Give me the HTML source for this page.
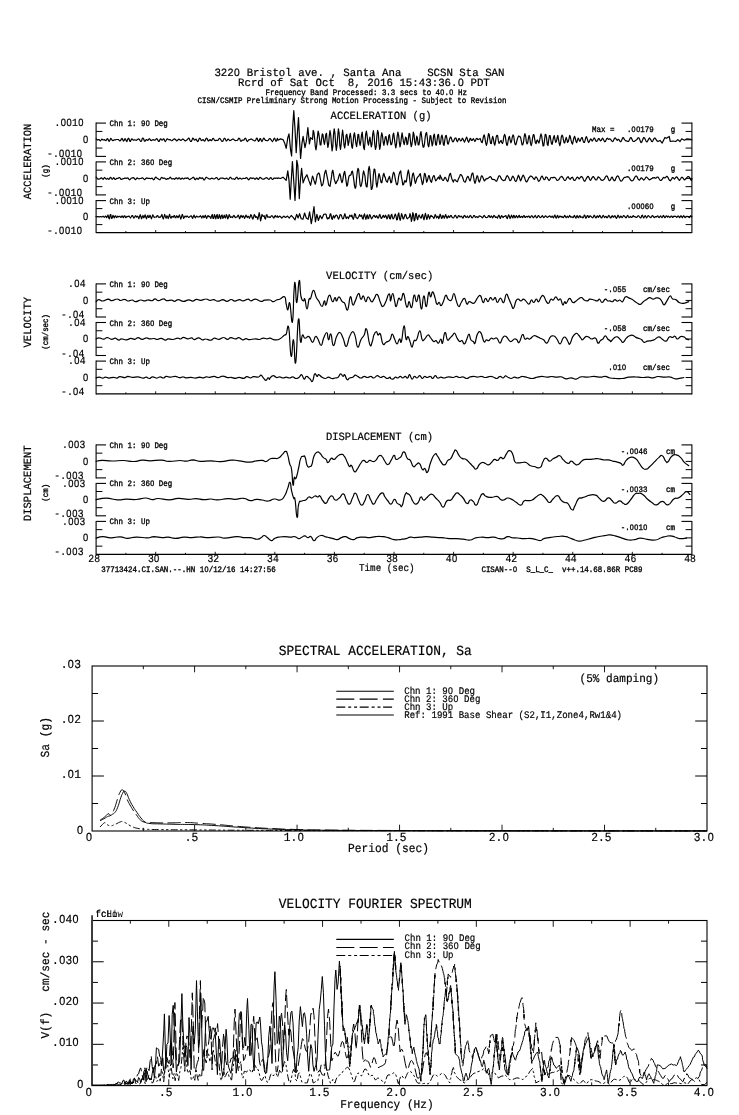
<!DOCTYPE html>
<html lang="en"><head><meta charset="utf-8"><title>Strong Motion Record - SCSN Sta SAN</title>
<style>
html,body{margin:0;padding:0;background:#fff;}
body{width:739px;height:1115px;overflow:hidden;}
svg{display:block;filter:grayscale(1);}
text{font-family:"Liberation Mono",monospace;fill:#000;text-rendering:geometricPrecision;white-space:pre;}
.z{font-family:"Liberation Sans",sans-serif;}
.s{stroke:#000;stroke-width:0.35px;}
.n{stroke:#000;stroke-width:0.2px;}
</style></head><body>
<svg width="739" height="1115" viewBox="0 0 739 1115">
<rect width="739" height="1115" fill="#fff"/>
<g stroke="#000" fill="none" stroke-linecap="butt">
<line x1="96.10" y1="122.60" x2="96.10" y2="156.90" stroke-width="1.1" />
<line x1="96.10" y1="123.10" x2="106.00" y2="123.10" stroke-width="1.1" />
<line x1="96.10" y1="131.43" x2="102.40" y2="131.43" stroke-width="1.0" />
<line x1="96.10" y1="148.07" x2="102.40" y2="148.07" stroke-width="1.0" />
<line x1="691.90" y1="122.60" x2="691.90" y2="156.90" stroke-width="1.1" />
<line x1="681.50" y1="123.10" x2="691.90" y2="123.10" stroke-width="1.1" />
<line x1="685.60" y1="131.43" x2="691.90" y2="131.43" stroke-width="1.0" />
<line x1="685.60" y1="139.75" x2="691.90" y2="139.75" stroke-width="1.0" />
<line x1="685.60" y1="148.07" x2="691.90" y2="148.07" stroke-width="1.0" />
<line x1="96.10" y1="156.40" x2="106.00" y2="156.40" stroke-width="1.1" />
<line x1="681.50" y1="156.40" x2="691.90" y2="156.40" stroke-width="1.1" />
<line x1="96.10" y1="161.40" x2="96.10" y2="195.40" stroke-width="1.1" />
<line x1="96.10" y1="161.90" x2="106.00" y2="161.90" stroke-width="1.1" />
<line x1="96.10" y1="170.15" x2="102.40" y2="170.15" stroke-width="1.0" />
<line x1="96.10" y1="186.65" x2="102.40" y2="186.65" stroke-width="1.0" />
<line x1="691.90" y1="161.40" x2="691.90" y2="195.40" stroke-width="1.1" />
<line x1="681.50" y1="161.90" x2="691.90" y2="161.90" stroke-width="1.1" />
<line x1="685.60" y1="170.15" x2="691.90" y2="170.15" stroke-width="1.0" />
<line x1="685.60" y1="178.40" x2="691.90" y2="178.40" stroke-width="1.0" />
<line x1="685.60" y1="186.65" x2="691.90" y2="186.65" stroke-width="1.0" />
<line x1="96.10" y1="194.90" x2="106.00" y2="194.90" stroke-width="1.1" />
<line x1="681.50" y1="194.90" x2="691.90" y2="194.90" stroke-width="1.1" />
<line x1="96.10" y1="200.10" x2="96.10" y2="233.10" stroke-width="1.1" />
<line x1="96.10" y1="200.60" x2="106.00" y2="200.60" stroke-width="1.1" />
<line x1="96.10" y1="208.60" x2="102.40" y2="208.60" stroke-width="1.0" />
<line x1="96.10" y1="224.60" x2="102.40" y2="224.60" stroke-width="1.0" />
<line x1="691.90" y1="200.10" x2="691.90" y2="233.10" stroke-width="1.1" />
<line x1="681.50" y1="200.60" x2="691.90" y2="200.60" stroke-width="1.1" />
<line x1="685.60" y1="208.60" x2="691.90" y2="208.60" stroke-width="1.0" />
<line x1="685.60" y1="216.60" x2="691.90" y2="216.60" stroke-width="1.0" />
<line x1="685.60" y1="224.60" x2="691.90" y2="224.60" stroke-width="1.0" />
<line x1="96.10" y1="232.60" x2="691.90" y2="232.60" stroke-width="1.1" />
<line x1="125.89" y1="231.00" x2="125.89" y2="232.60" stroke-width="0.9" />
<line x1="155.68" y1="230.00" x2="155.68" y2="232.60" stroke-width="0.9" />
<line x1="185.47" y1="231.00" x2="185.47" y2="232.60" stroke-width="0.9" />
<line x1="215.26" y1="230.00" x2="215.26" y2="232.60" stroke-width="0.9" />
<line x1="245.05" y1="231.00" x2="245.05" y2="232.60" stroke-width="0.9" />
<line x1="274.84" y1="230.00" x2="274.84" y2="232.60" stroke-width="0.9" />
<line x1="304.63" y1="231.00" x2="304.63" y2="232.60" stroke-width="0.9" />
<line x1="334.42" y1="230.00" x2="334.42" y2="232.60" stroke-width="0.9" />
<line x1="364.21" y1="231.00" x2="364.21" y2="232.60" stroke-width="0.9" />
<line x1="394.00" y1="230.00" x2="394.00" y2="232.60" stroke-width="0.9" />
<line x1="423.79" y1="231.00" x2="423.79" y2="232.60" stroke-width="0.9" />
<line x1="453.58" y1="230.00" x2="453.58" y2="232.60" stroke-width="0.9" />
<line x1="483.37" y1="231.00" x2="483.37" y2="232.60" stroke-width="0.9" />
<line x1="513.16" y1="230.00" x2="513.16" y2="232.60" stroke-width="0.9" />
<line x1="542.95" y1="231.00" x2="542.95" y2="232.60" stroke-width="0.9" />
<line x1="572.74" y1="230.00" x2="572.74" y2="232.60" stroke-width="0.9" />
<line x1="602.53" y1="231.00" x2="602.53" y2="232.60" stroke-width="0.9" />
<line x1="632.32" y1="230.00" x2="632.32" y2="232.60" stroke-width="0.9" />
<line x1="662.11" y1="231.00" x2="662.11" y2="232.60" stroke-width="0.9" />
<line x1="96.10" y1="283.40" x2="96.10" y2="317.50" stroke-width="1.1" />
<line x1="96.10" y1="283.90" x2="106.00" y2="283.90" stroke-width="1.1" />
<line x1="96.10" y1="292.17" x2="102.40" y2="292.17" stroke-width="1.0" />
<line x1="96.10" y1="308.73" x2="102.40" y2="308.73" stroke-width="1.0" />
<line x1="691.90" y1="283.40" x2="691.90" y2="317.50" stroke-width="1.1" />
<line x1="681.50" y1="283.90" x2="691.90" y2="283.90" stroke-width="1.1" />
<line x1="685.60" y1="292.17" x2="691.90" y2="292.17" stroke-width="1.0" />
<line x1="685.60" y1="300.45" x2="691.90" y2="300.45" stroke-width="1.0" />
<line x1="685.60" y1="308.73" x2="691.90" y2="308.73" stroke-width="1.0" />
<line x1="96.10" y1="317.00" x2="106.00" y2="317.00" stroke-width="1.1" />
<line x1="681.50" y1="317.00" x2="691.90" y2="317.00" stroke-width="1.1" />
<line x1="96.10" y1="322.00" x2="96.10" y2="356.00" stroke-width="1.1" />
<line x1="96.10" y1="322.50" x2="106.00" y2="322.50" stroke-width="1.1" />
<line x1="96.10" y1="330.75" x2="102.40" y2="330.75" stroke-width="1.0" />
<line x1="96.10" y1="347.25" x2="102.40" y2="347.25" stroke-width="1.0" />
<line x1="691.90" y1="322.00" x2="691.90" y2="356.00" stroke-width="1.1" />
<line x1="681.50" y1="322.50" x2="691.90" y2="322.50" stroke-width="1.1" />
<line x1="685.60" y1="330.75" x2="691.90" y2="330.75" stroke-width="1.0" />
<line x1="685.60" y1="339.00" x2="691.90" y2="339.00" stroke-width="1.0" />
<line x1="685.60" y1="347.25" x2="691.90" y2="347.25" stroke-width="1.0" />
<line x1="96.10" y1="355.50" x2="106.00" y2="355.50" stroke-width="1.1" />
<line x1="681.50" y1="355.50" x2="691.90" y2="355.50" stroke-width="1.1" />
<line x1="96.10" y1="360.60" x2="96.10" y2="394.40" stroke-width="1.1" />
<line x1="96.10" y1="361.10" x2="106.00" y2="361.10" stroke-width="1.1" />
<line x1="96.10" y1="369.30" x2="102.40" y2="369.30" stroke-width="1.0" />
<line x1="96.10" y1="385.70" x2="102.40" y2="385.70" stroke-width="1.0" />
<line x1="691.90" y1="360.60" x2="691.90" y2="394.40" stroke-width="1.1" />
<line x1="681.50" y1="361.10" x2="691.90" y2="361.10" stroke-width="1.1" />
<line x1="685.60" y1="369.30" x2="691.90" y2="369.30" stroke-width="1.0" />
<line x1="685.60" y1="377.50" x2="691.90" y2="377.50" stroke-width="1.0" />
<line x1="685.60" y1="385.70" x2="691.90" y2="385.70" stroke-width="1.0" />
<line x1="96.10" y1="393.90" x2="691.90" y2="393.90" stroke-width="1.1" />
<line x1="125.89" y1="392.30" x2="125.89" y2="393.90" stroke-width="0.9" />
<line x1="155.68" y1="391.30" x2="155.68" y2="393.90" stroke-width="0.9" />
<line x1="185.47" y1="392.30" x2="185.47" y2="393.90" stroke-width="0.9" />
<line x1="215.26" y1="391.30" x2="215.26" y2="393.90" stroke-width="0.9" />
<line x1="245.05" y1="392.30" x2="245.05" y2="393.90" stroke-width="0.9" />
<line x1="274.84" y1="391.30" x2="274.84" y2="393.90" stroke-width="0.9" />
<line x1="304.63" y1="392.30" x2="304.63" y2="393.90" stroke-width="0.9" />
<line x1="334.42" y1="391.30" x2="334.42" y2="393.90" stroke-width="0.9" />
<line x1="364.21" y1="392.30" x2="364.21" y2="393.90" stroke-width="0.9" />
<line x1="394.00" y1="391.30" x2="394.00" y2="393.90" stroke-width="0.9" />
<line x1="423.79" y1="392.30" x2="423.79" y2="393.90" stroke-width="0.9" />
<line x1="453.58" y1="391.30" x2="453.58" y2="393.90" stroke-width="0.9" />
<line x1="483.37" y1="392.30" x2="483.37" y2="393.90" stroke-width="0.9" />
<line x1="513.16" y1="391.30" x2="513.16" y2="393.90" stroke-width="0.9" />
<line x1="542.95" y1="392.30" x2="542.95" y2="393.90" stroke-width="0.9" />
<line x1="572.74" y1="391.30" x2="572.74" y2="393.90" stroke-width="0.9" />
<line x1="602.53" y1="392.30" x2="602.53" y2="393.90" stroke-width="0.9" />
<line x1="632.32" y1="391.30" x2="632.32" y2="393.90" stroke-width="0.9" />
<line x1="662.11" y1="392.30" x2="662.11" y2="393.90" stroke-width="0.9" />
<line x1="96.10" y1="444.40" x2="96.10" y2="478.40" stroke-width="1.1" />
<line x1="96.10" y1="444.90" x2="106.00" y2="444.90" stroke-width="1.1" />
<line x1="96.10" y1="453.15" x2="102.40" y2="453.15" stroke-width="1.0" />
<line x1="96.10" y1="469.65" x2="102.40" y2="469.65" stroke-width="1.0" />
<line x1="691.90" y1="444.40" x2="691.90" y2="478.40" stroke-width="1.1" />
<line x1="681.50" y1="444.90" x2="691.90" y2="444.90" stroke-width="1.1" />
<line x1="685.60" y1="453.15" x2="691.90" y2="453.15" stroke-width="1.0" />
<line x1="685.60" y1="461.40" x2="691.90" y2="461.40" stroke-width="1.0" />
<line x1="685.60" y1="469.65" x2="691.90" y2="469.65" stroke-width="1.0" />
<line x1="96.10" y1="477.90" x2="106.00" y2="477.90" stroke-width="1.1" />
<line x1="681.50" y1="477.90" x2="691.90" y2="477.90" stroke-width="1.1" />
<line x1="96.10" y1="482.90" x2="96.10" y2="516.30" stroke-width="1.1" />
<line x1="96.10" y1="483.40" x2="106.00" y2="483.40" stroke-width="1.1" />
<line x1="96.10" y1="491.50" x2="102.40" y2="491.50" stroke-width="1.0" />
<line x1="96.10" y1="507.70" x2="102.40" y2="507.70" stroke-width="1.0" />
<line x1="691.90" y1="482.90" x2="691.90" y2="516.30" stroke-width="1.1" />
<line x1="681.50" y1="483.40" x2="691.90" y2="483.40" stroke-width="1.1" />
<line x1="685.60" y1="491.50" x2="691.90" y2="491.50" stroke-width="1.0" />
<line x1="685.60" y1="499.60" x2="691.90" y2="499.60" stroke-width="1.0" />
<line x1="685.60" y1="507.70" x2="691.90" y2="507.70" stroke-width="1.0" />
<line x1="96.10" y1="515.80" x2="106.00" y2="515.80" stroke-width="1.1" />
<line x1="681.50" y1="515.80" x2="691.90" y2="515.80" stroke-width="1.1" />
<line x1="96.10" y1="520.90" x2="96.10" y2="554.90" stroke-width="1.1" />
<line x1="96.10" y1="521.40" x2="106.00" y2="521.40" stroke-width="1.1" />
<line x1="96.10" y1="529.65" x2="102.40" y2="529.65" stroke-width="1.0" />
<line x1="96.10" y1="546.15" x2="102.40" y2="546.15" stroke-width="1.0" />
<line x1="691.90" y1="520.90" x2="691.90" y2="554.90" stroke-width="1.1" />
<line x1="681.50" y1="521.40" x2="691.90" y2="521.40" stroke-width="1.1" />
<line x1="685.60" y1="529.65" x2="691.90" y2="529.65" stroke-width="1.0" />
<line x1="685.60" y1="537.90" x2="691.90" y2="537.90" stroke-width="1.0" />
<line x1="685.60" y1="546.15" x2="691.90" y2="546.15" stroke-width="1.0" />
<line x1="96.10" y1="554.40" x2="691.90" y2="554.40" stroke-width="1.1" />
<line x1="125.89" y1="552.80" x2="125.89" y2="554.40" stroke-width="0.9" />
<line x1="155.68" y1="551.80" x2="155.68" y2="554.40" stroke-width="0.9" />
<line x1="185.47" y1="552.80" x2="185.47" y2="554.40" stroke-width="0.9" />
<line x1="215.26" y1="551.80" x2="215.26" y2="554.40" stroke-width="0.9" />
<line x1="245.05" y1="552.80" x2="245.05" y2="554.40" stroke-width="0.9" />
<line x1="274.84" y1="551.80" x2="274.84" y2="554.40" stroke-width="0.9" />
<line x1="304.63" y1="552.80" x2="304.63" y2="554.40" stroke-width="0.9" />
<line x1="334.42" y1="551.80" x2="334.42" y2="554.40" stroke-width="0.9" />
<line x1="364.21" y1="552.80" x2="364.21" y2="554.40" stroke-width="0.9" />
<line x1="394.00" y1="551.80" x2="394.00" y2="554.40" stroke-width="0.9" />
<line x1="423.79" y1="552.80" x2="423.79" y2="554.40" stroke-width="0.9" />
<line x1="453.58" y1="551.80" x2="453.58" y2="554.40" stroke-width="0.9" />
<line x1="483.37" y1="552.80" x2="483.37" y2="554.40" stroke-width="0.9" />
<line x1="513.16" y1="551.80" x2="513.16" y2="554.40" stroke-width="0.9" />
<line x1="542.95" y1="552.80" x2="542.95" y2="554.40" stroke-width="0.9" />
<line x1="572.74" y1="551.80" x2="572.74" y2="554.40" stroke-width="0.9" />
<line x1="602.53" y1="552.80" x2="602.53" y2="554.40" stroke-width="0.9" />
<line x1="632.32" y1="551.80" x2="632.32" y2="554.40" stroke-width="0.9" />
<line x1="662.11" y1="552.80" x2="662.11" y2="554.40" stroke-width="0.9" />
</g>
<g stroke="#000" fill="none">
<rect x="92.10" y="666.00" width="614.90" height="165.00" stroke-width="1.1"/>
<line x1="143.34" y1="666.00" x2="143.34" y2="669.20" stroke-width="0.9" />
<line x1="143.34" y1="827.80" x2="143.34" y2="831.00" stroke-width="0.9" />
<line x1="194.58" y1="666.00" x2="194.58" y2="672.30" stroke-width="0.9" />
<line x1="194.58" y1="824.70" x2="194.58" y2="831.00" stroke-width="0.9" />
<line x1="245.82" y1="666.00" x2="245.82" y2="669.20" stroke-width="0.9" />
<line x1="245.82" y1="827.80" x2="245.82" y2="831.00" stroke-width="0.9" />
<line x1="297.07" y1="666.00" x2="297.07" y2="672.30" stroke-width="0.9" />
<line x1="297.07" y1="824.70" x2="297.07" y2="831.00" stroke-width="0.9" />
<line x1="348.31" y1="666.00" x2="348.31" y2="669.20" stroke-width="0.9" />
<line x1="348.31" y1="827.80" x2="348.31" y2="831.00" stroke-width="0.9" />
<line x1="399.55" y1="666.00" x2="399.55" y2="672.30" stroke-width="0.9" />
<line x1="399.55" y1="824.70" x2="399.55" y2="831.00" stroke-width="0.9" />
<line x1="450.79" y1="666.00" x2="450.79" y2="669.20" stroke-width="0.9" />
<line x1="450.79" y1="827.80" x2="450.79" y2="831.00" stroke-width="0.9" />
<line x1="502.03" y1="666.00" x2="502.03" y2="672.30" stroke-width="0.9" />
<line x1="502.03" y1="824.70" x2="502.03" y2="831.00" stroke-width="0.9" />
<line x1="553.27" y1="666.00" x2="553.27" y2="669.20" stroke-width="0.9" />
<line x1="553.27" y1="827.80" x2="553.27" y2="831.00" stroke-width="0.9" />
<line x1="604.52" y1="666.00" x2="604.52" y2="672.30" stroke-width="0.9" />
<line x1="604.52" y1="824.70" x2="604.52" y2="831.00" stroke-width="0.9" />
<line x1="655.76" y1="666.00" x2="655.76" y2="669.20" stroke-width="0.9" />
<line x1="655.76" y1="827.80" x2="655.76" y2="831.00" stroke-width="0.9" />
<line x1="92.10" y1="693.50" x2="98.10" y2="693.50" stroke-width="1.0" />
<line x1="701.00" y1="693.50" x2="707.00" y2="693.50" stroke-width="1.0" />
<line x1="92.10" y1="721.00" x2="103.90" y2="721.00" stroke-width="1.0" />
<line x1="695.20" y1="721.00" x2="707.00" y2="721.00" stroke-width="1.0" />
<line x1="92.10" y1="748.50" x2="98.10" y2="748.50" stroke-width="1.0" />
<line x1="701.00" y1="748.50" x2="707.00" y2="748.50" stroke-width="1.0" />
<line x1="92.10" y1="776.00" x2="103.90" y2="776.00" stroke-width="1.0" />
<line x1="695.20" y1="776.00" x2="707.00" y2="776.00" stroke-width="1.0" />
<line x1="92.10" y1="803.50" x2="98.10" y2="803.50" stroke-width="1.0" />
<line x1="701.00" y1="803.50" x2="707.00" y2="803.50" stroke-width="1.0" />
</g>
<g stroke="#000" fill="none">
<rect x="91.90" y="920.50" width="615.10" height="165.10" stroke-width="1.1"/>
<line x1="130.34" y1="920.50" x2="130.34" y2="923.70" stroke-width="0.9" />
<line x1="130.34" y1="1082.40" x2="130.34" y2="1085.60" stroke-width="0.9" />
<line x1="168.79" y1="920.50" x2="168.79" y2="926.80" stroke-width="0.9" />
<line x1="168.79" y1="1079.30" x2="168.79" y2="1085.60" stroke-width="0.9" />
<line x1="207.23" y1="920.50" x2="207.23" y2="923.70" stroke-width="0.9" />
<line x1="207.23" y1="1082.40" x2="207.23" y2="1085.60" stroke-width="0.9" />
<line x1="245.68" y1="920.50" x2="245.68" y2="926.80" stroke-width="0.9" />
<line x1="245.68" y1="1079.30" x2="245.68" y2="1085.60" stroke-width="0.9" />
<line x1="284.12" y1="920.50" x2="284.12" y2="923.70" stroke-width="0.9" />
<line x1="284.12" y1="1082.40" x2="284.12" y2="1085.60" stroke-width="0.9" />
<line x1="322.56" y1="920.50" x2="322.56" y2="926.80" stroke-width="0.9" />
<line x1="322.56" y1="1079.30" x2="322.56" y2="1085.60" stroke-width="0.9" />
<line x1="361.01" y1="920.50" x2="361.01" y2="923.70" stroke-width="0.9" />
<line x1="361.01" y1="1082.40" x2="361.01" y2="1085.60" stroke-width="0.9" />
<line x1="399.45" y1="920.50" x2="399.45" y2="926.80" stroke-width="0.9" />
<line x1="399.45" y1="1079.30" x2="399.45" y2="1085.60" stroke-width="0.9" />
<line x1="437.89" y1="920.50" x2="437.89" y2="923.70" stroke-width="0.9" />
<line x1="437.89" y1="1082.40" x2="437.89" y2="1085.60" stroke-width="0.9" />
<line x1="476.34" y1="920.50" x2="476.34" y2="926.80" stroke-width="0.9" />
<line x1="476.34" y1="1079.30" x2="476.34" y2="1085.60" stroke-width="0.9" />
<line x1="514.78" y1="920.50" x2="514.78" y2="923.70" stroke-width="0.9" />
<line x1="514.78" y1="1082.40" x2="514.78" y2="1085.60" stroke-width="0.9" />
<line x1="553.23" y1="920.50" x2="553.23" y2="926.80" stroke-width="0.9" />
<line x1="553.23" y1="1079.30" x2="553.23" y2="1085.60" stroke-width="0.9" />
<line x1="591.67" y1="920.50" x2="591.67" y2="923.70" stroke-width="0.9" />
<line x1="591.67" y1="1082.40" x2="591.67" y2="1085.60" stroke-width="0.9" />
<line x1="630.11" y1="920.50" x2="630.11" y2="926.80" stroke-width="0.9" />
<line x1="630.11" y1="1079.30" x2="630.11" y2="1085.60" stroke-width="0.9" />
<line x1="668.56" y1="920.50" x2="668.56" y2="923.70" stroke-width="0.9" />
<line x1="668.56" y1="1082.40" x2="668.56" y2="1085.60" stroke-width="0.9" />
<line x1="91.90" y1="941.14" x2="97.90" y2="941.14" stroke-width="1.0" />
<line x1="701.00" y1="941.14" x2="707.00" y2="941.14" stroke-width="1.0" />
<line x1="91.90" y1="961.77" x2="103.70" y2="961.77" stroke-width="1.0" />
<line x1="695.20" y1="961.77" x2="707.00" y2="961.77" stroke-width="1.0" />
<line x1="91.90" y1="982.41" x2="97.90" y2="982.41" stroke-width="1.0" />
<line x1="701.00" y1="982.41" x2="707.00" y2="982.41" stroke-width="1.0" />
<line x1="91.90" y1="1003.05" x2="103.70" y2="1003.05" stroke-width="1.0" />
<line x1="695.20" y1="1003.05" x2="707.00" y2="1003.05" stroke-width="1.0" />
<line x1="91.90" y1="1023.69" x2="97.90" y2="1023.69" stroke-width="1.0" />
<line x1="701.00" y1="1023.69" x2="707.00" y2="1023.69" stroke-width="1.0" />
<line x1="91.90" y1="1044.32" x2="103.70" y2="1044.32" stroke-width="1.0" />
<line x1="695.20" y1="1044.32" x2="707.00" y2="1044.32" stroke-width="1.0" />
<line x1="91.90" y1="1064.96" x2="97.90" y2="1064.96" stroke-width="1.0" />
<line x1="701.00" y1="1064.96" x2="707.00" y2="1064.96" stroke-width="1.0" />
</g>
<line x1="92.10" y1="915.20" x2="92.10" y2="1085.60" stroke="#3a3a3a" stroke-width="1.8"/>
<g stroke="#000" fill="none" stroke-linejoin="round" stroke-linecap="round">
<path d="M96.1 138.8 L96.8 139.4 L97.5 140.1 L98.2 139.7 L98.9 139.5 L99.6 140.2 L100.3 140.8 L101.0 140.1 L101.7 139.2 L102.4 139.4 L103.1 139.9 L103.8 139.8 L104.5 139.7 L105.2 140.3 L105.9 140.7 L106.6 139.7 L107.3 138.6 L108.0 139.2 L108.7 141.0 L109.4 141.3 L110.1 139.7 L110.8 138.4 L111.5 138.9 L112.2 140.3 L112.9 140.7 L113.6 140.2 L114.3 139.9 L115.0 139.9 L115.7 139.8 L116.4 139.5 L117.1 139.5 L117.8 139.5 L118.5 139.6 L119.2 140.3 L119.9 141.0 L120.6 140.6 L121.3 139.0 L122.0 138.3 L122.7 139.6 L123.4 141.1 L124.1 140.5 L124.8 138.8 L125.5 138.9 L126.2 140.9 L126.9 141.5 L127.6 139.6 L128.3 138.2 L129.0 138.8 L129.7 141.0 L130.4 141.4 L131.1 139.8 L131.8 138.8 L132.5 139.3 L133.2 140.1 L133.9 140.1 L134.6 139.8 L135.3 140.0 L136.0 140.3 L136.7 140.1 L137.4 139.6 L138.1 139.1 L138.8 138.9 L139.5 139.4 L140.2 140.9 L140.9 141.5 L141.6 140.9 L142.3 138.4 L143.0 138.2 L143.7 139.0 L144.4 141.1 L145.1 141.2 L145.8 140.0 L146.5 139.5 L147.2 140.2 L147.9 140.3 L148.6 139.4 L149.3 138.7 L150.0 139.3 L150.7 140.4 L151.4 140.6 L152.1 140.0 L152.8 139.7 L153.5 139.8 L154.2 140.2 L154.9 140.2 L155.6 139.7 L156.3 138.9 L157.0 138.7 L157.7 139.8 L158.4 141.3 L159.1 141.4 L159.8 139.9 L160.5 138.8 L161.2 139.3 L161.9 140.2 L162.6 139.8 L163.3 138.8 L164.0 139.1 L164.7 140.8 L165.4 141.5 L166.1 140.5 L166.8 139.0 L167.5 138.8 L168.2 139.5 L168.9 139.8 L169.6 139.6 L170.3 139.7 L171.0 140.4 L171.7 140.8 L172.4 140.5 L173.1 139.7 L173.8 139.1 L174.5 138.9 L175.2 139.2 L175.9 140.0 L176.6 140.8 L177.3 140.7 L178.0 139.8 L178.7 139.2 L179.4 139.4 L180.1 140.1 L180.8 140.5 L181.5 140.0 L182.2 139.3 L182.9 138.9 L183.6 139.4 L184.3 140.2 L185.0 140.8 L185.7 140.8 L186.4 140.3 L187.1 139.7 L187.8 139.0 L188.5 138.2 L189.2 138.4 L189.9 140.2 L190.6 141.5 L191.3 141.5 L192.0 140.0 L192.7 138.2 L193.4 138.4 L194.1 139.8 L194.8 140.2 L195.5 139.3 L196.2 139.2 L196.9 140.7 L197.6 141.5 L198.3 141.0 L199.0 138.9 L199.7 138.2 L200.4 138.8 L201.1 140.3 L201.8 140.6 L202.5 139.9 L203.2 139.7 L203.9 140.5 L204.6 141.2 L205.3 140.3 L206.0 138.6 L206.7 138.2 L207.4 139.2 L208.1 140.8 L208.8 140.9 L209.5 139.9 L210.2 139.7 L210.9 140.5 L211.6 140.7 L212.3 139.4 L213.0 138.3 L213.7 138.7 L214.4 140.1 L215.1 140.7 L215.8 140.4 L216.5 140.3 L217.2 140.5 L217.9 140.4 L218.6 139.3 L219.3 138.4 L220.0 138.5 L220.7 139.5 L221.4 140.8 L222.1 141.5 L222.8 141.2 L223.5 139.8 L224.2 138.3 L224.9 138.3 L225.6 139.8 L226.3 141.0 L227.0 140.5 L227.7 139.4 L228.4 139.1 L229.1 139.9 L229.8 140.6 L230.5 140.5 L231.2 140.0 L231.9 139.5 L232.6 139.1 L233.3 139.0 L234.0 139.6 L234.7 140.3 L235.4 140.6 L236.1 140.5 L236.8 140.5 L237.5 140.2 L238.2 139.2 L238.9 138.2 L239.6 138.6 L240.3 140.3 L241.0 141.3 L241.7 140.8 L242.4 140.0 L243.1 140.1 L243.8 140.2 L244.5 139.1 L245.2 138.2 L245.9 138.6 L246.6 140.6 L247.3 141.5 L248.0 140.9 L248.7 139.8 L249.4 139.6 L250.1 139.5 L250.8 139.1 L251.5 139.0 L252.2 139.5 L252.9 140.1 L253.6 140.5 L254.3 140.8 L255.0 140.9 L255.7 140.0 L256.4 138.4 L257.1 138.2 L257.8 139.9 L258.5 141.5 L259.2 140.7 L259.9 138.7 L260.6 138.7 L261.3 140.7 L262.0 141.5 L262.7 140.3 L263.4 138.4 L264.1 138.2 L264.8 139.5 L265.5 140.3 L266.2 140.5 L266.9 140.6 L267.6 140.7 L268.3 140.2 L269.0 139.1 L269.7 138.5 L270.4 138.8 L271.1 139.8 L271.8 140.9 L272.5 141.5 L273.2 140.5 L273.9 138.8 L274.6 138.2 L275.3 139.8 L276.0 141.3 L276.7 140.3 L277.4 138.4 L278.0 140.2 L280.5 138.9 L283.0 139.6 L284.5 142.7 L286.2 148.3 L287.8 137.7 L289.0 133.9 L290.6 150.2 L291.6 155.9 L292.8 125.1 L293.8 110.7 L295.0 128.9 L296.2 152.7 L297.5 131.4 L298.5 117.6 L299.6 141.4 L300.6 158.4 L301.9 143.9 L303.1 136.4 L305.0 147.7 L306.3 141.4 L307.9 127.6 L309.4 143.9 L310.6 137.7 L312.5 139.3 L313.2 130.4 L313.9 132.2 L314.6 138.2 L315.3 146.5 L316.0 149.8 L316.7 145.0 L317.4 137.3 L318.1 131.0 L318.8 133.6 L319.5 138.8 L320.2 144.9 L320.9 145.0 L321.6 138.8 L322.3 133.9 L323.0 134.6 L323.7 141.0 L324.4 144.5 L325.1 140.1 L325.8 134.4 L326.5 133.3 L327.2 142.2 L327.9 147.3 L328.6 143.7 L329.3 135.6 L330.0 130.6 L330.7 134.8 L331.4 143.8 L332.1 151.0 L332.8 146.4 L333.5 134.6 L334.2 128.9 L334.9 132.8 L335.6 143.6 L336.3 150.3 L337.0 145.5 L337.7 136.4 L338.4 128.9 L339.1 132.8 L339.8 145.1 L340.5 149.4 L341.2 144.0 L341.9 135.8 L342.6 130.2 L343.3 135.8 L344.0 144.9 L344.7 148.0 L345.4 143.2 L346.1 135.4 L346.8 134.2 L347.5 139.2 L348.2 145.4 L348.9 142.1 L349.6 136.3 L350.3 133.4 L351.0 138.2 L351.7 146.3 L352.4 148.3 L353.1 142.5 L353.8 135.0 L354.5 132.8 L355.2 137.6 L355.9 143.7 L356.6 146.6 L357.3 141.4 L358.0 134.3 L358.7 134.6 L359.4 141.9 L360.1 145.3 L360.8 141.7 L361.5 135.1 L362.2 132.1 L362.9 139.1 L363.6 147.3 L364.3 149.6 L365.0 142.7 L365.7 134.1 L366.4 131.2 L367.1 135.7 L367.8 142.6 L368.5 145.2 L369.2 140.4 L369.9 137.2 L370.6 142.2 L371.3 146.9 L372.0 144.0 L372.7 134.3 L373.4 130.6 L374.1 135.4 L374.8 145.0 L375.5 149.4 L376.2 146.5 L376.9 135.5 L377.6 130.4 L378.3 132.6 L379.0 143.5 L379.7 149.3 L380.4 145.7 L381.1 136.8 L381.8 132.8 L382.5 135.8 L383.2 142.2 L383.9 145.4 L384.6 141.4 L385.3 137.0 L386.0 136.5 L386.7 140.5 L387.4 144.9 L388.1 141.6 L388.8 135.7 L389.5 134.7 L390.2 140.3 L390.9 144.7 L391.6 144.7 L392.3 141.4 L393.0 134.7 L393.7 133.1 L394.4 138.6 L395.1 144.1 L395.8 147.9 L396.5 144.2 L397.2 136.0 L397.9 132.2 L398.6 135.1 L399.3 141.9 L400.0 146.9 L400.7 143.6 L401.4 137.3 L402.1 132.8 L402.8 137.3 L403.5 142.1 L404.2 144.7 L404.9 141.1 L405.6 137.1 L406.3 138.1 L407.0 144.6 L407.7 143.9 L408.4 138.4 L409.1 133.4 L409.8 133.9 L410.5 141.8 L411.2 146.7 L411.9 144.5 L412.6 139.0 L413.3 132.1 L414.0 134.5 L414.7 141.6 L415.4 145.2 L416.1 141.2 L416.8 136.1 L417.5 138.3 L418.2 144.9 L418.9 144.8 L419.6 141.1 L420.3 133.7 L421.0 131.6 L421.7 137.0 L422.4 142.9 L423.1 147.1 L423.8 147.2 L424.5 143.8 L425.2 137.2 L425.9 133.4 L426.6 132.5 L427.3 137.5 L428.0 145.0 L428.7 146.8 L429.4 142.5 L430.1 135.7 L430.8 135.9 L431.5 141.2 L432.2 145.9 L432.9 143.3 L433.6 135.9 L434.3 134.0 L435.0 138.9 L435.7 145.0 L436.4 145.2 L437.1 140.1 L437.8 134.9 L438.5 134.4 L439.2 140.5 L439.9 144.4 L440.6 142.7 L441.3 136.8 L442.0 135.1 L442.7 138.3 L443.4 144.7 L444.1 145.4 L444.8 140.1 L445.5 136.0 L446.2 135.4 L446.9 138.3 L447.6 143.8 L448.3 144.1 L449.0 141.5 L449.7 138.7 L450.4 137.1 L451.1 137.4 L451.8 139.8 L452.5 141.6 L453.2 141.8 L453.9 140.6 L454.6 138.8 L455.3 138.0 L456.0 138.0 L456.7 140.7 L457.4 141.7 L458.1 140.2 L458.8 138.6 L459.5 138.6 L460.2 140.4 L460.9 140.9 L461.6 140.2 L462.3 138.2 L463.0 138.9 L463.7 140.4 L464.4 142.1 L465.1 140.8 L465.8 138.9 L466.5 137.1 L467.2 138.3 L467.9 141.0 L468.6 142.3 L469.3 140.8 L470.0 138.5 L470.7 138.4 L471.4 140.5 L472.1 140.5 L472.8 139.2 L473.5 138.7 L474.2 140.2 L474.9 141.5 L475.6 140.4 L476.3 138.5 L477.0 138.3 L477.7 139.4 L478.0 139.6 L478.7 139.3 L479.4 139.0 L480.1 138.5 L480.8 140.4 L481.5 142.2 L482.2 142.6 L482.9 139.4 L483.6 135.9 L484.3 134.9 L485.0 138.7 L485.7 142.9 L486.4 145.4 L487.1 142.8 L487.8 137.9 L488.5 133.7 L489.2 134.4 L489.9 139.5 L490.6 143.5 L491.3 143.7 L492.0 139.1 L492.7 136.4 L493.4 138.6 L494.1 143.3 L494.8 145.2 L495.5 141.8 L496.2 137.0 L496.9 135.3 L497.6 135.5 L498.3 140.4 L499.0 143.4 L499.7 142.4 L500.4 141.2 L501.1 140.5 L501.8 142.6 L502.5 143.5 L503.2 141.2 L503.9 136.2 L504.6 134.4 L505.3 136.1 L506.0 141.2 L506.7 145.1 L507.4 145.2 L508.1 141.0 L508.8 137.3 L509.5 136.5 L510.2 140.3 L510.9 142.9 L511.6 141.1 L512.3 137.0 L513.0 134.9 L513.7 136.0 L514.4 141.1 L515.1 144.3 L515.8 144.8 L516.5 142.5 L517.2 139.5 L517.9 137.4 L518.6 136.0 L519.3 136.6 L520.0 136.4 L520.7 137.8 L521.4 141.4 L522.1 145.0 L522.8 144.7 L523.5 142.2 L524.2 136.5 L524.9 133.7 L525.6 135.8 L526.3 141.4 L527.0 144.0 L527.7 143.0 L528.4 138.3 L529.1 135.3 L529.8 138.0 L530.5 143.2 L531.2 145.7 L531.9 143.2 L532.6 137.8 L533.3 134.6 L534.0 134.9 L534.7 139.1 L535.4 142.8 L536.1 143.5 L536.8 140.4 L537.5 140.0 L538.2 142.0 L538.9 143.0 L539.6 140.5 L540.3 136.4 L541.0 133.9 L541.7 136.2 L542.4 141.4 L543.1 145.9 L543.8 145.6 L544.5 140.3 L545.2 134.3 L545.9 134.5 L546.6 138.0 L547.3 144.6 L548.0 145.5 L548.7 140.0 L549.4 135.6 L550.1 135.5 L550.8 140.0 L551.5 143.9 L552.2 144.3 L552.9 140.4 L553.6 137.2 L554.3 135.6 L555.0 139.6 L555.7 142.4 L556.4 141.5 L557.1 137.8 L557.8 135.4 L558.5 139.4 L559.2 143.5 L559.9 145.7 L560.6 142.5 L561.3 137.0 L562.0 135.1 L562.7 136.1 L563.4 139.8 L564.1 142.9 L564.8 142.9 L565.5 139.6 L566.2 137.4 L566.9 139.7 L567.6 142.5 L568.3 141.5 L569.0 138.8 L569.7 135.3 L570.4 137.0 L571.1 140.6 L571.8 143.0 L572.5 144.1 L573.2 141.0 L573.9 137.8 L574.6 136.3 L575.3 138.5 L576.0 141.4 L576.7 142.6 L577.4 140.3 L578.1 138.1 L578.8 139.0 L579.5 141.1 L580.2 141.1 L580.9 139.1 L581.6 137.7 L582.3 137.6 L583.0 140.6 L583.7 142.4 L584.4 142.5 L585.1 140.4 L585.8 137.4 L586.5 136.7 L587.2 138.6 L587.9 141.1 L588.6 142.5 L589.3 141.7 L590.0 140.0 L590.7 138.9 L591.4 139.5 L592.1 141.1 L592.8 140.1 L593.5 139.0 L594.2 137.9 L594.9 138.8 L595.6 140.4 L596.3 141.5 L597.0 141.2 L597.7 140.3 L598.4 138.5 L599.1 138.6 L599.8 139.8 L600.5 140.8 L601.2 140.4 L601.9 139.1 L602.6 138.1 L603.3 139.2 L604.0 140.6 L604.7 141.8 L605.4 141.4 L606.1 139.9 L606.8 138.5 L607.5 138.2 L608.2 139.2 L608.9 139.4 L609.6 138.8 L610.3 139.1 L611.0 139.9 L611.7 140.9 L612.4 141.6 L613.1 141.2 L613.8 139.7 L614.5 138.4 L615.2 137.8 L615.9 138.7 L616.6 139.8 L617.3 140.3 L618.0 139.3 L618.7 139.4 L619.4 140.3 L620.1 141.5 L620.8 141.8 L621.5 140.6 L622.2 138.9 L622.9 137.5 L623.6 137.8 L624.3 139.4 L625.0 140.1 L625.7 140.9 L626.4 140.9 L627.1 141.2 L627.8 141.3 L628.5 141.3 L629.2 140.3 L629.9 138.8 L630.6 137.6 L631.3 137.9 L632.0 139.2 L632.7 140.9 L633.4 141.5 L634.1 141.4 L634.8 141.1 L635.5 140.6 L636.2 140.0 L636.9 139.6 L637.6 138.3 L638.3 137.7 L639.0 138.1 L639.7 139.4 L640.4 141.4 L641.1 142.6 L641.8 142.0 L642.5 140.3 L643.2 138.3 L643.9 137.4 L644.6 137.9 L645.3 139.6 L646.0 141.1 L646.7 141.9 L647.4 141.6 L648.1 140.1 L648.8 138.9 L649.5 137.9 L650.2 138.9 L650.9 139.8 L651.6 141.4 L652.3 141.6 L653.0 140.6 L653.7 139.1 L654.4 138.1 L655.1 138.2 L655.8 139.1 L656.5 140.1 L657.2 141.1 L657.9 141.6 L660.0 140.4 L662.2 143.1 L664.9 137.5 L666.5 138.3 L669.2 136.4 L670.3 141.5 L673.0 141.0 L675.7 141.5 L677.9 139.6 L680.0 141.5 L681.7 138.8 L684.4 140.2 L687.0 138.8 L690.9 139.4 L691.9 139.8" stroke-width="1.2" />
<path d="M96.1 177.2 L96.8 177.9 L97.5 178.9 L98.2 179.2 L98.9 179.1 L99.6 179.0 L100.3 178.6 L101.0 177.8 L101.7 177.8 L102.4 178.8 L103.1 179.3 L103.8 178.4 L104.5 177.5 L105.2 178.0 L105.9 179.0 L106.6 179.1 L107.3 178.4 L108.0 178.6 L108.7 179.3 L109.4 179.0 L110.1 177.6 L110.8 177.3 L111.5 178.5 L112.2 179.4 L112.9 178.6 L113.6 177.7 L114.3 178.3 L115.0 179.4 L115.7 179.4 L116.4 178.6 L117.1 178.3 L117.8 178.4 L118.5 178.0 L119.2 177.5 L119.9 177.8 L120.6 178.9 L121.3 179.4 L122.0 179.2 L122.7 178.8 L123.4 178.6 L124.1 178.4 L124.8 178.1 L125.5 178.1 L126.2 178.4 L126.9 178.2 L127.6 177.9 L128.3 178.3 L129.0 179.4 L129.7 179.8 L130.4 179.1 L131.1 178.3 L131.8 178.0 L132.5 177.8 L133.2 177.6 L133.9 177.9 L134.6 178.9 L135.3 179.7 L136.0 179.2 L136.7 178.2 L137.4 177.9 L138.1 178.4 L138.8 178.8 L139.5 178.7 L140.2 178.5 L140.9 178.4 L141.6 178.2 L142.3 177.8 L143.0 178.1 L143.7 178.9 L144.4 179.6 L145.1 179.3 L145.8 178.4 L146.5 177.9 L147.2 178.1 L147.9 178.4 L148.6 178.4 L149.3 178.3 L150.0 178.5 L150.7 178.6 L151.4 178.3 L152.1 178.2 L152.8 178.9 L153.5 179.8 L154.2 179.5 L154.9 178.1 L155.6 177.2 L156.3 177.3 L157.0 178.2 L157.7 178.6 L158.4 178.9 L159.1 179.5 L159.8 179.8 L160.5 179.1 L161.2 177.7 L161.9 177.4 L162.6 178.1 L163.3 178.5 L164.0 178.1 L164.7 178.1 L165.4 178.8 L166.1 179.4 L166.8 179.1 L167.5 178.6 L168.2 178.8 L168.9 178.6 L169.6 177.8 L170.3 177.2 L171.0 178.0 L171.7 179.0 L172.4 179.0 L173.1 178.5 L173.8 178.8 L174.5 179.3 L175.2 178.8 L175.9 177.8 L176.6 177.8 L177.3 178.8 L178.0 178.9 L178.7 177.9 L179.4 177.8 L180.1 178.8 L180.8 179.4 L181.5 178.7 L182.2 178.0 L182.9 178.5 L183.6 179.1 L184.3 178.7 L185.0 178.0 L185.7 178.1 L186.4 178.4 L187.1 178.1 L187.8 177.8 L188.5 178.5 L189.2 179.5 L189.9 179.6 L190.6 178.9 L191.3 178.5 L192.0 178.2 L192.7 177.5 L193.4 177.2 L194.1 178.0 L194.8 179.4 L195.5 179.6 L196.2 178.6 L196.9 178.2 L197.6 179.0 L198.3 179.3 L199.0 178.3 L199.7 177.5 L200.4 178.0 L201.1 178.6 L201.8 178.1 L202.5 177.8 L203.2 178.8 L203.9 179.8 L204.6 179.8 L205.3 178.5 L206.0 177.3 L206.7 177.4 L207.4 178.0 L208.1 178.3 L208.8 178.7 L209.5 179.1 L210.2 179.1 L210.9 178.6 L211.6 178.2 L212.3 178.3 L213.0 178.6 L213.7 178.8 L214.4 178.8 L215.1 178.5 L215.8 177.8 L216.5 177.5 L217.2 178.0 L217.9 179.1 L218.6 179.7 L219.3 179.3 L220.0 178.5 L220.7 178.1 L221.4 178.1 L222.1 178.2 L222.8 178.1 L223.5 178.3 L224.2 178.7 L224.9 178.9 L225.6 178.6 L226.3 178.2 L227.0 178.4 L227.7 179.1 L228.4 179.5 L229.1 178.8 L229.8 177.5 L230.5 177.2 L231.2 178.0 L231.9 178.9 L232.6 179.0 L233.3 178.7 L234.0 179.0 L234.7 179.4 L235.4 178.8 L236.1 177.5 L236.8 177.2 L237.5 178.2 L238.2 179.2 L238.9 178.9 L239.6 178.2 L240.3 178.2 L241.0 178.8 L241.7 179.1 L242.4 178.7 L243.1 178.4 L243.8 178.4 L244.5 178.5 L245.2 178.4 L245.9 177.9 L246.6 177.7 L247.3 178.2 L248.0 179.2 L248.7 179.8 L249.4 179.2 L250.1 178.1 L250.8 177.7 L251.5 178.3 L252.2 178.6 L252.9 178.1 L253.6 178.0 L254.3 178.7 L255.0 179.4 L255.7 178.8 L256.4 177.9 L257.1 178.1 L257.8 179.2 L258.5 179.4 L259.2 178.4 L259.9 177.4 L260.6 177.5 L261.3 178.2 L262.0 178.8 L262.7 179.1 L263.4 179.2 L264.1 179.1 L264.8 178.6 L265.5 178.0 L266.2 177.7 L266.9 177.8 L267.6 178.4 L268.3 179.2 L269.0 179.4 L269.7 178.6 L270.4 177.6 L271.1 177.7 L271.8 178.8 L272.5 179.5 L273.2 179.0 L273.9 178.2 L274.6 178.1 L275.3 178.3 L276.0 178.2 L276.7 178.1 L277.4 178.5 L278.0 177.9 L280.5 178.5 L283.0 177.2 L284.9 179.1 L286.2 180.4 L287.8 170.9 L289.0 180.4 L290.2 199.2 L291.2 181.6 L292.4 161.5 L293.7 180.4 L295.0 200.5 L296.0 181.6 L296.8 160.3 L297.8 165.3 L299.3 198.6 L300.4 180.4 L301.6 168.4 L303.1 182.9 L305.0 177.9 L306.9 174.7 L308.8 180.4 L310.6 185.4 L312.5 176.0 L313.2 177.7 L313.9 180.2 L314.6 182.3 L315.3 184.2 L316.0 181.5 L316.7 177.3 L317.4 174.2 L318.1 173.8 L318.8 173.0 L319.5 174.1 L320.2 178.3 L320.9 181.8 L321.6 185.9 L322.3 185.3 L323.0 184.0 L323.7 179.8 L324.4 174.6 L325.1 171.7 L325.8 170.2 L326.5 173.7 L327.2 177.1 L327.9 180.5 L328.6 184.9 L329.3 185.8 L330.0 186.3 L330.7 181.8 L331.4 177.7 L332.1 172.0 L332.8 170.2 L333.5 173.9 L334.2 179.1 L334.9 181.2 L335.6 183.7 L336.3 183.0 L337.0 180.9 L337.7 180.4 L338.4 178.1 L339.1 175.5 L339.8 173.7 L340.5 175.9 L341.2 180.4 L341.9 182.7 L342.6 181.0 L343.3 176.7 L344.0 172.9 L344.7 171.3 L345.4 175.7 L346.1 181.2 L346.8 186.1 L347.5 185.1 L348.2 180.4 L348.9 176.6 L349.6 175.3 L350.3 175.3 L351.0 174.8 L351.7 171.7 L352.4 171.1 L353.1 174.8 L353.8 179.8 L354.5 185.6 L355.2 188.3 L355.9 187.0 L356.6 178.5 L357.3 171.6 L358.0 168.3 L358.7 170.0 L359.4 177.6 L360.1 184.8 L360.8 186.6 L361.5 184.7 L362.2 181.2 L362.9 174.7 L363.6 170.9 L364.3 173.6 L365.0 176.2 L365.7 183.7 L366.4 186.8 L367.1 186.8 L367.8 178.6 L368.5 169.4 L369.2 166.4 L369.9 170.7 L370.6 180.5 L371.3 189.4 L372.0 189.0 L372.7 185.5 L373.4 174.7 L374.1 169.0 L374.8 169.3 L375.5 174.7 L376.2 183.2 L376.9 187.1 L377.6 183.1 L378.3 177.4 L379.0 173.7 L379.7 175.6 L380.4 179.4 L381.1 182.5 L381.8 182.8 L382.5 179.0 L383.2 174.9 L383.9 173.3 L384.6 176.4 L385.3 177.6 L386.0 180.7 L386.7 181.6 L387.4 182.2 L388.1 179.4 L388.8 178.1 L389.5 176.3 L390.2 179.6 L390.9 182.8 L391.6 182.3 L392.3 177.8 L393.0 173.8 L393.7 172.2 L394.4 173.9 L395.1 177.8 L395.8 181.7 L396.5 184.3 L397.2 184.8 L397.9 182.3 L398.6 176.6 L399.3 173.7 L400.0 171.8 L400.7 170.8 L401.4 176.8 L402.1 180.2 L402.8 184.9 L403.5 184.5 L404.2 182.3 L404.9 180.4 L405.6 181.9 L406.3 181.8 L407.0 177.4 L407.7 172.6 L408.4 170.0 L409.1 173.9 L409.8 179.9 L410.5 186.1 L411.2 184.8 L411.9 178.7 L412.6 174.3 L413.3 173.0 L414.0 175.9 L414.7 180.3 L415.4 183.3 L416.1 181.4 L416.8 178.6 L417.5 177.4 L418.2 176.5 L418.9 176.0 L419.6 174.5 L420.3 173.7 L421.0 177.6 L421.7 181.0 L422.4 184.6 L423.1 183.1 L423.8 178.1 L424.5 173.4 L425.2 174.0 L425.9 177.6 L426.6 182.2 L427.3 181.0 L428.0 178.2 L428.7 175.6 L429.4 176.1 L430.1 179.6 L430.8 181.5 L431.5 182.4 L432.2 179.5 L432.9 177.1 L433.6 175.7 L434.3 175.9 L435.0 178.9 L435.7 180.9 L436.4 180.2 L437.1 179.0 L437.8 177.9 L438.5 177.0 L439.2 178.8 L439.9 179.1 L440.0 175.0 L440.7 176.5 L441.4 177.7 L442.1 179.5 L442.8 180.4 L443.5 180.3 L444.2 178.8 L444.9 177.3 L445.6 177.7 L446.3 179.3 L447.0 180.6 L447.7 181.5 L448.4 179.6 L449.1 176.2 L449.8 174.0 L450.5 173.4 L451.2 176.3 L451.9 178.9 L452.6 180.5 L453.3 182.1 L454.0 180.1 L454.7 179.8 L455.4 179.8 L456.1 180.9 L456.8 181.4 L457.5 181.8 L458.2 179.4 L458.9 177.9 L459.6 176.5 L460.3 174.7 L461.0 174.5 L461.7 175.4 L462.4 176.7 L463.1 178.8 L463.8 181.1 L464.5 182.0 L465.2 182.2 L465.9 180.8 L466.6 178.3 L467.3 176.9 L468.0 176.3 L468.7 177.9 L469.4 179.9 L470.1 180.9 L470.8 178.9 L471.5 175.2 L472.2 173.1 L472.9 173.2 L473.6 177.0 L474.3 181.3 L475.0 183.4 L475.7 181.4 L476.4 177.9 L477.1 175.7 L477.8 176.6 L478.5 180.1 L479.2 182.1 L479.9 180.9 L480.6 178.7 L481.3 176.1 L482.0 175.9 L482.7 177.0 L483.4 178.8 L484.1 180.6 L484.8 180.8 L485.5 179.2 L486.2 179.1 L486.9 178.4 L487.6 178.7 L488.3 178.1 L489.0 177.5 L489.7 176.8 L490.4 176.6 L491.1 177.2 L491.8 179.0 L492.5 179.4 L493.2 179.4 L493.9 179.6 L494.6 179.5 L495.3 180.4 L496.0 181.1 L496.7 181.2 L497.4 179.4 L498.1 177.8 L498.8 176.1 L499.5 175.8 L500.2 176.2 L500.9 177.9 L501.6 179.2 L502.3 179.9 L503.0 180.2 L503.7 180.7 L504.4 180.1 L505.1 180.2 L505.8 178.2 L506.5 176.5 L507.2 175.5 L507.9 176.4 L508.6 177.4 L509.3 179.3 L510.0 180.6 L510.7 180.4 L511.4 179.3 L512.1 177.2 L512.8 176.2 L513.5 176.9 L514.2 178.3 L514.9 180.6 L515.6 181.3 L516.3 181.1 L517.0 179.3 L517.7 177.2 L518.4 175.2 L519.1 176.5 L519.8 178.7 L520.5 180.9 L521.2 179.8 L521.9 177.8 L522.6 175.8 L523.3 175.1 L524.0 176.5 L524.7 178.1 L525.4 180.0 L526.1 181.7 L526.8 181.9 L527.5 180.9 L528.2 179.3 L528.9 177.8 L529.6 177.2 L530.3 176.1 L531.0 176.1 L531.7 176.5 L532.4 176.9 L533.1 178.1 L533.8 178.9 L534.5 179.4 L535.2 177.7 L535.9 176.8 L536.6 177.5 L537.3 178.4 L538.0 180.3 L538.7 181.3 L539.4 180.8 L540.1 179.7 L540.8 177.8 L541.5 176.5 L542.2 176.1 L542.9 177.5 L543.6 179.1 L544.3 179.7 L545.0 179.2 L545.7 177.1 L546.4 177.0 L547.1 177.4 L547.8 178.7 L548.5 179.9 L549.2 180.4 L549.9 179.7 L550.6 177.9 L551.3 177.5 L552.0 177.5 L552.7 177.9 L553.4 177.4 L554.1 177.4 L554.8 177.3 L555.5 178.2 L556.2 178.9 L556.9 180.3 L557.6 180.3 L558.3 179.9 L559.0 179.4 L559.7 178.2 L560.4 177.0 L561.1 176.8 L561.8 176.3 L562.5 177.2 L563.2 178.2 L563.9 179.6 L564.6 180.5 L565.3 180.4 L566.0 179.5 L566.7 178.1 L567.4 177.2 L568.1 176.6 L568.8 178.0 L569.5 178.7 L570.2 179.3 L570.9 178.3 L571.6 177.5 L572.3 177.2 L573.0 178.2 L573.7 180.0 L574.4 180.4 L575.1 180.3 L575.8 179.2 L576.5 178.0 L577.2 177.2 L577.9 177.4 L578.6 178.4 L579.3 178.9 L580.0 177.8 L580.7 177.0 L581.4 176.4 L582.1 176.9 L582.8 177.9 L583.5 179.7 L584.2 181.1 L584.9 181.2 L585.6 180.0 L586.3 178.6 L587.0 177.4 L587.7 176.3 L588.4 176.6 L589.1 177.9 L589.8 179.6 L590.5 180.4 L591.2 179.5 L591.9 178.1 L592.6 176.9 L593.3 176.5 L594.0 177.3 L594.7 178.4 L595.4 179.7 L596.1 180.0 L596.8 179.7 L597.5 178.1 L598.2 176.8 L598.9 177.4 L599.6 177.7 L600.3 178.8 L601.0 179.9 L601.7 180.2 L602.4 180.3 L603.1 180.1 L603.8 179.6 L604.5 178.9 L605.2 177.3 L605.9 176.2 L606.6 175.9 L607.3 176.3 L608.0 177.9 L608.7 179.8 L609.4 180.7 L610.1 180.3 L610.8 179.1 L611.5 177.5 L612.2 177.1 L612.9 178.6 L613.6 179.9 L614.3 180.8 L615.0 180.4 L615.7 178.7 L616.4 177.2 L617.1 176.2 L617.8 175.9 L618.5 176.4 L619.2 178.2 L619.9 179.8 L620.6 180.9 L621.3 181.1 L622.0 180.7 L622.7 179.6 L623.4 178.5 L624.1 177.6 L624.8 177.3 L625.5 177.5 L626.2 177.0 L626.9 176.8 L627.6 176.7 L628.3 176.8 L629.0 177.5 L629.7 178.5 L630.4 179.7 L631.1 180.6 L631.8 181.0 L632.5 180.7 L633.2 180.2 L633.9 179.2 L634.6 177.5 L635.3 176.6 L636.0 176.1 L636.7 176.2 L637.4 177.4 L638.1 179.1 L638.8 179.7 L639.5 180.2 L640.2 179.1 L640.9 178.1 L641.6 177.8 L642.3 178.5 L643.0 179.4 L643.7 180.1 L644.4 179.6 L645.1 178.5 L645.8 177.3 L646.5 177.0 L647.2 177.6 L647.9 178.4 L648.6 179.2 L649.3 179.9 L650.0 179.4 L650.7 179.3 L651.4 178.7 L652.1 178.5 L652.8 177.6 L653.5 177.8 L654.2 177.6 L654.9 177.8 L655.6 178.3 L656.3 177.9 L657.0 177.1 L657.7 177.0 L658.4 177.5 L659.1 178.7 L659.8 179.8 L660.5 180.5 L661.2 180.3 L661.9 179.7 L662.6 178.6 L663.3 177.6 L664.0 177.4 L664.7 178.0 L665.4 177.7 L666.1 176.9 L666.8 176.3 L667.5 176.8 L668.2 177.9 L668.9 179.4 L669.6 180.5 L670.3 180.8 L671.0 179.8 L671.7 178.9 L672.4 177.6 L673.1 177.6 L673.8 178.4 L674.5 179.0 L675.2 178.2 L675.9 177.2 L676.6 176.9 L677.3 177.2 L678.0 178.7 L678.7 179.6 L679.4 180.3 L680.1 179.5 L680.8 178.5 L681.5 177.4 L682.2 177.3 L682.9 177.9 L683.6 178.8 L684.3 179.9 L685.0 179.6 L685.7 179.0 L686.4 178.2 L687.1 177.4 L687.8 176.7 L688.5 176.6 L689.2 177.1 L689.9 178.0 L690.6 179.6 L691.3 180.5 L691.9 178.5" stroke-width="1.2" />
<path d="M96.1 216.4 L96.8 216.9 L97.5 216.7 L98.2 216.6 L98.9 216.8 L99.6 216.9 L100.3 216.6 L101.0 216.5 L101.7 217.0 L102.4 216.7 L103.1 216.2 L103.8 216.9 L104.5 217.3 L105.2 216.2 L105.9 216.4 L106.6 217.7 L107.3 216.3 L108.0 215.0 L108.7 217.9 L109.4 218.8 L110.1 215.1 L110.8 214.6 L111.5 218.3 L112.2 218.2 L112.9 215.3 L113.6 216.4 L114.3 217.9 L115.0 216.0 L115.7 215.8 L116.4 217.6 L117.1 217.2 L117.8 216.2 L118.5 216.8 L119.2 216.6 L119.9 216.2 L120.6 217.3 L121.3 217.1 L122.0 215.8 L122.7 216.9 L123.4 217.6 L124.1 215.9 L124.8 215.8 L125.5 217.6 L126.2 217.4 L126.9 216.3 L127.6 216.6 L128.3 216.5 L129.0 216.0 L129.7 217.0 L130.4 218.0 L131.1 217.0 L131.8 215.7 L132.5 215.6 L133.2 216.9 L133.9 218.1 L134.6 217.3 L135.3 215.7 L136.0 216.2 L136.7 217.0 L137.4 216.1 L138.1 216.9 L138.8 218.7 L139.5 216.6 L140.2 214.6 L140.9 216.7 L141.6 218.8 L142.3 216.5 L143.0 215.5 L143.7 217.8 L144.4 216.9 L145.1 214.8 L145.8 217.0 L146.5 218.8 L147.2 216.3 L147.9 215.3 L148.6 217.5 L149.3 217.2 L150.0 215.2 L150.7 216.7 L151.4 218.8 L152.1 216.9 L152.8 214.8 L153.5 216.2 L154.2 217.5 L154.9 217.0 L155.6 217.0 L156.3 217.2 L157.0 215.8 L157.7 215.6 L158.4 217.1 L159.1 217.6 L159.8 217.1 L160.5 217.2 L161.2 215.9 L161.9 214.5 L162.6 217.2 L163.3 219.0 L164.0 216.7 L164.7 214.4 L165.4 216.7 L166.1 218.3 L166.8 215.8 L167.5 216.4 L168.2 218.7 L168.9 216.4 L169.6 214.3 L170.3 217.0 L171.0 218.3 L171.7 216.4 L172.4 216.5 L173.1 217.3 L173.8 215.9 L174.5 215.6 L175.2 217.7 L175.9 217.7 L176.6 215.8 L177.3 216.4 L178.0 217.7 L178.7 216.4 L179.4 215.0 L180.1 216.9 L180.8 219.1 L181.5 217.1 L182.2 214.3 L182.9 215.7 L183.6 218.4 L184.3 217.5 L185.0 216.0 L185.7 216.7 L186.4 216.9 L187.1 215.9 L187.8 216.5 L188.5 217.5 L189.2 217.2 L189.9 216.6 L190.6 216.0 L191.3 215.8 L192.0 217.3 L192.7 218.3 L193.4 216.3 L194.1 215.1 L194.8 217.0 L195.5 217.8 L196.2 216.4 L196.9 216.2 L197.6 216.9 L198.3 216.9 L199.0 217.0 L199.7 216.6 L200.4 215.7 L201.1 216.8 L201.8 218.0 L202.5 216.3 L203.2 215.8 L203.9 217.7 L204.6 217.0 L205.3 215.2 L206.0 217.0 L206.7 218.4 L207.4 216.3 L208.1 215.7 L208.8 216.7 L209.5 216.3 L210.2 217.2 L210.9 218.4 L211.6 215.7 L212.3 214.5 L213.0 218.3 L213.7 218.4 L214.4 214.5 L215.1 216.3 L215.8 218.9 L216.5 215.8 L217.2 214.5 L217.9 218.5 L218.6 218.2 L219.3 214.6 L220.0 216.7 L220.7 218.8 L221.4 215.4 L222.1 215.0 L222.8 218.5 L223.5 217.5 L224.2 215.1 L224.9 217.4 L225.6 217.9 L226.3 214.6 L227.0 215.7 L227.7 218.9 L228.4 217.8 L229.1 214.5 L229.8 215.8 L230.5 217.5 L231.2 216.9 L231.9 217.1 L232.6 217.6 L233.3 216.0 L234.0 215.3 L234.7 216.9 L235.4 217.6 L236.1 217.0 L236.8 217.1 L237.5 216.4 L238.2 215.1 L238.9 216.5 L239.6 218.7 L240.3 217.2 L241.0 215.3 L241.7 216.7 L242.4 217.4 L243.1 215.7 L243.8 216.4 L244.5 218.4 L245.2 217.0 L245.9 215.1 L246.6 216.4 L247.3 217.5 L248.0 216.2 L248.7 216.6 L249.4 218.3 L250.1 217.0 L250.8 214.6 L251.5 215.3 L252.2 218.0 L252.9 219.1 L253.6 217.0 L254.3 214.5 L255.0 215.5 L255.7 217.5 L256.4 216.7 L257.1 217.2 L257.8 219.4 L258.5 216.2 L259.2 212.6 L259.9 216.1 L260.6 220.8 L261.3 218.1 L262.0 214.4 L262.7 216.0 L263.4 216.3 L264.1 215.7 L264.8 218.4 L265.5 219.0 L266.2 215.3 L266.9 214.7 L267.6 217.1 L268.3 217.2 L269.0 216.6 L269.7 217.4 L270.4 217.3 L271.1 216.2 L271.8 215.7 L272.5 216.0 L273.2 217.5 L273.9 218.1 L274.6 216.4 L275.3 215.5 L276.0 217.0 L276.7 217.0 L277.4 215.8 L278.0 217.4 L279.9 216.1 L281.8 218.0 L283.7 216.1 L285.5 217.4 L287.4 216.1 L289.3 218.0 L291.2 215.5 L293.1 217.4 L295.0 219.9 L296.6 214.3 L298.1 218.0 L299.6 213.6 L301.2 218.7 L302.9 219.3 L304.6 213.0 L306.3 218.0 L308.1 219.3 L309.6 211.8 L311.3 223.7 L312.5 216.8 L314.0 206.7 L315.4 221.8 L316.9 214.3 L318.4 220.5 L320.1 215.5 L321.9 218.7 L323.8 214.3 L326.0 214.0 L326.7 217.3 L327.4 219.0 L328.1 217.8 L328.8 218.7 L329.5 217.0 L330.2 213.9 L330.9 214.1 L331.6 218.3 L332.3 219.4 L333.0 216.7 L333.7 215.7 L334.4 218.0 L335.1 216.8 L335.8 215.3 L336.5 215.0 L337.2 215.9 L337.9 217.9 L338.6 219.1 L339.3 217.5 L340.0 214.9 L340.7 214.6 L341.4 215.4 L342.1 217.7 L342.8 218.9 L343.5 218.5 L344.2 215.7 L344.9 213.7 L345.6 216.5 L346.3 218.5 L347.0 217.0 L347.7 217.0 L348.4 218.6 L349.1 217.1 L349.8 215.1 L350.5 215.8 L351.2 216.6 L351.9 215.1 L352.6 217.8 L353.3 219.3 L354.0 216.8 L354.7 213.6 L355.4 214.4 L356.1 217.7 L356.8 217.9 L357.5 218.6 L358.2 217.6 L358.9 216.2 L359.6 214.6 L360.3 216.2 L361.0 216.2 L361.7 215.2 L362.4 218.4 L363.1 219.1 L363.8 215.6 L364.5 213.9 L365.2 216.9 L365.9 219.4 L366.6 216.3 L367.3 214.8 L368.0 218.7 L368.7 218.5 L369.4 214.9 L370.1 214.8 L370.8 217.1 L371.5 218.9 L372.2 217.9 L372.9 216.7 L373.6 215.5 L374.3 215.4 L375.0 217.0 L375.7 217.4 L376.4 215.7 L377.1 216.5 L377.8 218.1 L378.5 218.0 L379.2 215.3 L379.9 214.5 L380.6 216.8 L381.3 218.5 L382.0 217.8 L382.7 216.2 L383.4 215.3 L384.1 217.4 L384.8 216.9 L385.5 215.2 L386.2 216.3 L386.9 218.8 L387.6 217.9 L388.3 214.8 L389.0 215.1 L389.7 218.6 L390.4 218.8 L391.1 215.2 L391.8 214.3 L392.5 217.7 L393.2 218.9 L393.9 218.2 L394.6 215.7 L395.3 214.1 L396.0 216.0 L396.7 219.9 L397.4 219.5 L398.1 214.4 L398.8 213.0 L399.5 218.0 L400.2 220.3 L400.9 217.2 L401.6 213.6 L402.3 215.6 L403.0 218.9 L403.7 218.9 L404.4 216.5 L405.1 214.4 L405.8 214.7 L406.5 217.4 L407.2 218.8 L407.9 218.1 L408.6 217.7 L409.3 217.1 L410.0 213.7 L410.7 216.0 L411.4 221.3 L412.1 218.6 L412.8 212.6 L413.5 214.5 L414.2 220.8 L414.9 219.9 L415.6 213.8 L416.3 213.5 L417.0 218.3 L417.7 219.6 L418.4 216.2 L419.1 215.0 L419.8 216.4 L420.5 217.8 L421.2 218.1 L421.9 215.4 L422.6 214.4 L423.3 217.8 L424.0 219.8 L424.7 216.4 L425.4 213.3 L426.1 216.2 L426.8 219.5 L427.5 217.6 L428.2 214.5 L428.9 216.4 L429.6 218.8 L430.3 216.7 L431.0 215.4 L431.7 216.4 L432.4 216.3 L433.1 217.2 L433.8 218.4 L434.5 216.9 L435.2 214.5 L435.9 215.8 L436.6 217.9 L437.3 216.9 L438.0 216.2 L438.7 218.6 L439.4 217.3 L440.1 214.2 L440.8 215.5 L441.5 218.4 L442.2 217.9 L442.9 215.3 L443.6 216.6 L444.3 218.2 L445.0 216.3 L445.7 214.5 L446.4 216.8 L447.1 218.3 L447.8 216.7 L448.5 215.8 L449.2 217.5 L449.9 217.1 L450.6 215.5 L451.3 215.6 L452.0 217.3 L452.7 217.9 L453.4 218.0 L454.1 217.1 L454.8 215.6 L455.5 215.4 L456.2 216.7 L456.9 218.1 L457.6 217.5 L458.3 215.8 L459.0 215.5 L459.7 216.7 L460.4 217.0 L461.1 216.0 L461.8 216.4 L462.5 218.0 L463.2 218.0 L463.9 216.0 L464.6 215.3 L465.3 216.4 L466.0 217.5 L466.7 217.1 L467.4 216.0 L468.1 217.3 L468.8 217.7 L469.5 216.5 L470.2 215.4 L470.9 216.0 L471.6 217.6 L472.3 218.0 L473.0 217.0 L473.7 215.6 L474.4 215.6 L475.1 217.0 L475.8 217.5 L476.5 216.5 L477.2 216.8 L477.9 217.6 L478.6 216.9 L479.3 215.8 L480.0 216.2 L480.7 216.3 L481.4 216.7 L482.1 217.8 L482.8 217.6 L483.5 216.2 L484.2 215.4 L484.9 216.3 L485.6 217.4 L486.3 217.5 L487.0 217.6 L487.7 217.2 L488.4 215.7 L489.1 215.6 L489.8 217.1 L490.5 217.3 L491.2 215.9 L491.9 216.7 L492.6 217.9 L493.3 216.6 L494.0 215.4 L494.7 215.9 L495.4 217.4 L496.1 216.9 L496.8 217.3 L497.5 218.1 L498.2 216.0 L498.9 215.1 L499.6 216.8 L500.3 218.5 L501.0 216.8 L501.7 215.6 L502.4 216.7 L503.1 217.6 L503.8 216.5 L504.5 216.4 L505.2 216.0 L505.9 215.6 L506.6 217.7 L507.3 218.6 L508.0 216.3 L508.7 214.8 L509.4 216.4 L510.1 218.6 L510.8 217.1 L511.5 215.1 L512.2 217.0 L512.9 218.0 L513.6 215.4 L514.3 215.7 L515.0 217.8 L515.7 217.3 L516.4 215.6 L517.1 216.7 L517.8 217.8 L518.5 216.2 L519.2 215.3 L519.9 217.3 L520.6 217.5 L521.3 216.4 L522.0 216.6 L522.7 217.6 L523.4 216.1 L524.1 215.6 L524.8 217.2 L525.5 217.5 L526.2 216.4 L526.9 216.6 L527.6 217.1 L528.3 216.1 L529.0 216.1 L529.7 217.6 L530.4 217.6 L531.1 216.2 L531.8 215.7 L532.5 216.4 L533.2 217.8 L533.9 217.2 L534.6 216.3 L535.3 215.4 L536.0 216.8 L536.7 217.8 L537.4 217.2 L538.1 215.7 L538.8 215.7 L539.5 216.8 L540.2 217.6 L540.9 217.3 L541.6 216.3 L542.3 215.6 L543.0 216.6 L543.7 217.6 L544.4 217.2 L545.1 216.1 L545.8 215.9 L546.5 216.7 L547.2 217.3 L547.9 217.1 L548.6 216.6 L549.3 215.9 L550.0 216.2 L550.7 217.2 L551.4 217.1 L552.1 216.0 L552.8 217.1 L553.5 217.9 L554.2 216.0 L554.9 215.0 L555.6 217.3 L556.3 218.1 L557.0 216.2 L557.7 215.5 L558.4 217.8 L559.1 217.3 L559.8 216.0 L560.5 216.3 L561.2 217.2 L561.9 216.3 L562.6 217.2 L563.3 217.7 L564.0 216.7 L564.7 215.4 L565.4 216.4 L566.1 217.8 L566.8 216.7 L567.5 216.2 L568.2 217.5 L568.9 216.9 L569.6 215.5 L570.3 216.3 L571.0 217.3 L571.7 216.8 L572.4 217.1 L573.1 217.7 L573.8 216.2 L574.5 215.4 L575.2 217.1 L575.9 218.2 L576.6 216.1 L577.3 215.7 L578.0 217.5 L578.7 217.7 L579.4 215.8 L580.1 215.8 L580.8 217.4 L581.5 217.0 L582.2 216.8 L582.9 217.9 L583.6 217.1 L584.3 215.0 L585.0 215.7 L585.7 218.1 L586.4 217.9 L587.1 215.8 L587.8 215.5 L588.5 217.3 L589.2 217.3 L589.9 215.8 L590.6 216.0 L591.3 216.8 L592.0 217.4 L592.7 217.8 L593.4 216.9 L594.1 215.2 L594.8 215.9 L595.5 217.7 L596.2 217.8 L596.9 216.2 L597.6 215.8 L598.3 217.4 L599.0 216.7 L599.7 215.4 L600.4 216.2 L601.1 217.7 L601.8 217.9 L602.5 216.4 L603.2 215.3 L603.9 216.5 L604.6 217.6 L605.3 216.5 L606.0 216.3 L606.7 217.6 L607.4 217.7 L608.1 216.4 L608.8 215.4 L609.5 216.1 L610.2 217.7 L610.9 218.0 L611.6 216.5 L612.3 215.7 L613.0 216.9 L613.7 217.3 L614.4 215.8 L615.1 215.8 L615.8 217.5 L616.5 218.3 L617.2 216.9 L617.9 215.2 L618.6 215.9 L619.3 217.8 L620.0 217.5 L620.7 216.0 L621.4 216.7 L622.1 217.7 L622.8 216.8 L623.5 215.6 L624.2 215.9 L624.9 216.7 L625.6 217.7 L626.3 217.7 L627.0 216.2 L627.7 215.3 L628.4 216.5 L629.1 217.6 L629.8 217.1 L630.5 216.3 L631.2 217.4 L631.9 217.5 L632.6 216.3 L633.3 215.7 L634.0 216.7 L634.7 216.7 L635.4 216.9 L636.1 217.5 L636.8 217.3 L637.5 216.4 L638.2 215.7 L638.9 216.0 L639.6 217.0 L640.3 217.9 L641.0 217.7 L641.7 215.8 L642.4 215.2 L643.1 217.0 L643.8 218.0 L644.5 216.6 L645.2 215.6 L645.9 216.8 L646.6 217.9 L647.3 216.8 L648.0 215.7 L648.7 215.9 L649.4 216.6 L650.1 217.3 L650.8 217.6 L651.5 216.8 L652.2 215.6 L652.9 215.8 L653.6 217.1 L654.3 217.6 L655.0 216.8 L655.7 216.6 L656.4 217.0 L657.1 216.2 L657.8 215.9 L658.5 217.2 L659.2 217.6 L659.9 216.5 L660.6 215.8 L661.3 216.9 L662.0 217.7 L662.7 216.6 L663.4 215.4 L664.1 216.4 L664.8 217.7 L665.5 217.3 L666.2 215.8 L666.9 216.2 L667.6 217.2 L668.3 216.1 L669.0 216.5 L669.7 217.5 L670.4 217.0 L671.1 216.0 L671.8 216.1 L672.5 217.4 L673.2 217.1 L673.9 216.2 L674.6 216.4 L675.3 216.4 L676.0 216.6 L676.7 217.4 L677.4 216.8 L678.1 215.9 L678.8 216.3 L679.5 217.6 L680.2 217.0 L680.9 215.7 L681.6 216.6 L682.3 217.8 L683.0 216.6 L683.7 215.7 L684.4 216.7 L685.1 217.7 L685.8 217.0 L686.5 216.3 L687.2 216.5 L687.9 216.3 L688.6 217.0 L689.3 217.6 L690.0 216.6 L690.7 215.6 L691.4 216.9 L691.9 216.7" stroke-width="1.2" />
<path d="M96.1 301.7 C96.8 301.2 97.0 299.9 98.7 299.7 C100.4 299.5 100.6 301.2 103.0 301.0 C105.3 300.9 106.0 299.3 108.2 299.2 C110.5 299.2 109.8 300.8 112.0 300.7 C114.2 300.7 114.9 299.0 117.1 299.0 C119.2 298.9 118.8 300.5 120.7 300.5 C122.6 300.6 122.8 299.1 124.6 299.3 C126.4 299.4 126.1 300.8 128.0 301.0 C129.9 301.2 130.3 299.9 132.2 300.0 C134.1 300.2 133.6 301.7 135.7 301.7 C137.8 301.7 138.5 300.2 140.7 300.0 C142.9 299.8 142.7 301.0 144.5 300.9 C146.3 300.9 146.0 299.9 148.0 299.9 C149.9 299.8 150.4 301.0 152.2 300.7 C153.9 300.5 153.4 298.8 155.0 298.8 C156.6 298.8 156.4 300.7 158.5 300.7 C160.6 300.7 161.4 298.8 163.5 298.8 C165.5 298.7 164.6 300.3 166.6 300.6 C168.7 301.0 169.8 299.9 171.8 300.1 C173.8 300.2 172.8 301.4 174.5 301.3 C176.2 301.2 176.3 299.6 178.5 299.7 C180.7 299.7 180.7 301.4 183.3 301.4 C185.8 301.5 186.3 299.9 188.7 299.8 C191.0 299.7 190.8 301.2 192.7 301.1 C194.7 301.0 194.4 299.6 196.4 299.4 C198.4 299.2 198.3 300.5 200.7 300.3 C203.1 300.2 203.6 299.0 205.9 299.0 C208.3 298.9 208.1 300.2 210.0 300.3 C211.9 300.5 211.7 299.4 213.7 299.6 C215.6 299.8 215.5 301.2 217.8 301.2 C220.1 301.3 220.6 299.6 222.9 299.6 C225.1 299.7 224.8 301.4 226.9 301.4 C228.9 301.3 229.2 299.6 231.2 299.5 C233.2 299.4 232.7 301.0 234.8 301.1 C236.9 301.1 237.6 299.6 239.6 299.6 C241.7 299.6 241.0 301.1 243.1 300.9 C245.2 300.8 246.1 299.1 248.0 299.1 C250.0 299.0 249.1 300.8 251.0 300.8 C252.8 300.8 253.0 299.0 255.5 299.1 C258.0 299.3 258.6 301.2 260.9 301.4 C263.2 301.7 262.4 300.6 264.6 300.2 C266.9 299.9 267.8 299.7 270.0 300.0 C272.2 300.4 271.6 301.7 273.2 301.7 C274.9 301.7 274.9 300.7 276.5 300.0 C278.1 299.4 277.7 300.0 279.7 299.2 C281.8 298.4 283.0 295.6 284.6 296.8 C286.2 298.0 285.4 300.9 286.2 304.1 C287.1 307.3 287.0 310.0 287.9 309.8 C288.8 309.6 288.7 300.2 289.8 303.3 C290.9 306.3 291.4 325.0 292.4 322.0 C293.5 318.9 293.3 300.7 294.0 291.1 C294.7 281.6 294.5 281.0 295.2 283.8 C295.9 286.6 295.8 303.3 296.8 302.5 C297.8 301.7 298.2 282.2 299.2 280.6 C300.2 278.9 299.8 290.9 300.9 296.0 C301.9 301.1 302.3 300.0 303.3 300.9 C304.3 301.7 304.0 297.2 304.9 299.2 C305.8 301.3 306.0 309.0 307.0 309.0 C308.0 309.0 308.1 301.9 309.0 299.2 C309.9 296.6 309.5 300.7 310.6 298.4 C311.7 296.2 312.1 290.5 313.5 290.3 C314.9 290.1 315.0 295.0 316.3 297.6 C317.6 300.2 317.3 298.6 318.7 300.9 C320.1 303.1 320.5 306.5 322.0 306.5 C323.4 306.5 323.4 301.3 324.4 300.9 C325.4 300.4 324.8 306.3 326.0 304.9 C327.2 303.5 327.6 296.0 329.3 295.2 C330.9 294.4 331.1 301.1 332.5 301.7 C333.9 302.3 333.9 297.8 335.0 297.6 C336.0 297.4 335.6 301.1 336.6 300.9 C337.6 300.7 337.6 296.6 339.0 296.8 C340.4 297.0 340.8 300.0 342.3 301.7 C343.7 303.3 343.4 301.3 344.7 303.3 C346.0 305.3 346.2 311.4 347.6 309.8 C349.0 308.2 349.1 298.0 350.4 296.8 C351.7 295.6 351.6 303.9 352.8 304.9 C354.0 305.9 353.8 303.7 355.3 300.9 C356.7 298.0 357.1 294.0 358.5 293.5 C359.9 293.1 359.7 298.6 360.9 299.2 C362.2 299.8 362.2 295.4 363.4 296.0 C364.6 296.6 364.6 301.5 365.8 301.7 C367.0 301.9 366.8 296.8 368.2 296.8 C369.7 296.8 370.1 301.1 371.5 301.7 C372.9 302.3 372.5 301.1 373.9 299.2 C375.4 297.4 375.6 293.5 377.2 294.4 C378.8 295.2 379.0 299.4 380.4 302.5 C381.8 305.5 381.4 306.9 382.9 306.5 C384.3 306.1 384.7 303.9 386.1 300.9 C387.5 297.8 387.6 295.6 388.5 294.4 C389.5 293.1 389.5 294.4 390.0 296.0 C390.5 297.6 389.9 301.5 390.6 300.9 C391.2 300.2 391.7 293.5 392.7 293.5 C393.7 293.5 393.7 297.6 394.6 300.9 C395.5 304.1 395.2 307.1 396.2 306.5 C397.3 305.9 397.5 300.0 398.7 298.4 C399.9 296.8 399.9 301.3 401.1 300.0 C402.3 298.8 402.3 292.3 403.5 293.5 C404.8 294.8 405.0 301.7 406.0 304.9 C407.0 308.2 406.8 307.3 407.6 306.5 C408.4 305.7 408.2 301.5 409.2 301.7 C410.2 301.9 410.4 309.0 411.7 307.3 C412.9 305.7 412.9 296.6 414.1 295.2 C415.3 293.7 415.3 301.7 416.5 301.7 C417.8 301.7 417.8 293.3 419.0 295.2 C420.2 297.0 420.2 308.8 421.4 309.0 C422.6 309.2 422.6 296.6 423.8 296.0 C425.1 295.4 425.1 307.3 426.3 306.5 C427.5 305.7 427.6 295.2 428.7 292.7 C429.8 290.3 429.7 297.0 430.7 296.8 C431.7 296.6 431.6 291.5 432.8 291.9 C433.9 292.3 434.2 295.4 435.2 298.4 C436.2 301.5 435.8 303.1 436.8 304.1 C437.9 305.1 438.3 302.1 439.3 302.5 C440.3 302.9 439.9 305.9 440.9 305.7 C441.9 305.5 442.1 304.3 443.3 301.7 C444.6 299.0 444.6 295.8 445.8 295.2 C447.0 294.6 446.8 298.0 448.2 299.2 C449.6 300.4 450.0 301.5 451.5 300.0 C452.9 298.6 452.7 293.3 453.9 293.5 C455.1 293.7 455.1 297.6 456.3 300.9 C457.5 304.1 457.5 306.1 458.8 306.5 C460.0 306.9 459.8 304.5 461.2 302.5 C462.6 300.4 463.0 298.0 464.4 298.4 C465.9 298.8 465.7 303.3 466.9 304.1 C468.1 304.9 467.7 301.9 469.3 301.7 C470.9 301.5 471.8 303.5 473.4 303.3 C475.0 303.1 474.6 302.5 475.8 300.9 C477.0 299.2 477.0 298.0 478.2 296.8 C479.5 295.6 479.5 294.6 480.7 296.0 C481.9 297.4 481.9 301.9 483.1 302.5 C484.3 303.1 484.3 298.6 485.6 298.4 C486.8 298.2 486.8 301.9 488.0 301.7 C489.2 301.5 489.2 298.0 490.4 297.6 C491.6 297.2 491.6 300.0 492.9 300.0 C494.1 300.0 494.2 297.0 495.3 297.6 C496.4 298.2 496.1 302.3 497.2 302.5 C498.4 302.7 499.0 299.2 500.0 298.4 C501.0 297.6 500.4 298.2 501.4 299.2 C502.3 300.2 502.6 303.7 503.8 302.5 C505.0 301.3 505.0 295.4 506.2 294.4 C507.5 293.3 507.5 296.0 508.7 298.4 C509.9 300.9 509.9 301.7 511.1 304.1 C512.3 306.5 512.3 309.0 513.5 308.2 C514.8 307.3 514.8 303.1 516.0 300.9 C517.2 298.6 517.2 299.2 518.4 299.2 C519.6 299.2 519.6 300.9 520.9 300.9 C522.1 300.9 522.1 299.2 523.3 299.2 C524.5 299.2 524.3 299.6 525.7 300.9 C527.1 302.1 527.6 304.3 529.0 304.1 C530.4 303.9 530.2 300.4 531.4 300.0 C532.6 299.6 532.6 302.7 533.8 302.5 C535.1 302.3 535.1 299.4 536.3 299.2 C537.5 299.0 537.5 302.3 538.7 301.7 C539.9 301.1 539.9 298.2 541.2 296.8 C542.4 295.4 542.4 295.0 543.6 296.0 C544.8 297.0 544.8 299.0 546.0 300.9 C547.2 302.7 547.2 303.7 548.5 303.3 C549.7 302.9 549.7 300.0 550.9 299.2 C552.1 298.4 552.1 300.7 553.3 300.0 C554.6 299.4 554.6 296.8 555.8 296.8 C557.0 296.8 557.0 299.4 558.2 300.0 C559.4 300.7 559.5 298.0 560.6 299.2 C561.8 300.4 561.7 304.3 562.8 304.9 C563.8 305.5 563.8 302.1 564.7 301.7 C565.6 301.3 565.1 304.1 566.3 303.3 C567.5 302.5 567.9 298.6 569.6 298.4 C571.2 298.2 571.2 301.9 572.8 302.5 C574.4 303.1 574.4 301.9 576.1 300.9 C577.7 299.8 577.9 299.2 579.3 298.4 C580.7 297.6 580.5 297.2 581.8 297.6 C583.0 298.0 582.8 299.2 584.2 300.0 C585.6 300.9 586.0 301.1 587.4 300.9 C588.9 300.7 588.2 299.4 589.9 299.2 C591.5 299.0 592.1 299.6 593.9 300.0 C595.8 300.4 595.8 301.1 597.2 300.9 C598.6 300.7 598.4 298.8 599.6 299.2 C600.8 299.6 600.6 302.5 602.0 302.5 C603.5 302.5 603.9 299.6 605.3 299.2 C606.7 298.8 606.6 300.4 607.7 300.9 C608.9 301.3 608.8 300.7 610.0 300.9 C611.2 301.1 611.3 302.0 612.5 301.7 C613.7 301.3 613.7 299.7 614.9 299.6 C616.1 299.4 616.1 301.1 617.3 301.2 C618.6 301.3 618.5 299.9 619.8 300.0 C621.1 300.2 621.1 302.5 622.5 301.7 C624.0 300.9 623.9 297.7 625.5 296.8 C627.0 295.9 627.1 297.3 628.7 297.9 C630.3 298.5 630.3 298.3 632.0 299.2 C633.6 300.2 633.8 300.7 635.2 301.7 C636.6 302.7 636.3 302.6 637.6 303.3 C638.9 304.0 639.0 304.8 640.4 304.4 C641.8 304.0 641.8 302.9 643.3 301.7 C644.9 300.4 645.0 300.6 646.6 299.6 C648.2 298.5 648.2 297.7 649.8 297.6 C651.5 297.5 651.5 299.1 653.1 299.2 C654.7 299.3 654.7 298.1 656.3 297.9 C657.9 297.7 658.2 297.5 659.6 298.4 C661.0 299.4 660.9 300.0 662.0 301.7 C663.1 303.3 662.9 305.1 664.1 304.9 C665.3 304.7 665.4 303.1 666.9 300.9 C668.4 298.6 668.7 296.5 670.1 296.0 C671.5 295.5 671.1 298.0 672.6 298.9 C674.0 299.8 674.2 298.7 675.8 299.6 C677.4 300.4 677.4 301.5 679.1 302.5 C680.7 303.4 680.7 303.2 682.3 303.3 C683.9 303.4 683.9 303.2 685.6 302.8 C687.2 302.4 688.0 302.0 688.8 301.7" stroke-width="1.2" />
<path d="M96.1 339.0 C96.9 338.7 97.4 337.8 99.2 337.9 C101.1 337.9 101.6 339.3 103.6 339.2 C105.6 339.1 105.2 337.5 107.2 337.5 C109.2 337.6 109.5 339.1 111.6 339.3 C113.6 339.4 113.5 338.0 115.3 338.2 C117.1 338.5 117.3 340.0 118.8 340.1 C120.3 340.3 119.5 338.8 121.4 338.8 C123.3 338.7 124.0 340.0 126.3 339.9 C128.7 339.8 128.7 338.6 130.8 338.4 C132.9 338.3 133.0 339.5 134.8 339.3 C136.6 339.1 136.3 337.6 138.2 337.6 C140.0 337.6 140.2 339.4 142.2 339.4 C144.3 339.4 144.7 337.9 146.4 337.8 C148.2 337.6 147.5 338.8 149.4 338.9 C151.3 339.1 152.2 338.4 154.1 338.5 C156.0 338.6 155.3 339.5 157.0 339.5 C158.7 339.4 159.0 338.1 161.1 338.3 C163.2 338.5 163.6 340.1 165.4 340.2 C167.1 340.4 166.3 339.1 168.1 338.9 C170.0 338.8 170.6 339.7 172.9 339.5 C175.2 339.3 175.6 338.2 177.5 338.1 C179.4 337.9 179.1 339.2 180.6 339.0 C182.1 338.8 181.7 337.3 183.5 337.3 C185.2 337.3 185.7 338.7 187.7 338.9 C189.7 339.0 189.9 337.7 191.6 337.8 C193.2 338.0 192.6 339.6 194.3 339.6 C196.1 339.6 196.5 337.7 198.5 337.8 C200.6 337.9 200.6 339.6 202.4 339.9 C204.2 340.2 203.5 338.9 205.7 339.0 C207.8 339.0 208.7 340.5 210.9 340.2 C213.0 340.0 212.3 338.3 214.4 338.1 C216.4 337.9 216.9 339.5 219.2 339.3 C221.5 339.2 221.5 337.4 223.5 337.5 C225.6 337.5 225.7 339.3 227.5 339.4 C229.3 339.5 228.8 337.8 230.8 337.7 C232.8 337.6 233.4 338.9 235.4 338.9 C237.4 338.9 237.0 337.4 238.9 337.6 C240.7 337.9 241.0 339.6 242.8 339.8 C244.6 340.1 244.4 338.7 246.1 338.7 C247.8 338.7 247.5 339.7 249.7 339.7 C251.9 339.7 252.7 338.8 255.0 338.8 C257.4 338.7 257.1 339.6 259.2 339.5 C261.3 339.3 261.3 338.4 263.3 338.2 C265.3 338.1 265.4 338.9 267.0 338.9 C268.7 338.9 268.0 338.0 270.0 338.2 C272.0 338.4 272.4 339.6 274.9 339.8 C277.3 340.0 277.3 340.2 279.7 339.0 C282.2 337.8 283.0 336.2 284.6 335.0 C286.2 333.7 285.2 336.0 286.2 334.1 C287.3 332.3 287.5 322.2 288.7 327.6 C289.9 333.1 289.9 353.0 291.1 356.1 C292.3 359.1 292.4 338.2 293.5 339.8 C294.7 341.5 294.4 367.6 295.7 362.6 C296.9 357.5 297.2 324.8 298.4 319.5 C299.6 314.3 299.5 337.6 300.5 341.5 C301.5 345.3 301.4 335.8 302.5 335.0 C303.6 334.1 303.3 337.8 304.9 338.2 C306.5 338.6 307.1 335.6 309.0 336.6 C310.9 337.6 310.9 342.3 312.5 342.3 C314.2 342.3 314.1 337.4 315.5 336.6 C316.8 335.8 316.5 336.8 317.9 339.0 C319.3 341.2 319.7 345.7 321.2 345.5 C322.6 345.3 322.2 341.5 323.6 338.2 C325.0 335.0 325.6 332.1 326.8 332.5 C328.1 332.9 327.4 339.4 328.5 339.8 C329.5 340.2 329.7 332.7 330.9 334.1 C332.1 335.6 331.9 344.9 333.3 345.5 C334.8 346.1 335.0 339.8 336.6 336.6 C338.2 333.3 338.2 332.1 339.8 332.5 C341.5 332.9 341.5 334.8 343.1 338.2 C344.7 341.7 344.7 346.7 346.3 346.3 C347.9 345.9 347.9 340.2 349.6 336.6 C351.2 332.9 351.4 331.7 352.8 331.7 C354.2 331.7 354.0 332.7 355.3 336.6 C356.5 340.4 356.3 346.3 357.7 347.1 C359.1 347.9 359.3 342.9 360.9 339.8 C362.6 336.8 362.8 337.6 364.2 335.0 C365.6 332.3 365.2 326.8 366.6 329.3 C368.0 331.7 368.4 341.7 369.9 344.7 C371.3 347.7 371.3 343.9 372.3 341.5 C373.3 339.0 372.9 337.4 373.9 335.0 C374.9 332.5 375.4 331.7 376.4 331.7 C377.4 331.7 377.0 334.3 378.0 335.0 C379.0 335.6 379.2 331.9 380.4 334.1 C381.6 336.4 381.4 341.9 382.9 343.9 C384.3 345.9 384.3 343.3 386.1 342.3 C387.9 341.2 388.5 341.9 390.0 339.8 C391.5 337.8 391.0 334.3 392.2 334.1 C393.3 333.9 393.4 336.6 394.6 339.0 C395.8 341.5 395.8 343.9 397.1 343.9 C398.3 343.9 398.4 339.6 399.5 339.0 C400.6 338.4 400.3 344.7 401.4 341.5 C402.6 338.2 402.9 326.6 404.0 326.0 C405.2 325.4 405.0 336.4 406.0 339.0 C407.0 341.7 406.9 336.0 407.9 336.6 C408.9 337.2 409.0 338.8 410.0 341.5 C411.1 344.1 411.0 347.3 412.0 347.1 C413.0 346.9 413.0 342.5 414.1 340.6 C415.2 338.8 415.1 342.3 416.5 339.8 C418.0 337.4 418.4 330.9 419.8 330.9 C421.2 330.9 421.0 337.8 422.2 339.8 C423.4 341.9 423.2 340.2 424.7 339.0 C426.1 337.8 426.5 335.4 427.9 335.0 C429.3 334.6 428.9 335.8 430.3 337.4 C431.8 339.0 432.2 340.6 433.6 341.5 C435.0 342.3 434.8 340.2 436.0 340.6 C437.2 341.0 437.2 343.5 438.5 343.1 C439.7 342.7 439.9 339.0 440.9 339.0 C441.9 339.0 441.5 344.7 442.5 343.1 C443.5 341.5 443.7 333.3 445.0 332.5 C446.2 331.7 446.2 338.4 447.4 339.8 C448.6 341.2 448.6 339.2 449.8 338.2 C451.0 337.2 451.0 337.0 452.3 335.8 C453.5 334.6 453.5 332.7 454.7 333.3 C455.9 333.9 455.9 336.2 457.1 338.2 C458.4 340.2 458.4 340.8 459.6 341.5 C460.8 342.1 460.8 340.0 462.0 340.6 C463.2 341.2 463.2 344.3 464.4 343.9 C465.7 343.5 465.7 341.5 466.9 339.0 C468.0 336.6 468.0 333.9 469.0 334.1 C470.0 334.3 469.8 338.0 470.9 339.8 C472.0 341.7 472.4 340.6 473.4 341.5 C474.4 342.3 474.0 344.9 475.0 343.1 C476.0 341.2 476.0 336.8 477.4 334.1 C478.9 331.5 479.1 330.7 480.7 332.5 C482.3 334.3 482.5 339.6 483.9 341.5 C485.4 343.3 485.1 340.0 486.4 339.8 C487.6 339.6 487.6 341.0 488.8 340.6 C490.0 340.2 490.0 338.6 491.2 338.2 C492.5 337.8 492.3 339.0 493.7 339.0 C495.1 339.0 495.3 337.2 496.9 338.2 C498.5 339.2 498.5 343.3 500.0 343.1 C501.5 342.9 501.4 339.0 503.0 337.4 C504.5 335.8 504.4 335.6 506.2 336.6 C508.1 337.6 508.3 340.8 510.3 341.5 C512.3 342.1 512.7 339.4 514.4 339.0 C516.0 338.6 515.6 339.0 516.8 339.8 C518.0 340.6 517.8 343.6 519.2 342.3 C520.7 341.0 521.1 335.4 522.5 334.6 C523.9 333.8 523.7 338.1 524.9 339.0 C526.1 339.9 526.1 338.2 527.3 338.2 C528.6 338.2 528.2 339.6 529.8 339.0 C531.4 338.4 532.0 336.4 533.8 335.8 C535.7 335.2 535.5 336.0 537.1 336.6 C538.7 337.2 538.7 337.4 540.3 338.2 C542.0 339.0 542.0 338.6 543.6 339.8 C545.2 341.0 545.2 343.7 546.8 343.1 C548.5 342.5 548.7 339.2 550.1 337.4 C551.5 335.6 551.3 336.0 552.5 335.8 C553.7 335.6 553.7 335.6 555.0 336.6 C556.2 337.6 556.1 338.0 557.4 339.8 C558.7 341.7 558.7 344.3 560.2 343.9 C561.6 343.5 561.7 339.8 563.1 338.2 C564.4 336.6 564.3 336.6 565.5 337.4 C566.7 338.2 566.9 339.8 567.9 341.5 C569.0 343.1 568.7 345.1 569.9 343.9 C571.1 342.7 571.3 339.2 572.8 336.6 C574.4 333.9 574.6 333.7 576.1 333.3 C577.5 332.9 577.3 333.7 578.5 335.0 C579.7 336.2 579.9 337.0 580.9 338.2 C582.0 339.4 581.3 340.2 582.6 339.8 C583.8 339.4 584.2 337.2 585.8 336.6 C587.4 336.0 587.6 336.8 589.1 337.4 C590.5 338.0 589.9 338.8 591.5 339.0 C593.1 339.2 593.9 337.2 595.6 338.2 C597.2 339.2 596.8 342.5 598.0 343.1 C599.2 343.7 599.2 341.7 600.4 340.6 C601.6 339.6 601.6 340.2 602.9 339.0 C604.1 337.8 604.1 335.8 605.3 335.8 C606.5 335.8 606.6 337.8 607.7 339.0 C608.9 340.2 609.2 340.0 610.0 340.6 C610.8 341.2 609.8 342.1 610.9 341.5 C611.9 340.8 612.5 339.0 614.1 337.9 C615.7 336.7 615.7 336.4 617.3 336.9 C619.0 337.4 619.2 338.5 620.6 339.8 C622.0 341.2 621.6 342.7 623.0 342.3 C624.5 341.9 624.7 339.8 626.3 338.2 C627.9 336.6 627.9 336.5 629.5 335.8 C631.2 335.0 631.2 334.9 632.8 335.3 C634.4 335.7 634.4 336.6 636.0 337.4 C637.6 338.2 637.9 337.9 639.3 338.5 C640.7 339.1 640.5 338.9 641.7 339.8 C642.9 340.8 642.7 341.9 644.1 342.3 C645.6 342.6 645.6 341.5 647.4 341.1 C649.2 340.7 649.6 341.0 651.5 340.6 C653.3 340.2 652.9 340.4 654.7 339.5 C656.5 338.6 656.9 337.0 658.8 336.9 C660.6 336.8 660.2 338.0 662.0 339.0 C663.8 340.1 664.2 341.7 666.1 341.1 C667.9 340.6 667.7 337.8 669.3 336.9 C670.9 336.0 671.1 337.6 672.6 337.4 C674.0 337.2 673.8 335.8 675.0 336.3 C676.2 336.7 676.0 338.9 677.4 339.0 C678.9 339.1 679.1 337.1 680.7 336.6 C682.3 336.1 682.5 336.3 683.9 336.9 C685.4 337.5 685.1 338.3 686.4 339.0 C687.6 339.7 688.2 339.6 688.8 339.8" stroke-width="1.2" />
<path d="M96.1 377.8 C96.9 377.6 97.7 377.1 99.4 377.2 C101.1 377.3 101.3 378.1 102.8 378.1 C104.3 378.1 103.9 377.1 105.5 377.1 C107.0 377.1 107.0 378.1 109.0 378.1 C111.1 378.1 111.6 377.3 113.6 377.3 C115.6 377.3 115.4 378.3 117.0 378.1 C118.5 378.0 117.9 376.7 119.9 376.6 C121.9 376.5 122.9 377.7 124.9 377.6 C126.9 377.6 126.0 376.4 127.9 376.3 C129.8 376.3 130.1 377.2 132.5 377.4 C135.0 377.5 135.2 376.6 137.8 376.8 C140.5 377.0 141.0 378.0 143.1 378.1 C145.2 378.2 144.8 377.1 146.3 377.2 C147.9 377.3 147.7 378.6 149.3 378.5 C150.9 378.4 150.7 377.0 152.6 376.9 C154.5 376.8 155.0 378.1 156.9 378.1 C158.7 378.0 158.5 376.8 160.1 376.8 C161.8 376.7 161.8 378.1 163.3 378.0 C164.9 377.9 164.5 376.6 166.3 376.4 C168.1 376.2 168.2 377.2 170.4 377.2 C172.6 377.2 172.9 376.2 175.2 376.3 C177.5 376.4 177.6 377.5 179.6 377.6 C181.6 377.7 181.5 376.7 183.1 376.8 C184.7 376.8 184.0 377.7 185.9 377.8 C187.9 377.9 188.5 377.2 190.9 377.3 C193.3 377.4 193.2 378.1 195.4 378.1 C197.5 378.1 197.5 377.3 199.5 377.2 C201.6 377.2 201.8 378.0 203.5 377.9 C205.2 377.8 204.8 376.9 206.3 376.8 C207.8 376.7 207.6 377.4 209.6 377.3 C211.5 377.2 212.1 376.3 214.2 376.4 C216.2 376.5 215.8 377.7 217.9 377.6 C220.0 377.6 220.2 376.2 222.7 376.2 C225.1 376.1 225.6 377.3 227.7 377.6 C229.8 377.9 229.1 377.1 231.0 377.3 C233.0 377.5 233.5 378.4 235.5 378.4 C237.6 378.4 237.1 377.3 239.1 377.3 C241.1 377.3 241.6 378.5 243.6 378.4 C245.5 378.2 245.1 376.8 246.9 376.7 C248.6 376.6 248.8 377.9 250.5 377.9 C252.1 377.9 251.6 376.9 253.6 376.7 C255.6 376.5 256.6 377.4 258.5 377.0 C260.4 376.6 259.8 374.8 261.0 375.1 C262.2 375.4 262.2 376.8 263.5 378.1 C264.8 379.4 264.9 380.4 266.0 380.3 C267.1 380.2 267.1 378.1 268.0 377.8 C268.9 377.6 269.0 379.3 269.5 379.3 C270.0 379.3 269.1 378.9 270.0 378.0 C270.9 377.1 271.6 375.7 273.2 375.6 C274.9 375.4 274.9 377.2 276.5 377.5 C278.1 377.8 278.1 376.7 279.7 376.9 C281.4 377.0 281.4 377.9 283.0 378.0 C284.6 378.1 284.6 377.2 286.2 377.2 C287.9 377.2 287.9 378.1 289.5 378.0 C291.1 377.9 291.1 376.7 292.7 376.9 C294.4 377.0 294.4 378.4 296.0 378.5 C297.6 378.6 297.8 378.1 299.2 377.2 C300.7 376.2 300.4 374.3 301.7 374.7 C302.9 375.2 302.9 378.7 304.1 379.1 C305.3 379.5 305.1 376.4 306.5 376.4 C308.0 376.3 308.3 377.6 309.8 378.8 C311.3 380.0 311.3 382.5 312.5 381.2 C313.8 380.0 313.5 375.1 314.7 373.9 C315.8 372.7 316.1 376.2 317.1 376.4 C318.1 376.6 317.5 374.5 318.7 374.7 C319.9 374.9 320.3 376.2 322.0 377.2 C323.6 378.1 323.6 378.5 325.2 378.5 C326.8 378.5 326.8 377.2 328.5 377.2 C330.1 377.2 330.1 378.3 331.7 378.5 C333.3 378.7 333.3 378.3 335.0 378.0 C336.6 377.7 336.8 378.2 338.2 377.2 C339.6 376.2 339.4 374.1 340.6 373.9 C341.9 373.7 342.1 376.2 343.1 376.4 C344.1 376.6 343.7 373.9 344.7 374.7 C345.7 375.6 345.9 378.8 347.1 379.6 C348.4 380.4 348.2 378.6 349.6 378.0 C351.0 377.4 351.4 377.9 352.8 377.2 C354.2 376.5 354.0 375.4 355.3 375.2 C356.5 375.0 356.3 375.7 357.7 376.4 C359.1 377.1 359.3 378.0 360.9 378.0 C362.6 378.0 362.6 376.5 364.2 376.4 C365.8 376.2 365.8 377.5 367.4 377.5 C369.1 377.5 369.1 376.2 370.7 376.4 C372.3 376.5 372.3 378.2 373.9 378.0 C375.6 377.8 375.6 375.7 377.2 375.6 C378.8 375.4 378.8 377.3 380.4 377.5 C382.0 377.7 382.0 376.1 383.7 376.4 C385.3 376.6 385.3 378.3 386.9 378.5 C388.5 378.7 389.1 377.2 390.0 377.2 C390.9 377.2 389.8 378.0 390.6 378.5 C391.3 379.0 391.8 379.5 393.0 379.1 C394.2 378.8 394.2 377.5 395.4 377.2 C396.6 376.9 396.6 378.2 397.9 378.0 C399.1 377.8 399.1 376.4 400.3 376.4 C401.5 376.4 401.5 378.0 402.7 378.0 C404.0 378.0 404.0 376.4 405.2 376.4 C406.4 376.4 406.5 378.4 407.6 378.0 C408.7 377.6 408.5 374.5 409.6 374.7 C410.7 375.0 410.8 378.7 412.0 379.1 C413.2 379.5 413.2 376.6 414.4 376.4 C415.7 376.1 415.7 378.2 417.0 378.0 C418.4 377.8 418.5 375.4 419.8 375.6 C421.1 375.7 421.0 378.3 422.2 378.5 C423.4 378.7 423.4 376.6 424.7 376.4 C425.9 376.1 425.7 377.5 427.1 377.5 C428.5 377.5 428.9 376.1 430.3 376.4 C431.8 376.6 431.6 378.7 432.8 378.5 C434.0 378.3 434.0 375.7 435.2 375.6 C436.4 375.4 436.2 377.6 437.6 378.0 C439.1 378.4 439.3 377.2 440.9 377.2 C442.5 377.2 442.3 378.1 444.1 378.0 C446.0 377.9 446.0 377.0 448.2 376.9 C450.4 376.7 451.0 377.6 453.1 377.5 C455.1 377.4 454.7 376.4 456.3 376.4 C457.9 376.4 457.9 377.4 459.6 377.5 C461.2 377.6 461.0 376.6 462.8 376.9 C464.6 377.1 465.1 378.5 466.9 378.5 C468.7 378.5 468.3 377.4 470.1 376.9 C472.0 376.3 472.4 376.3 474.2 376.4 C476.0 376.4 475.6 377.2 477.4 377.2 C479.3 377.2 479.5 376.3 481.5 376.4 C483.5 376.4 483.3 377.5 485.6 377.5 C487.8 377.5 488.4 376.4 490.4 376.4 C492.5 376.3 492.0 376.6 493.7 377.2 C495.3 377.7 495.3 378.7 496.9 378.5 C498.5 378.3 498.5 376.5 500.0 376.4 C501.5 376.2 501.6 378.1 503.0 378.0 C504.3 377.9 504.2 376.1 505.4 375.9 C506.6 375.7 506.4 376.5 507.9 377.2 C509.3 377.8 509.5 378.5 511.1 378.5 C512.7 378.5 512.7 377.3 514.4 377.2 C516.0 377.1 516.2 378.0 517.6 378.0 C519.0 378.0 518.8 377.6 520.0 377.2 C521.3 376.8 520.7 376.3 522.5 376.4 C524.3 376.4 524.9 377.0 527.3 377.5 C529.8 378.0 529.8 378.6 532.2 378.5 C534.7 378.4 534.7 377.7 537.1 377.2 C539.5 376.6 539.5 376.4 542.0 376.4 C544.4 376.4 544.4 377.1 546.8 377.2 C549.3 377.2 549.3 376.5 551.7 376.5 C554.1 376.5 554.1 377.1 556.6 377.2 C559.0 377.3 559.0 376.4 561.5 376.9 C563.9 377.3 563.9 378.6 566.3 378.8 C568.8 379.0 568.8 377.7 571.2 377.8 C573.6 377.9 573.6 379.4 576.1 379.1 C578.5 378.9 578.1 377.3 580.9 376.9 C583.8 376.4 584.2 377.3 587.4 377.2 C590.7 377.1 590.7 376.4 593.9 376.4 C597.2 376.4 597.6 377.2 600.4 377.2 C603.3 377.2 602.9 376.2 605.3 376.4 C607.7 376.6 607.4 377.5 610.0 378.0 C612.6 378.5 612.7 378.4 615.7 378.5 C618.8 378.6 619.0 378.8 622.2 378.5 C625.5 378.2 625.5 377.6 628.7 377.2 C632.0 376.8 632.0 376.8 635.2 376.9 C638.5 376.9 638.5 377.4 641.7 377.5 C645.0 377.6 645.4 377.1 648.2 377.2 C651.0 377.3 650.6 378.0 653.1 377.8 C655.5 377.7 655.1 376.7 657.9 376.5 C660.8 376.4 661.6 377.1 664.4 377.2 C667.3 377.3 666.9 376.5 669.3 376.9 C671.8 377.2 672.2 378.0 674.2 378.5 C676.2 379.0 675.0 379.0 677.4 378.8 C679.9 378.6 682.3 377.8 683.9 377.5" stroke-width="1.2" />
<path d="M96.1 461.4 C97.9 461.0 97.4 460.4 102.2 460.3 C107.0 460.2 105.8 460.9 112.1 461.0 C118.4 461.0 116.8 460.4 123.2 460.5 C129.7 460.7 127.9 461.6 133.6 461.5 C139.3 461.4 137.2 460.4 142.2 460.2 C147.2 460.0 144.5 460.8 150.2 460.8 C156.0 460.8 155.7 460.0 161.3 460.2 C166.9 460.3 163.3 461.3 169.0 461.4 C174.6 461.5 175.0 460.6 180.2 460.5 C185.4 460.5 182.5 461.3 186.4 461.2 C190.2 461.0 188.8 459.9 192.9 459.9 C197.0 460.0 194.8 461.1 200.1 461.4 C205.4 461.7 204.4 460.8 210.6 460.8 C216.9 460.9 214.6 461.8 220.9 461.6 C227.1 461.4 226.0 460.3 231.4 460.1 C236.9 459.9 233.5 460.3 239.1 460.9 C244.6 461.5 244.9 462.1 250.0 462.1 C255.1 462.1 252.4 461.3 256.1 460.9 C259.7 460.4 259.1 460.3 262.2 460.4 C265.2 460.6 263.8 461.9 266.2 461.5 C268.7 461.0 267.9 459.7 270.3 458.8 C272.7 457.9 271.9 458.7 274.4 458.4 C276.8 458.2 276.0 459.2 278.4 458.0 C280.9 456.8 280.3 456.4 282.5 454.4 C284.6 452.3 284.0 451.3 285.5 451.3 C287.0 451.3 286.3 450.7 287.5 454.4 C288.8 458.0 288.4 458.9 289.6 463.5 C290.8 468.1 290.6 463.2 291.6 469.6 C292.6 476.0 292.2 482.4 293.0 484.8 C293.8 487.2 293.5 479.5 294.2 477.7 C295.0 475.9 294.8 479.6 295.7 478.7 C296.5 477.8 296.2 478.0 297.1 474.7 C298.0 471.3 297.6 472.4 298.7 467.5 C299.8 462.7 299.4 461.8 300.7 458.4 C302.1 455.1 301.8 456.7 303.2 456.4 C304.5 456.1 304.0 454.7 305.2 457.4 C306.4 460.1 305.8 462.8 307.2 465.5 C308.6 468.3 308.5 466.8 309.9 466.5 C311.3 466.2 310.7 467.5 311.9 464.5 C313.1 461.5 312.4 460.0 313.9 456.4 C315.5 452.7 315.2 453.2 317.0 452.3 C318.8 451.4 318.2 451.8 320.0 453.3 C321.8 454.9 321.2 455.6 323.1 457.4 C324.9 459.2 324.6 457.9 326.1 459.4 C327.6 461.0 326.6 462.8 328.1 462.5 C329.7 462.2 329.4 459.3 331.2 458.4 C333.0 457.5 332.4 460.0 334.2 459.4 C336.1 458.8 335.1 457.9 337.3 456.4 C339.4 454.9 339.2 454.4 341.3 454.4 C343.5 454.4 342.6 453.9 344.4 456.4 C346.2 458.8 345.9 459.4 347.4 462.5 C348.9 465.5 348.2 465.6 349.5 466.5 C350.7 467.4 350.0 464.0 351.5 465.5 C353.0 467.0 352.7 470.7 354.5 471.6 C356.4 472.5 355.7 471.0 357.6 468.6 C359.4 466.1 358.8 465.9 360.6 463.5 C362.4 461.1 361.8 460.7 363.7 460.4 C365.5 460.1 364.9 462.5 366.7 462.5 C368.5 462.5 367.9 460.7 369.7 460.4 C371.6 460.1 371.0 461.5 372.8 461.5 C374.6 461.5 374.0 462.1 375.8 460.4 C377.7 458.8 377.1 457.2 378.9 456.0 C380.7 454.8 380.1 454.7 381.9 456.4 C383.8 458.0 383.1 459.0 385.0 461.5 C386.8 463.9 386.2 464.8 388.0 464.5 C389.8 464.2 389.2 463.2 391.1 460.4 C392.9 457.7 392.6 455.7 394.1 455.4 C395.6 455.1 394.4 458.8 396.1 459.4 C397.9 460.0 398.5 458.3 400.0 457.4 C401.5 456.5 399.9 458.0 401.2 456.4 C402.4 454.7 402.4 451.3 404.2 451.9 C406.0 452.5 405.4 455.9 407.3 458.4 C409.1 461.0 408.5 458.0 410.3 460.4 C412.1 462.9 411.5 465.3 413.3 466.5 C415.2 467.8 414.6 465.4 416.4 464.5 C418.2 463.6 417.6 462.0 419.4 463.5 C421.3 465.0 420.8 468.1 422.5 469.6 C424.1 471.1 423.4 467.8 424.9 468.6 C426.4 469.4 425.8 474.0 427.5 472.2 C429.3 470.4 428.5 467.8 430.6 462.5 C432.7 457.1 432.5 456.2 434.7 454.4 C436.8 452.5 435.9 454.3 437.7 456.4 C439.5 458.5 438.7 458.9 440.7 461.5 C442.8 464.0 442.3 465.2 444.4 464.9 C446.5 464.6 445.9 462.4 447.8 460.4 C449.8 458.5 449.1 460.9 450.9 458.4 C452.7 456.0 452.4 454.8 453.9 452.3 C455.5 449.9 454.4 449.4 456.0 450.3 C457.5 451.2 457.2 452.9 459.0 455.4 C460.8 457.8 459.9 457.2 462.1 458.4 C464.2 459.6 463.7 457.9 466.1 459.4 C468.5 461.0 468.0 461.4 470.2 463.5 C472.3 465.6 471.4 464.9 473.2 466.5 C475.0 468.2 474.4 469.6 476.3 469.0 C478.1 468.4 477.5 466.5 479.3 464.5 C481.1 462.6 480.5 462.8 482.3 462.5 C484.2 462.2 483.6 462.8 485.4 463.5 C487.2 464.2 486.6 465.2 488.4 464.9 C490.3 464.6 489.7 464.1 491.5 462.5 C493.3 460.8 492.7 460.0 494.5 459.4 C496.4 458.8 495.7 461.1 497.6 460.4 C499.4 459.8 498.8 458.0 500.6 457.4 C502.4 456.8 501.8 459.6 503.7 458.4 C505.5 457.2 504.9 455.7 506.7 453.3 C508.5 451.0 507.9 450.4 509.7 450.7 C511.6 451.0 511.3 451.1 512.8 454.4 C514.3 457.6 513.3 458.9 514.8 461.5 C516.3 464.0 515.7 462.6 517.9 462.9 C520.0 463.2 519.5 462.6 521.9 462.5 C524.4 462.4 523.5 461.6 526.0 462.5 C528.4 463.4 527.6 464.3 530.0 465.5 C532.5 466.7 531.1 465.9 534.1 466.5 C537.1 467.1 537.4 468.8 540.0 467.5 C542.6 466.3 541.0 465.1 542.7 462.2 C544.3 459.4 543.6 458.4 545.6 458.1 C547.7 457.7 547.3 460.8 549.6 461.1 C551.8 461.3 550.9 459.9 553.0 458.8 C555.1 457.6 554.4 458.0 556.5 457.1 C558.5 456.2 557.8 454.9 559.9 455.8 C562.0 456.6 560.9 457.6 563.4 459.9 C565.8 462.2 565.5 463.0 568.0 463.4 C570.4 463.7 569.3 460.8 571.4 461.1 C573.5 461.3 572.8 463.0 574.9 464.0 C576.9 465.1 576.2 465.4 578.3 464.5 C580.4 463.6 579.7 462.6 581.8 461.1 C583.8 459.5 582.8 459.9 585.2 459.4 C587.6 459.0 587.1 459.7 589.8 459.4 C592.6 459.2 591.7 459.0 594.4 458.8 C597.2 458.5 596.3 458.4 599.0 458.8 C601.8 459.1 600.9 459.6 603.6 459.9 C606.4 460.3 605.5 459.6 608.2 459.9 C611.0 460.3 610.1 460.4 612.8 461.1 C615.6 461.7 615.0 461.5 617.4 462.2 C619.8 462.9 619.1 462.5 620.9 463.4 C622.6 464.2 621.4 466.0 623.2 465.0 C624.9 463.9 624.2 462.3 626.6 459.9 C629.0 457.6 628.5 457.5 631.2 457.1 C634.0 456.8 633.4 456.9 635.8 458.8 C638.2 460.6 637.2 460.6 639.3 463.4 C641.3 466.1 640.7 466.2 642.7 468.0 C644.8 469.7 644.1 469.5 646.2 469.1 C648.2 468.8 647.2 468.9 649.6 466.8 C652.0 464.7 651.5 465.0 654.2 462.2 C657.0 459.4 656.4 459.5 658.8 457.6 C661.2 455.7 660.2 454.7 662.3 455.8 C664.3 456.8 664.0 459.3 665.7 461.1 C667.5 462.9 666.3 463.1 668.0 461.7 C669.8 460.4 669.1 458.5 671.5 456.5 C673.9 454.4 673.3 454.5 676.1 454.8 C678.8 455.2 678.3 455.4 680.7 457.6 C683.1 459.8 681.7 459.8 684.1 462.2 C686.5 464.6 687.3 464.6 688.7 465.7" stroke-width="1.2" />
<path d="M96.1 499.7 C99.2 499.2 99.9 498.2 106.3 498.2 C112.7 498.3 111.5 499.6 117.4 499.8 C123.3 500.1 120.4 499.3 126.1 499.2 C131.8 499.1 130.5 499.8 136.3 499.5 C142.1 499.2 140.7 498.0 145.4 498.0 C150.1 498.1 148.2 499.4 152.1 499.6 C155.9 499.7 153.1 498.5 158.2 498.5 C163.3 498.6 163.1 499.8 169.1 499.8 C175.2 499.7 172.7 498.5 178.4 498.4 C184.2 498.2 183.1 499.3 188.3 499.3 C193.5 499.4 191.0 498.6 195.7 498.6 C200.4 498.7 199.2 499.5 203.8 499.7 C208.4 499.8 206.8 498.9 210.9 499.0 C215.1 499.1 212.6 500.1 217.6 499.9 C222.7 499.8 222.5 498.8 227.7 498.6 C232.9 498.4 230.3 499.4 235.1 499.3 C239.9 499.2 239.3 497.9 243.7 498.3 C248.2 498.7 246.3 500.3 250.0 500.6 C253.7 501.0 252.4 499.6 256.1 499.4 C259.7 499.2 258.5 499.5 262.2 500.0 C265.8 500.5 264.6 501.3 268.3 501.0 C271.9 500.7 270.7 499.3 274.4 499.0 C278.0 498.7 277.4 500.9 280.4 500.0 C283.5 499.1 282.4 499.3 284.5 496.0 C286.6 492.6 285.9 492.9 287.5 488.9 C289.2 484.8 288.8 481.8 290.0 482.4 C291.2 483.0 290.5 486.2 291.6 490.9 C292.7 495.6 292.6 495.3 293.6 498.0 C294.7 500.7 294.0 494.2 295.1 500.0 C296.1 505.8 296.0 516.1 297.1 517.3 C298.2 518.5 297.3 509.0 298.7 504.1 C300.1 499.2 299.6 502.3 301.8 501.0 C303.9 499.8 303.7 501.2 305.8 500.0 C307.9 498.8 307.0 497.6 308.9 497.0 C310.7 496.4 310.1 498.3 311.9 498.0 C313.7 497.7 313.1 496.3 314.9 496.0 C316.8 495.7 316.5 497.0 318.0 497.0 C319.5 497.0 318.5 494.7 320.0 496.0 C321.5 497.2 321.2 498.9 323.1 501.0 C324.9 503.2 324.3 504.0 326.1 503.1 C327.9 502.2 327.3 500.1 329.2 498.0 C331.0 495.9 330.4 495.4 332.2 496.0 C334.0 496.6 333.1 499.4 335.2 500.0 C337.4 500.6 336.9 499.8 339.3 498.0 C341.7 496.2 341.2 493.3 343.4 493.9 C345.5 494.5 344.6 497.0 346.4 500.0 C348.2 503.1 347.6 504.7 349.5 504.1 C351.3 503.5 350.7 501.2 352.5 498.0 C354.3 494.8 353.7 492.7 355.5 493.3 C357.4 493.9 356.8 496.5 358.6 500.0 C360.4 503.6 359.8 504.8 361.6 505.1 C363.5 505.4 362.8 504.2 364.7 501.0 C366.5 497.9 365.9 494.8 367.7 494.5 C369.5 494.2 368.9 497.2 370.8 500.0 C372.6 502.9 372.0 504.4 373.8 504.1 C375.6 503.8 374.4 502.4 376.9 499.0 C379.3 495.7 379.5 493.5 381.9 492.9 C384.4 492.3 383.1 494.5 385.0 497.0 C386.8 499.4 386.2 498.9 388.0 501.0 C389.8 503.2 389.1 504.6 391.1 504.1 C393.0 503.6 392.7 499.7 394.5 499.4 C396.3 499.1 395.5 501.5 397.1 503.1 C398.8 504.6 398.5 504.0 400.0 504.7 C401.5 505.4 400.6 508.5 402.2 505.5 C403.7 502.5 403.5 498.0 405.2 494.5 C406.9 491.1 406.3 493.5 407.9 493.9 C409.4 494.4 408.8 493.8 410.3 496.0 C411.8 498.1 411.2 498.6 412.7 501.0 C414.3 503.5 413.7 503.8 415.4 504.1 C417.1 504.4 416.8 504.2 418.4 502.1 C420.1 499.9 419.3 497.6 420.9 497.0 C422.4 496.4 421.8 499.7 423.5 500.0 C425.2 500.3 424.7 499.5 426.5 498.0 C428.4 496.5 427.8 496.0 429.6 494.9 C431.4 493.9 430.8 493.6 432.6 494.5 C434.4 495.5 433.5 495.7 435.7 498.0 C437.8 500.2 437.5 499.3 439.7 502.1 C442.0 504.8 441.0 507.4 443.2 507.1 C445.3 506.8 444.5 503.2 446.8 501.0 C449.1 498.9 448.8 501.5 450.9 500.0 C453.0 498.5 452.1 498.1 453.9 496.0 C455.8 493.8 455.2 493.2 457.0 492.9 C458.8 492.6 458.2 493.4 460.0 494.9 C461.8 496.5 460.9 495.4 463.1 498.0 C465.2 500.6 465.0 502.9 467.1 503.5 C469.3 504.1 468.3 500.6 470.2 500.0 C472.0 499.4 471.4 499.9 473.2 501.4 C475.0 503.0 474.4 505.8 476.3 505.1 C478.1 504.4 477.5 502.4 479.3 499.0 C481.1 495.7 480.5 494.8 482.3 493.9 C484.2 493.0 483.3 494.9 485.4 496.0 C487.5 497.0 487.0 497.1 489.5 497.4 C491.9 497.7 491.1 497.2 493.5 497.0 C495.9 496.7 495.4 495.8 497.6 496.6 C499.7 497.3 498.8 498.4 500.6 499.4 C502.4 500.4 501.5 500.4 503.7 500.0 C505.8 499.6 505.3 498.2 507.7 498.0 C510.2 497.8 509.3 498.2 511.8 499.4 C514.2 500.6 513.1 500.3 515.8 502.1 C518.6 503.8 518.5 505.4 520.9 505.1 C523.3 504.8 521.8 502.4 524.0 501.0 C526.1 499.7 525.6 500.9 528.0 500.6 C530.5 500.3 529.6 501.1 532.1 500.0 C534.5 498.9 533.8 498.6 536.1 497.0 C538.5 495.3 538.0 495.0 540.0 494.5 C541.9 494.1 540.8 494.2 542.7 495.6 C544.5 496.9 544.0 496.9 546.1 499.0 C548.2 501.1 547.5 502.5 549.6 502.5 C551.6 502.5 550.6 501.1 553.0 499.0 C555.4 496.9 555.2 495.2 557.6 495.6 C560.0 495.9 559.0 498.1 561.1 500.2 C563.1 502.2 562.4 501.4 564.5 502.5 C566.6 503.5 565.7 501.4 568.0 503.6 C570.2 505.8 570.0 509.1 572.1 509.8 C574.2 510.5 573.0 509.2 574.9 505.9 C576.7 502.7 576.2 501.4 578.3 499.0 C580.4 496.6 579.7 498.6 581.8 497.9 C583.8 497.2 582.8 497.5 585.2 496.7 C587.6 495.9 586.7 495.6 589.8 495.1 C592.9 494.6 592.8 494.3 595.6 495.1 C598.3 495.9 596.6 496.0 599.0 497.9 C601.4 499.7 600.9 501.3 603.6 501.3 C606.4 501.3 605.8 498.2 608.2 497.9 C610.6 497.5 609.6 498.6 611.7 500.2 C613.7 501.8 612.7 502.9 615.1 503.2 C617.5 503.4 617.3 500.9 619.7 500.9 C622.1 500.9 621.1 502.2 623.2 503.2 C625.2 504.1 624.2 505.3 626.6 504.1 C629.0 502.8 628.8 501.9 631.2 499.0 C633.6 496.1 632.6 496.1 634.7 494.4 C636.7 492.7 635.7 493.3 638.1 493.3 C640.5 493.3 640.0 492.7 642.7 494.4 C645.5 496.1 644.6 496.6 647.3 499.0 C650.1 501.4 649.2 500.7 651.9 502.5 C654.7 504.2 653.4 505.1 656.5 504.8 C659.6 504.4 658.8 501.3 662.3 501.3 C665.7 501.3 664.6 505.5 668.0 504.8 C671.5 504.1 670.7 501.1 673.8 499.0 C676.9 496.9 675.6 499.2 678.4 497.9 C681.1 496.5 680.6 496.3 683.0 494.4 C685.4 492.5 684.4 491.7 686.4 491.7 C688.5 491.7 688.8 493.6 689.9 494.4" stroke-width="1.2" />
<path d="M96.1 538.2 C98.1 537.7 98.4 536.7 102.8 536.6 C107.3 536.5 105.6 537.8 110.8 537.8 C116.0 537.9 115.2 536.7 120.1 536.8 C125.0 536.9 122.1 538.2 127.0 538.3 C132.0 538.4 130.5 537.2 136.6 537.1 C142.7 537.0 142.1 538.0 147.3 537.9 C152.5 537.8 149.5 536.8 153.9 536.7 C158.3 536.7 157.7 537.5 162.0 537.7 C166.3 537.8 164.2 537.1 168.2 537.2 C172.2 537.4 170.6 538.3 175.3 538.3 C180.1 538.3 179.0 537.4 184.0 537.2 C189.0 537.0 187.1 537.7 191.9 537.6 C196.7 537.5 195.7 536.9 200.0 536.9 C204.4 536.8 200.8 537.5 206.3 537.6 C211.9 537.6 212.9 536.9 218.4 537.0 C224.0 537.2 219.3 538.3 224.8 538.2 C230.3 538.1 231.3 536.8 236.8 536.6 C242.4 536.4 239.4 537.3 243.4 537.6 C247.3 537.9 246.8 537.3 250.0 537.6 C253.2 537.9 251.6 538.1 254.1 538.6 C256.5 539.1 256.0 539.5 258.1 539.2 C260.2 538.9 259.3 538.7 261.2 537.6 C263.0 536.5 262.4 535.5 264.2 535.5 C266.0 535.5 265.1 536.0 267.3 537.6 C269.4 539.1 269.2 540.3 271.3 540.6 C273.4 540.9 272.2 539.6 274.4 538.6 C276.5 537.6 275.4 537.8 278.4 537.2 C281.5 536.6 280.9 536.6 284.5 536.6 C288.2 536.6 287.5 537.2 290.6 537.2 C293.6 537.2 292.2 536.1 294.7 536.6 C297.1 537.0 296.6 538.4 298.7 538.6 C300.8 538.8 299.9 538.0 301.8 537.2 C303.6 536.4 303.0 535.8 304.8 535.9 C306.6 536.1 306.0 537.4 307.8 537.6 C309.7 537.8 309.1 535.6 310.9 536.6 C312.7 537.5 312.1 540.3 313.9 540.6 C315.8 540.9 314.8 539.1 317.0 537.6 C319.1 536.0 318.6 535.8 321.0 535.5 C323.5 535.2 322.7 535.9 325.1 536.6 C327.5 537.2 326.7 537.0 329.2 537.6 C331.6 538.2 330.8 538.0 333.2 538.6 C335.7 539.2 334.8 539.9 337.3 539.6 C339.7 539.3 338.9 538.5 341.3 537.6 C343.8 536.7 343.0 536.3 345.4 536.6 C347.8 536.9 347.0 537.7 349.5 538.6 C351.9 539.5 351.1 539.9 353.5 539.6 C355.9 539.3 354.5 538.3 357.6 537.6 C360.6 536.8 360.0 537.2 363.7 537.2 C367.3 537.2 366.1 537.8 369.7 537.6 C373.4 537.4 372.2 536.9 375.8 536.6 C379.5 536.3 378.3 536.3 381.9 536.6 C385.6 536.9 384.4 536.7 388.0 537.6 C391.7 538.5 390.5 539.0 394.1 539.6 C397.7 540.2 397.6 539.7 400.0 539.6 C402.4 539.5 400.3 539.5 402.2 539.2 C404.1 538.9 403.8 539.2 406.2 538.6 C408.7 538.0 407.9 537.5 410.3 537.2 C412.7 536.9 411.3 537.6 414.4 537.6 C417.4 537.6 416.8 537.5 420.4 537.2 C424.1 536.9 422.9 536.6 426.5 536.6 C430.2 536.6 429.0 536.9 432.6 537.2 C436.3 537.5 435.1 537.3 438.7 537.6 C442.4 537.8 441.1 537.7 444.8 538.0 C448.5 538.3 447.2 538.4 450.9 538.6 C454.5 538.8 453.3 538.4 457.0 538.6 C460.6 538.8 459.1 538.8 463.1 539.2 C467.0 539.6 466.5 540.4 470.2 540.0 C473.8 539.6 471.9 538.8 475.2 538.0 C478.6 537.1 477.7 537.3 481.3 537.2 C485.0 537.0 483.8 537.6 487.4 537.6 C491.1 537.6 489.9 536.9 493.5 537.2 C497.2 537.5 496.6 538.2 499.6 538.6 C502.6 539.0 501.2 539.2 503.7 538.6 C506.1 538.0 505.3 536.9 507.7 536.6 C510.2 536.3 508.7 537.1 511.8 537.6 C514.8 538.0 514.2 537.7 517.9 538.0 C521.5 538.3 519.7 538.4 524.0 538.6 C528.2 538.8 527.3 538.0 532.1 538.6 C536.9 539.2 536.5 540.6 540.0 540.6 C543.5 540.6 540.6 539.5 543.8 538.6 C547.0 537.6 546.6 538.1 550.7 537.4 C554.8 536.8 553.5 536.9 557.6 536.5 C561.7 536.2 561.1 535.9 564.5 536.3 C568.0 536.6 566.0 536.6 569.1 537.7 C572.2 538.8 571.8 538.9 574.9 540.0 C578.0 541.0 576.4 541.1 579.5 541.1 C582.6 541.1 581.4 540.9 585.2 540.0 C589.0 539.1 588.0 539.2 592.1 538.1 C596.3 537.1 594.9 537.3 599.0 536.5 C603.2 535.7 602.8 535.8 605.9 535.4 C609.0 534.9 606.6 534.8 609.4 534.9 C612.1 535.0 611.3 534.9 615.1 535.8 C618.9 536.8 617.9 536.9 622.0 538.1 C626.2 539.4 624.8 539.6 628.9 540.0 C633.1 540.3 632.4 539.8 635.8 539.3 C639.3 538.7 637.0 538.1 640.4 538.1 C643.9 538.1 642.8 538.7 647.3 539.3 C651.8 539.8 651.2 540.4 655.4 540.0 C659.5 539.5 658.0 538.7 661.1 537.7 C664.2 536.6 663.0 537.1 665.7 536.5 C668.5 536.0 667.6 535.7 670.3 535.8 C673.1 536.0 672.2 536.1 674.9 537.0 C677.7 537.8 676.1 538.2 679.5 538.6 C683.0 538.9 684.4 538.3 686.4 538.1" stroke-width="1.2" />
</g>
<g stroke="#000" fill="none" stroke-linejoin="round" stroke-linecap="butt">
<path d="M100.0 820.8 C101.1 820.2 102.0 819.8 104.0 818.7 C106.0 817.6 105.9 817.4 107.5 816.6 C109.1 815.8 108.7 816.4 110.0 815.8 C111.3 815.2 111.2 815.1 112.5 814.2 C113.8 813.3 113.6 814.1 115.0 812.3 C116.4 810.5 116.2 810.9 117.6 807.5 C119.0 804.1 118.9 803.3 120.2 799.5 C121.5 795.7 121.4 795.5 122.6 793.3 C123.8 791.1 123.6 791.1 124.7 791.2 C125.8 791.3 125.6 791.3 126.8 793.5 C128.0 795.7 127.6 796.0 129.3 799.5 C131.0 803.0 130.9 803.0 133.0 806.5 C135.1 810.0 134.9 809.4 137.0 812.5 C139.1 815.6 138.9 815.5 141.0 818.0 C143.1 820.5 142.6 820.5 145.0 822.0 C147.4 823.5 146.0 823.0 150.0 823.5 C154.0 824.0 153.3 823.7 160.0 823.9 C166.7 824.1 165.8 824.1 175.0 824.3 C184.2 824.5 183.8 824.3 194.5 824.6 C205.2 824.9 204.2 825.0 215.0 825.6 C225.8 826.2 224.3 826.3 235.0 827.0 C245.7 827.7 244.3 827.7 255.0 828.3 C265.7 828.9 263.8 828.8 275.0 829.2 C286.2 829.6 282.3 829.5 297.0 829.8 C311.7 830.1 302.5 830.1 330.0 830.3 C357.5 830.5 354.7 830.5 400.0 830.6 C445.3 830.7 418.1 830.7 500.0 830.8 C581.9 830.9 651.8 830.9 707.0 830.9" stroke-width="0.95" />
<path d="M100.0 820.3 C100.9 819.6 101.8 819.1 103.5 817.8 C105.2 816.5 105.2 816.4 106.5 815.3 C107.8 814.2 107.4 813.7 108.3 813.6 C109.2 813.5 108.9 815.1 110.0 814.8 C111.1 814.5 111.0 814.5 112.3 812.6 C113.6 810.7 113.4 811.1 114.8 807.5 C116.2 803.9 116.1 803.1 117.5 799.0 C118.9 794.9 118.7 794.7 120.0 792.3 C121.3 789.9 121.1 789.8 122.3 789.9 C123.5 790.0 123.3 790.2 124.6 792.6 C125.9 795.0 125.6 795.7 127.0 799.0 C128.4 802.3 128.4 802.1 130.0 805.0 C131.6 807.9 131.3 807.3 133.0 810.0 C134.7 812.7 134.6 812.5 136.5 815.0 C138.4 817.5 138.0 817.6 140.0 819.5 C142.0 821.4 140.8 821.1 144.0 822.0 C147.2 822.9 145.1 822.5 152.0 822.7 C158.9 822.9 161.2 823.0 170.0 822.9 C178.8 822.8 177.0 822.4 185.0 822.5 C193.0 822.6 192.0 822.8 200.0 823.3 C208.0 823.8 205.7 823.6 215.0 824.3 C224.3 825.0 224.3 825.2 235.0 826.1 C245.7 827.0 244.3 826.9 255.0 827.6 C265.7 828.3 263.8 828.2 275.0 828.7 C286.2 829.2 282.3 829.1 297.0 829.5 C311.7 829.9 302.5 829.8 330.0 830.1 C357.5 830.4 354.7 830.3 400.0 830.5 C445.3 830.7 418.1 830.6 500.0 830.7 C581.9 830.8 651.8 830.8 707.0 830.9" stroke-width="0.95" stroke-dasharray="13 4.5"/>
<path d="M100.0 827.0 C100.7 826.3 101.2 825.6 102.5 824.5 C103.8 823.4 103.5 822.7 104.7 822.7 C105.9 822.7 105.9 823.8 107.0 824.5 C108.1 825.2 107.8 825.2 109.0 825.5 C110.2 825.8 110.1 826.0 111.4 825.8 C112.7 825.6 112.5 825.4 114.0 824.8 C115.5 824.2 115.4 824.2 117.0 823.5 C118.6 822.8 118.5 822.5 120.0 822.0 C121.5 821.5 121.3 821.5 122.8 821.7 C124.3 821.9 123.8 821.9 125.5 822.8 C127.2 823.7 127.0 823.9 129.0 825.0 C131.0 826.1 130.7 826.1 133.0 827.0 C135.3 827.9 134.6 827.8 137.8 828.4 C141.0 829.0 139.1 828.9 145.0 829.2 C150.9 829.5 146.8 829.4 160.0 829.6 C173.2 829.8 170.5 829.7 194.5 829.9 C218.5 830.1 213.9 830.1 250.0 830.3 C286.1 830.5 263.3 830.5 330.0 830.6 C396.7 830.7 399.5 830.7 500.0 830.8 C600.5 830.9 651.8 830.9 707.0 830.9" stroke-width="0.95" stroke-dasharray="7 2.4 2.4 2.4 2.4 2.4"/>
<path d="M92.4 1085.3 L93.5 1085.3 L94.5 1085.3 L95.6 1085.3 L96.6 1085.3 L97.7 1085.3 L98.7 1085.3 L99.8 1085.3 L100.8 1085.3 L101.9 1085.3 L102.9 1085.3 L104.0 1085.3 L105.0 1085.3 L106.1 1085.1 L107.1 1084.6 L108.2 1084.4 L109.2 1084.6 L110.2 1084.9 L111.3 1084.5 L112.4 1084.7 L113.4 1084.4 L114.5 1084.9 L115.5 1084.7 L116.6 1084.2 L117.6 1082.3 L118.7 1082.2 L119.7 1082.7 L120.8 1083.0 L121.8 1084.0 L122.9 1080.5 L123.9 1080.0 L125.0 1084.6 L126.0 1081.1 L127.1 1081.7 L128.1 1084.3 L129.2 1080.4 L130.2 1080.3 L131.2 1084.0 L132.3 1082.0 L133.4 1083.1 L134.4 1078.1 L135.5 1080.1 L136.5 1081.3 L137.6 1081.9 L138.6 1077.5 L139.7 1078.8 L140.7 1082.6 L141.8 1079.4 L142.8 1079.4 L143.9 1071.4 L144.9 1069.7 L146.0 1081.6 L147.0 1071.1 L148.1 1076.3 L149.1 1079.1 L150.2 1078.4 L151.2 1080.0 L152.2 1073.8 L153.3 1067.5 L154.4 1077.9 L155.4 1067.4 L156.4 1047.8 L157.5 1048.7 L158.6 1049.2 L159.6 1056.1 L160.7 1057.7 L161.7 1065.7 L162.8 1048.0 L163.8 1029.9 L164.4 1013.9 L165.9 1068.3 L166.9 1044.3 L168.0 1043.0 L169.1 1015.5 L170.1 1032.9 L171.2 1064.9 L172.2 1014.3 L173.2 1005.3 L174.3 1028.0 L175.4 1049.5 L176.4 1072.1 L177.4 1064.8 L178.5 1064.6 L179.6 1060.9 L180.6 1035.2 L181.9 993.6 L182.7 1020.2 L183.8 1045.1 L184.8 1057.4 L185.9 1045.6 L186.9 1047.3 L187.9 1065.6 L189.0 1017.5 L190.1 1037.3 L191.1 1069.7 L192.2 1035.4 L193.2 1026.2 L194.2 1044.1 L195.3 1029.5 L196.5 980.6 L197.4 1011.8 L198.5 1047.9 L199.5 1041.4 L200.6 992.6 L201.6 1023.3 L202.7 1070.1 L203.7 1070.3 L204.8 1045.0 L205.8 1021.2 L206.9 1021.2 L208.2 1016.3 L209.0 1028.5 L210.0 1037.1 L211.1 1039.4 L212.1 1028.5 L213.2 1027.7 L214.2 1030.5 L215.2 1032.5 L216.3 1052.2 L217.4 1074.6 L218.4 1046.9 L219.5 1038.9 L220.5 1051.6 L221.6 1069.5 L222.6 1075.2 L223.7 1075.3 L224.7 1054.6 L226.1 1029.3 L226.8 1037.1 L227.9 1063.4 L228.9 1067.9 L230.0 1071.0 L231.0 1073.4 L232.1 1065.0 L233.1 1059.5 L234.2 1049.4 L235.2 1050.0 L236.2 1073.2 L237.3 1064.3 L238.4 1029.8 L239.4 1013.5 L240.5 1012.1 L241.5 1013.0 L242.6 1046.6 L243.6 1047.7 L244.7 1037.5 L245.7 1045.9 L246.8 1009.6 L247.5 998.5 L248.9 1029.7 L249.9 1055.8 L251.0 1024.5 L252.0 1024.2 L253.1 1057.2 L254.1 1070.9 L255.2 1040.2 L256.2 1022.8 L257.2 1021.8 L258.3 1023.8 L259.8 1017.0 L260.4 1022.1 L261.5 1041.8 L262.5 1047.9 L263.6 1063.6 L264.6 1072.2 L265.6 1073.0 L266.7 1072.7 L267.8 1058.4 L268.8 1035.5 L269.9 1026.0 L270.9 1039.1 L272.0 1063.5 L273.0 1027.9 L274.1 986.2 L274.9 971.7 L276.1 1000.7 L277.2 1043.5 L278.2 1039.3 L279.3 1016.2 L280.4 1021.5 L281.4 1051.4 L282.5 1070.8 L283.5 1040.4 L284.6 1025.0 L285.6 1033.0 L286.6 1052.8 L287.7 1060.8 L288.8 1044.8 L289.8 1025.4 L290.9 1012.7 L291.9 1011.2 L293.0 1022.7 L294.0 1046.1 L295.1 1072.3 L296.1 1072.2 L297.1 1056.3 L298.2 1047.8 L299.2 1021.0 L300.4 1006.6 L301.4 1016.8 L302.4 1026.6 L303.5 1013.7 L304.5 1012.8 L305.6 1019.3 L306.6 1033.5 L307.6 1056.0 L308.7 1071.3 L309.8 1055.3 L310.8 1044.6 L311.9 1048.7 L312.9 1064.7 L314.0 1071.4 L315.0 1067.5 L316.1 1065.0 L317.1 1059.4 L318.1 1033.9 L319.2 1009.5 L320.2 1002.0 L321.3 989.7 L322.3 976.5 L323.4 992.3 L324.5 1025.6 L325.5 1056.6 L326.6 1070.4 L327.6 1070.2 L328.6 1070.0 L329.7 1069.8 L330.8 1057.0 L331.8 1046.6 L332.9 1044.1 L333.9 1010.0 L335.0 979.4 L335.8 970.0 L337.1 989.4 L338.1 983.0 L339.4 961.1 L339.9 967.3 L340.0 966.0 L340.2 975.9 L340.2 970.7 L340.3 973.0 L340.3 968.6 L340.4 974.6 L340.6 983.3 L340.6 979.4 L340.6 977.0 L340.7 980.9 L340.8 977.6 L340.8 985.4 L340.9 987.5 L341.0 992.0 L341.0 986.2 L341.0 993.5 L341.1 989.6 L341.2 990.4 L341.3 999.0 L341.5 994.9 L341.6 996.9 L341.6 1001.7 L341.8 1007.2 L341.8 1001.0 L341.8 1004.7 L341.9 1002.5 L342.0 1012.7 L342.0 1009.8 L342.2 1015.0 L342.2 1007.9 L342.3 1014.2 L342.3 1017.1 L342.3 1011.8 L342.5 1020.1 L342.6 1018.5 L342.7 1021.9 L342.8 1023.7 L342.9 1026.7 L343.1 1025.7 L343.2 1029.9 L343.2 1030.9 L343.3 1027.2 L344.5 1028.5 L344.6 1029.8 L344.9 1031.9 L345.0 1035.1 L345.1 1033.3 L345.5 1038.5 L345.6 1035.8 L345.7 1038.5 L345.8 1040.4 L345.8 1042.6 L346.2 1043.9 L346.2 1042.4 L346.8 1039.9 L347.1 1039.1 L347.3 1037.4 L347.4 1038.7 L347.5 1040.0 L347.6 1042.8 L347.9 1042.5 L347.9 1047.1 L348.0 1045.7 L348.1 1048.1 L348.3 1050.3 L348.6 1052.5 L348.7 1051.6 L348.8 1055.8 L348.9 1058.2 L348.9 1054.8 L349.2 1056.7 L349.2 1060.6 L349.3 1062.4 L349.3 1064.1 L349.7 1064.6 L349.7 1066.7 L349.8 1064.4 L349.9 1061.6 L350.1 1064.0 L350.2 1058.7 L350.3 1060.2 L350.5 1057.8 L350.7 1055.1 L350.7 1053.3 L350.8 1056.6 L350.9 1050.9 L351.1 1047.7 L351.3 1046.4 L351.3 1050.5 L351.4 1044.9 L351.6 1043.0 L351.7 1042.5 L351.8 1041.0 L351.9 1038.0 L352.1 1038.3 L352.2 1035.8 L352.7 1033.1 L353.3 1032.1 L353.8 1030.1 L354.5 1029.5 L354.8 1027.8 L355.8 1025.9 L356.2 1024.4 L357.8 1020.4 L357.9 1022.8 L358.4 1020.0 L358.5 1017.2 L358.6 1015.0 L358.7 1015.7 L359.1 1012.6 L359.2 1009.6 L359.2 1011.5 L359.5 1009.0 L359.7 1006.6 L359.8 1005.0 L360.1 1006.9 L360.1 1008.7 L360.4 1010.0 L360.6 1011.6 L360.8 1013.1 L360.9 1014.8 L361.1 1015.5 L361.1 1017.5 L361.1 1018.3 L361.4 1021.2 L361.7 1020.4 L361.7 1022.4 L361.9 1024.4 L362.2 1026.6 L362.3 1025.6 L362.5 1030.9 L362.6 1028.2 L362.8 1031.2 L363.0 1034.1 L363.3 1033.6 L363.3 1035.9 L363.7 1039.6 L363.7 1037.5 L363.9 1040.4 L364.3 1041.8 L364.4 1043.9 L364.6 1042.1 L364.7 1041.5 L365.0 1038.7 L365.1 1039.0 L365.3 1034.9 L365.5 1036.5 L365.8 1032.5 L365.9 1032.6 L366.1 1030.5 L366.3 1027.7 L366.5 1028.5 L366.6 1025.1 L366.8 1024.4 L367.0 1028.3 L367.1 1025.7 L367.1 1027.8 L367.2 1030.1 L367.4 1032.6 L367.7 1034.5 L367.8 1033.7 L367.9 1035.8 L368.1 1040.2 L368.1 1037.0 L368.1 1042.8 L368.2 1040.1 L368.4 1043.9 L368.5 1042.4 L368.6 1040.1 L368.7 1041.8 L368.7 1037.2 L368.8 1038.5 L368.9 1035.5 L369.2 1033.5 L369.3 1030.1 L369.4 1028.2 L369.4 1031.3 L369.7 1027.4 L369.7 1023.7 L369.8 1025.7 L370.1 1019.1 L370.1 1022.0 L370.1 1018.8 L370.1 1022.9 L370.3 1017.1 L370.4 1014.5 L370.5 1012.7 L370.7 1014.6 L370.8 1010.7 L370.8 1009.1 L370.9 1006.0 L371.0 1007.8 L371.2 1005.0 L371.8 1007.0 L372.6 1009.0 L373.3 1009.8 L373.4 1011.7 L373.4 1013.4 L373.6 1013.7 L374.1 1016.2 L374.1 1016.8 L374.4 1019.6 L374.4 1019.5 L374.5 1021.3 L374.6 1023.2 L375.0 1025.7 L375.3 1026.4 L375.5 1029.2 L375.5 1028.4 L375.7 1030.9 L375.8 1032.4 L376.4 1034.0 L376.8 1036.7 L377.0 1037.7 L377.2 1038.2 L377.6 1040.4 L377.8 1041.6 L378.2 1043.9 L378.8 1042.3 L379.3 1041.3 L379.8 1039.1 L380.2 1039.9 L380.4 1042.8 L380.6 1043.3 L381.0 1044.4 L381.1 1047.4 L381.6 1048.4 L381.8 1051.2 L381.9 1048.9 L382.1 1051.7 L382.6 1054.1 L383.0 1055.1 L383.0 1056.9 L384.1 1055.6 L385.4 1054.1 L386.3 1053.7 L386.7 1051.5 L386.7 1050.8 L386.8 1049.3 L387.3 1048.5 L387.3 1046.8 L387.7 1044.1 L387.9 1042.9 L387.9 1041.3 L388.0 1040.9 L388.1 1038.9 L388.4 1036.5 L388.7 1035.8 L388.8 1033.1 L389.0 1028.8 L389.0 1035.2 L389.2 1031.6 L389.2 1029.5 L389.3 1026.2 L389.4 1023.8 L389.4 1024.5 L389.5 1022.2 L389.6 1019.4 L389.7 1020.7 L389.8 1017.9 L390.1 1016.9 L390.1 1014.5 L390.4 1013.2 L390.5 1012.0 L390.7 1006.8 L390.7 1010.0 L390.8 1009.1 L390.9 1000.5 L390.9 1004.0 L391.0 1005.5 L391.2 1002.3 L391.3 995.0 L391.3 996.8 L391.4 998.2 L391.4 999.8 L391.6 992.6 L391.7 991.8 L391.9 987.2 L392.0 989.4 L392.0 988.7 L392.1 983.6 L392.1 985.3 L392.6 983.2 L392.7 981.2 L392.7 979.2 L392.8 977.3 L392.8 972.4 L393.0 976.4 L393.0 972.5 L393.0 974.0 L393.1 968.2 L393.1 969.6 L393.4 964.0 L393.4 965.2 L393.5 967.6 L393.8 960.4 L393.8 957.5 L393.9 961.4 L394.0 955.2 L394.1 959.9 L394.2 953.5 L394.3 955.7 L394.4 952.8 L394.4 951.4 L394.8 958.1 L394.8 955.4 L394.9 955.1 L395.0 960.8 L395.1 956.8 L395.1 963.8 L395.4 966.3 L395.4 962.6 L395.6 967.5 L395.6 969.8 L395.7 965.3 L395.8 970.4 L396.0 972.5 L396.4 974.3 L396.5 975.2 L396.7 977.6 L396.7 977.9 L397.1 980.7 L397.3 981.0 L397.6 985.9 L397.7 984.3 L397.7 982.2 L397.9 987.5 L398.4 988.4 L398.5 990.3 L398.5 988.1 L398.6 987.7 L398.9 985.3 L398.9 983.6 L399.2 983.6 L399.4 978.1 L399.4 981.1 L399.6 979.4 L399.8 976.6 L399.9 974.8 L400.0 974.0 L400.2 969.7 L400.2 970.7 L400.3 971.9 L400.3 967.8 L400.5 966.0 L400.9 962.7 L400.9 964.2 L401.1 968.9 L401.1 965.4 L401.2 964.8 L401.3 966.9 L401.5 973.0 L401.6 970.7 L401.7 972.2 L401.8 974.3 L401.9 976.6 L402.2 977.8 L402.2 983.4 L402.2 981.5 L402.3 979.0 L402.4 983.8 L402.5 985.2 L402.7 987.8 L402.8 988.7 L402.9 991.6 L403.0 989.9 L403.2 993.1 L403.3 996.8 L403.4 995.9 L403.4 999.7 L403.4 1002.3 L403.4 997.6 L403.6 1005.4 L403.8 1003.0 L403.8 1006.7 L403.9 1009.8 L404.0 1006.0 L404.0 1012.0 L404.0 1010.4 L404.4 1016.3 L404.5 1018.4 L404.5 1015.7 L404.6 1012.9 L404.7 1021.1 L404.9 1019.8 L404.9 1023.8 L405.0 1024.4 L405.1 1022.0 L405.2 1021.5 L405.7 1019.3 L405.9 1018.6 L406.0 1017.0 L406.3 1014.7 L406.8 1016.1 L407.2 1017.7 L407.3 1019.1 L407.8 1020.6 L408.2 1022.8 L408.2 1023.7 L408.5 1025.3 L408.7 1027.0 L408.9 1031.0 L409.0 1029.7 L409.0 1031.7 L409.4 1033.7 L409.4 1034.5 L409.7 1035.8 L410.0 1039.8 L410.1 1040.7 L410.2 1037.7 L410.4 1043.2 L410.6 1043.9 L410.9 1047.9 L411.0 1046.0 L411.4 1048.5 L411.9 1049.7 L412.1 1051.7 L412.3 1053.7 L412.4 1052.1 L412.9 1050.2 L413.3 1048.0 L413.9 1047.2 L414.0 1049.0 L414.5 1050.1 L414.6 1052.1 L415.0 1054.0 L415.5 1055.7 L415.6 1056.3 L416.1 1058.1 L416.3 1060.2 L416.8 1061.6 L417.2 1064.1 L417.7 1064.7 L418.0 1066.2 L418.8 1068.3 L419.1 1069.1 L419.4 1071.7 L419.5 1074.0 L420.0 1075.1 L420.2 1075.9 L420.5 1080.3 L420.6 1078.3 L420.8 1080.0 L420.9 1081.3 L421.0 1078.1 L421.1 1075.9 L421.2 1073.2 L421.3 1074.8 L421.5 1071.9 L421.5 1068.5 L421.7 1069.9 L421.8 1067.2 L421.9 1063.2 L422.0 1065.3 L422.1 1064.8 L422.2 1061.1 L422.3 1059.0 L422.5 1057.5 L422.6 1056.9 L422.6 1054.9 L422.8 1051.3 L422.8 1053.7 L423.0 1051.3 L423.1 1046.9 L423.1 1048.6 L423.3 1044.1 L423.4 1046.1 L423.4 1039.5 L423.4 1035.8 L423.4 1041.5 L423.4 1043.6 L423.5 1037.3 L423.7 1037.7 L423.7 1031.2 L423.7 1031.6 L423.7 1032.8 L423.8 1028.3 L423.9 1027.6 L424.0 1024.0 L424.1 1024.8 L424.3 1022.6 L424.4 1021.1 L424.4 1017.9 L424.5 1019.6 L425.0 1017.2 L425.7 1014.7 L426.0 1016.0 L426.0 1017.5 L426.1 1019.7 L426.3 1021.8 L426.3 1021.7 L426.3 1025.3 L426.3 1024.0 L426.5 1028.1 L426.5 1027.5 L426.5 1029.9 L426.6 1031.7 L426.6 1032.5 L427.0 1035.7 L427.1 1034.1 L427.1 1041.7 L427.1 1038.4 L427.4 1038.8 L427.4 1042.1 L427.5 1044.6 L427.5 1046.0 L427.7 1047.2 L427.7 1049.1 L428.1 1049.9 L428.2 1053.4 L428.3 1052.4 L428.4 1055.2 L428.6 1057.2 L428.6 1059.8 L428.7 1057.0 L428.7 1060.4 L429.0 1064.9 L429.3 1062.7 L429.3 1065.9 L429.4 1067.4 L429.6 1071.0 L429.8 1069.4 L429.8 1069.4 L430.1 1074.1 L430.1 1072.9 L430.1 1074.8 L430.1 1071.4 L430.5 1070.2 L430.5 1068.4 L430.8 1065.1 L430.9 1067.6 L431.0 1063.3 L431.1 1064.2 L431.2 1059.9 L431.2 1061.2 L431.3 1057.2 L431.5 1057.1 L431.5 1054.7 L431.6 1052.9 L431.8 1051.8 L432.0 1050.3 L432.2 1048.1 L432.2 1046.8 L432.2 1044.7 L432.6 1043.9 L432.9 1043.0 L433.2 1039.9 L434.0 1039.0 L434.2 1037.4 L434.6 1035.3 L434.7 1034.2 L434.9 1033.1 L435.3 1030.1 L435.6 1029.6 L436.0 1027.3 L436.3 1026.7 L436.3 1024.4 L436.6 1027.8 L436.7 1025.8 L436.8 1028.1 L436.9 1029.8 L437.5 1031.7 L437.6 1033.1 L437.6 1034.1 L437.8 1037.3 L438.4 1038.0 L438.5 1040.0 L438.8 1040.8 L439.0 1043.0 L439.1 1043.9 L440.0 1043.3 L440.0 1043.9 L440.3 1041.8 L440.3 1039.8 L440.4 1038.7 L440.6 1036.6 L440.9 1034.8 L441.2 1033.8 L441.3 1030.2 L441.3 1031.7 L441.4 1029.7 L441.6 1026.8 L441.7 1026.5 L442.0 1023.4 L442.0 1025.0 L442.1 1020.8 L442.4 1019.8 L442.6 1017.7 L442.7 1016.9 L443.1 1015.6 L443.3 1013.6 L443.4 1012.3 L443.6 1010.4 L443.6 1007.6 L443.7 1007.0 L443.8 1009.5 L444.1 1004.4 L444.1 1004.7 L444.2 1001.6 L444.3 1001.5 L444.5 999.4 L444.6 997.9 L445.1 996.4 L445.1 995.3 L445.3 993.2 L445.5 990.6 L445.5 991.0 L445.7 988.7 L445.8 990.6 L446.0 991.8 L446.3 995.2 L446.3 993.8 L446.7 997.1 L446.9 1000.9 L446.9 998.6 L447.3 1001.7 L447.8 999.2 L447.8 1000.2 L448.4 997.7 L448.7 995.6 L448.9 992.8 L449.0 993.7 L449.4 992.0 L449.8 990.7 L450.0 989.0 L450.0 987.8 L450.6 985.5 L450.8 987.7 L450.9 992.3 L451.0 990.0 L451.0 988.1 L451.3 992.7 L451.4 993.9 L451.5 996.7 L451.8 997.3 L451.9 1002.9 L451.9 999.9 L452.0 1003.6 L452.1 1000.9 L452.2 1004.6 L452.4 1007.8 L452.6 1007.6 L452.9 1009.8 L453.0 1013.1 L453.1 1011.8 L453.2 1020.5 L453.2 1015.6 L453.3 1013.8 L453.4 1018.3 L453.4 1018.5 L453.4 1021.8 L453.5 1023.8 L453.6 1026.0 L453.8 1028.9 L453.8 1025.3 L453.9 1028.5 L454.0 1032.4 L454.1 1031.9 L454.3 1036.1 L454.4 1035.0 L454.4 1036.8 L454.6 1038.0 L454.7 1041.5 L454.8 1040.0 L455.0 1044.4 L455.0 1045.7 L455.0 1043.2 L455.2 1051.0 L455.3 1047.3 L455.3 1053.0 L455.3 1048.8 L455.4 1053.7 L456.6 1055.2 L457.4 1055.7 L458.7 1056.9 L458.9 1058.4 L459.5 1060.1 L459.7 1061.4 L459.8 1063.7 L460.0 1064.9 L460.4 1067.4 L460.7 1068.1 L461.1 1069.9 L461.6 1072.1 L461.8 1073.3 L462.4 1074.1 L462.4 1075.7 L463.0 1077.8 L463.1 1080.0 L463.5 1081.3 L464.3 1080.4 L464.6 1077.2 L464.9 1076.4 L465.4 1074.7 L466.0 1073.2 L466.6 1075.1 L467.4 1077.3 L467.8 1078.9 L468.4 1079.7 L468.9 1078.6 L469.5 1076.8 L469.6 1074.0 L470.1 1073.0 L470.7 1071.0 L470.9 1069.9 L471.0 1067.8 L471.3 1066.0 L471.4 1065.5 L471.9 1062.8 L472.2 1062.0 L472.5 1059.7 L472.7 1059.0 L472.8 1056.2 L473.2 1054.4 L473.3 1053.7 L474.1 1052.8 L474.4 1049.6 L475.1 1048.9 L475.7 1047.2 L476.4 1048.1 L476.8 1050.1 L477.4 1051.4 L477.7 1053.0 L478.3 1055.3 L479.0 1056.9 L479.4 1059.0 L479.8 1060.0 L480.6 1061.3 L481.1 1063.5 L481.5 1065.7 L482.2 1066.7 L482.5 1065.7 L483.0 1064.3 L483.5 1061.6 L483.8 1060.2 L484.2 1063.3 L484.4 1062.4 L484.9 1064.4 L485.2 1067.1 L485.4 1067.7 L485.5 1069.1 L486.2 1071.2 L486.3 1073.2 L487.3 1071.8 L487.9 1069.1 L488.7 1068.3 L488.8 1069.2 L489.4 1070.8 L489.4 1072.9 L489.9 1075.1 L490.0 1077.2 L490.3 1079.5 L490.4 1078.0 L490.5 1081.7 L490.9 1082.7 L491.2 1084.5 L491.3 1083.0 L491.5 1081.4 L491.8 1079.2 L491.9 1077.7 L492.0 1077.1 L492.0 1075.0 L492.3 1073.7 L492.4 1072.4 L492.7 1071.4 L492.8 1068.8 L492.8 1068.6 L493.5 1064.7 L493.5 1066.6 L493.6 1063.4 L493.6 1061.6 L493.9 1060.5 L494.0 1058.5 L494.0 1054.9 L494.2 1057.3 L494.2 1053.7 L494.4 1053.2 L494.6 1051.8 L494.8 1049.2 L494.9 1047.1 L495.1 1047.3 L495.3 1044.6 L495.3 1043.9 L495.5 1041.1 L495.5 1037.5 L495.6 1039.5 L495.9 1038.9 L495.9 1035.8 L496.0 1036.5 L496.0 1034.2 L496.2 1037.6 L496.2 1041.0 L496.5 1042.3 L496.6 1039.1 L496.6 1043.7 L496.8 1044.7 L496.8 1048.2 L496.8 1045.6 L497.1 1051.7 L497.2 1051.2 L497.3 1048.7 L497.6 1056.9 L497.7 1053.5 L497.8 1055.5 L497.8 1058.0 L498.2 1060.2 L498.2 1063.4 L498.4 1061.1 L498.6 1064.9 L499.1 1067.0 L499.2 1068.3 L499.3 1069.9 L499.6 1068.2 L499.7 1066.1 L499.8 1064.7 L499.8 1063.2 L500.0 1061.6 L500.2 1060.8 L500.4 1058.9 L500.4 1058.2 L500.7 1056.1 L500.7 1055.3 L500.8 1053.3 L501.2 1049.9 L501.2 1050.9 L501.6 1047.5 L501.7 1046.5 L501.8 1045.0 L502.0 1042.8 L502.1 1040.5 L502.1 1043.7 L502.2 1039.4 L502.5 1037.4 L502.9 1038.6 L503.0 1039.6 L503.1 1043.1 L503.1 1042.1 L503.4 1047.0 L503.6 1045.7 L503.7 1048.4 L504.0 1051.1 L504.0 1048.9 L504.4 1052.9 L504.7 1055.8 L504.8 1054.6 L505.0 1056.9 L505.3 1059.2 L505.4 1061.8 L505.5 1062.4 L505.5 1059.5 L505.8 1064.4 L506.1 1065.5 L506.4 1066.7 L506.5 1068.4 L506.8 1069.9 L506.8 1072.5 L507.4 1073.9 L507.4 1074.8 L507.7 1073.4 L508.0 1072.0 L508.4 1068.8 L508.4 1070.2 L509.0 1065.9 L509.2 1064.8 L509.3 1062.9 L509.7 1061.6 L509.8 1060.2 L510.3 1059.3 L510.7 1057.0 L511.5 1054.8 L512.0 1053.0 L512.3 1052.0 L512.7 1054.0 L513.4 1056.0 L514.0 1057.0 L514.8 1059.4 L515.5 1060.2 L515.8 1059.2 L516.3 1057.2 L517.0 1054.5 L517.6 1054.5 L517.9 1052.0 L519.3 1051.1 L520.4 1048.8 L520.7 1047.2 L521.2 1045.6 L521.8 1044.0 L522.2 1042.3 L522.8 1040.7 L523.2 1039.4 L523.4 1037.4 L524.1 1035.8 L524.5 1035.0 L524.7 1031.9 L525.3 1030.9 L526.4 1029.0 L527.7 1028.5 L528.5 1026.1 L528.9 1028.5 L528.9 1030.1 L529.0 1030.0 L529.2 1036.6 L529.2 1032.7 L529.3 1034.4 L529.5 1038.2 L529.7 1041.4 L529.8 1037.5 L530.1 1041.3 L530.1 1043.9 L530.3 1046.0 L530.4 1049.0 L530.4 1047.0 L530.7 1048.9 L530.8 1053.5 L530.9 1054.1 L531.0 1052.0 L531.3 1055.0 L531.3 1059.0 L531.3 1057.0 L531.5 1060.7 L531.8 1063.4 L531.8 1061.4 L532.2 1061.2 L533.0 1059.7 L533.5 1059.1 L534.2 1056.9 L535.3 1054.8 L536.4 1053.2 L537.4 1052.0 L538.0 1053.2 L538.0 1054.7 L538.4 1056.6 L538.9 1059.0 L539.2 1060.7 L539.7 1061.0 L539.9 1063.4 L539.9 1064.6 L540.3 1068.1 L540.5 1066.5 L540.6 1071.3 L540.8 1070.7 L541.1 1073.7 L541.2 1076.2 L541.3 1074.5 L541.5 1078.0 L541.9 1081.6 L542.1 1076.6 L542.1 1079.8 L542.1 1077.5 L542.3 1076.1 L542.8 1073.3 L543.0 1073.1 L543.1 1068.5 L543.1 1070.5 L543.2 1068.6 L543.5 1065.6 L543.7 1065.4 L543.7 1061.5 L543.7 1064.0 L544.1 1060.2 L544.7 1061.4 L544.7 1062.6 L545.1 1064.8 L545.5 1066.3 L546.1 1067.6 L546.5 1069.9 L547.0 1071.6 L547.5 1073.6 L547.7 1075.6 L548.2 1075.9 L548.9 1078.0 L549.2 1076.2 L549.3 1075.8 L549.4 1072.9 L549.5 1072.1 L550.0 1068.9 L550.0 1071.0 L550.1 1068.1 L550.3 1065.3 L550.5 1065.4 L550.6 1063.4 L550.7 1060.6 L551.0 1057.9 L551.1 1059.3 L551.4 1056.9 L552.0 1058.0 L552.4 1060.2 L552.7 1061.7 L553.2 1062.5 L553.8 1065.0 L554.9 1065.8 L556.2 1068.3 L557.3 1067.4 L558.5 1066.1 L559.5 1065.0 L559.8 1066.3 L560.2 1069.0 L560.6 1069.8 L560.8 1071.5 L561.1 1073.9 L561.8 1075.6 L561.9 1076.4 L562.2 1078.7 L563.1 1079.7 L563.2 1080.9 L563.7 1083.3 L564.4 1084.5 L564.7 1083.1 L565.3 1082.1 L566.1 1078.9 L566.6 1077.8 L567.3 1076.4 L567.6 1074.8 L568.4 1076.4 L569.2 1077.1 L570.1 1079.2 L570.9 1081.3 L571.2 1079.9 L571.7 1077.3 L572.1 1076.4 L572.4 1075.6 L572.7 1073.1 L573.2 1072.1 L573.8 1070.5 L574.1 1068.3 L574.4 1065.3 L574.5 1066.3 L574.8 1062.2 L574.8 1063.9 L575.1 1059.2 L575.1 1060.4 L575.2 1057.2 L575.6 1056.8 L575.9 1055.6 L576.0 1053.5 L576.0 1050.7 L576.2 1052.1 L576.3 1049.3 L576.5 1047.2 L577.4 1048.3 L577.8 1049.6 L578.5 1051.8 L579.0 1053.7 L579.3 1057.4 L579.3 1055.4 L579.4 1057.4 L579.5 1061.8 L579.7 1059.0 L579.8 1065.9 L579.8 1062.1 L579.9 1067.6 L580.1 1064.6 L580.4 1069.3 L580.5 1070.7 L580.6 1073.2 L580.7 1071.8 L580.8 1071.9 L580.9 1069.9 L581.0 1067.8 L581.2 1067.7 L581.6 1065.9 L581.6 1064.5 L581.7 1062.3 L582.1 1060.5 L582.4 1059.9 L582.4 1057.3 L582.6 1057.8 L582.7 1055.9 L583.0 1054.4 L583.0 1052.0 L583.4 1050.1 L584.0 1048.8 L584.7 1046.3 L585.0 1045.6 L585.5 1043.9 L586.2 1042.7 L587.1 1040.1 L587.8 1038.6 L588.7 1038.2 L588.7 1037.4 L589.1 1040.2 L589.3 1042.8 L589.4 1043.3 L589.6 1047.3 L589.6 1044.5 L590.0 1047.9 L590.1 1050.0 L590.3 1053.2 L590.5 1051.3 L590.6 1055.6 L590.8 1057.5 L590.9 1054.1 L591.2 1058.5 L592.0 1056.3 L592.9 1054.9 L593.5 1054.1 L594.4 1052.0 L595.0 1050.9 L595.4 1049.2 L595.7 1047.1 L596.6 1045.5 L596.8 1046.1 L596.8 1043.9 L597.1 1046.1 L597.4 1048.7 L597.6 1049.2 L598.0 1051.5 L598.1 1052.7 L598.3 1054.7 L598.4 1056.7 L598.6 1055.0 L598.6 1058.8 L599.0 1059.5 L599.3 1061.8 L599.4 1063.4 L600.1 1065.9 L600.4 1066.6 L600.9 1068.0 L600.9 1069.2 L601.5 1071.0 L601.7 1073.2 L602.3 1074.8 L603.1 1076.2 L603.7 1077.6 L604.1 1079.7 L604.5 1078.4 L604.9 1076.2 L605.3 1074.7 L605.7 1073.4 L606.3 1071.2 L606.6 1069.9 L606.8 1071.5 L607.0 1073.8 L607.4 1074.6 L607.5 1077.3 L607.7 1077.9 L607.7 1080.1 L608.2 1082.9 L608.2 1081.7 L608.6 1081.7 L608.9 1079.8 L609.2 1078.0 L609.6 1077.1 L609.8 1075.2 L609.9 1073.2 L610.2 1073.0 L610.4 1071.3 L611.1 1069.4 L611.4 1067.6 L611.5 1066.7 L611.7 1064.4 L611.9 1064.2 L612.0 1061.9 L612.2 1061.0 L612.3 1059.5 L612.5 1057.1 L612.6 1055.4 L612.6 1056.2 L612.8 1053.5 L613.3 1049.6 L613.3 1051.9 L613.4 1048.5 L613.6 1046.4 L613.8 1046.2 L613.9 1043.9 L613.9 1046.8 L614.2 1045.1 L614.2 1048.6 L614.6 1050.0 L614.6 1053.7 L614.7 1051.6 L614.7 1052.7 L614.9 1058.1 L614.9 1056.3 L614.9 1060.6 L615.0 1058.6 L615.3 1062.9 L615.4 1061.8 L615.5 1065.0 L616.2 1064.1 L616.3 1061.3 L616.8 1059.5 L617.6 1059.1 L617.9 1056.9 L618.6 1054.9 L618.9 1054.0 L620.0 1052.6 L620.4 1050.4 L621.3 1051.5 L621.9 1054.0 L622.8 1055.3 L623.9 1054.4 L625.3 1052.0 L625.5 1053.6 L626.1 1055.2 L626.4 1057.0 L626.6 1059.4 L627.1 1059.7 L627.7 1061.2 L627.8 1063.1 L628.3 1064.9 L628.5 1066.7 L629.4 1069.0 L630.1 1069.3 L630.8 1071.9 L631.8 1073.2 L634.5 1080.1 L636.9 1081.7 L638.2 1080.8 L639.0 1078.0 L640.1 1076.9 L642.5 1078.5 L643.1 1076.4 L643.4 1074.5 L643.9 1072.9 L644.2 1072.0 L644.7 1073.7 L644.9 1074.5 L645.8 1076.6 L646.3 1078.7 L646.6 1080.1 L647.0 1077.7 L647.9 1076.0 L648.3 1074.7 L649.0 1073.7 L649.9 1075.6 L650.6 1076.6 L651.4 1078.5 L652.2 1079.7 L652.9 1081.4 L653.8 1083.3 L654.1 1081.3 L654.3 1079.7 L655.0 1078.1 L655.2 1076.5 L655.7 1075.3 L656.0 1074.4 L656.1 1072.3 L656.6 1071.5 L656.7 1069.5 L656.9 1068.1 L657.1 1066.1 L657.4 1064.8 L658.8 1065.2 L660.3 1065.6 L661.5 1067.3 L662.7 1068.8 L664.9 1068.5 L666.7 1067.2 L668.1 1065.6 L669.7 1064.7 L671.5 1064.0 L673.2 1065.1 L674.6 1064.7 L676.4 1065.6 L677.2 1064.8 L677.8 1063.0 L678.4 1061.6 L679.1 1059.5 L680.0 1058.9 L680.4 1056.7 L681.1 1059.4 L681.3 1059.7 L682.0 1062.4 L682.4 1064.8 L682.7 1065.6 L683.2 1067.9 L683.4 1069.7 L683.8 1071.3 L684.4 1072.0 L685.6 1069.8 L686.8 1068.8 L687.8 1067.5 L689.2 1065.6 L690.3 1064.1 L691.0 1062.3 L691.7 1060.9 L692.5 1059.2 L693.4 1057.1 L694.4 1056.9 L695.3 1054.2 L696.1 1053.3 L697.2 1051.9 L698.1 1050.3 L699.0 1050.8 L700.1 1053.3 L701.3 1054.3 L701.9 1055.2 L702.5 1057.3 L702.5 1059.3 L703.0 1061.0 L703.7 1062.9 L703.9 1064.5 L704.5 1065.6 L705.9 1066.4 L707.0 1068.8" stroke-width="1.0" />
<path d="M92.4 1085.3 L93.5 1085.3 L94.5 1085.3 L95.6 1085.3 L96.6 1085.3 L97.7 1085.3 L98.7 1085.3 L99.8 1085.2 L100.8 1085.0 L101.9 1085.3 L102.9 1085.3 L104.0 1085.0 L105.0 1084.9 L106.1 1084.9 L107.1 1085.3 L108.2 1085.1 L109.2 1085.1 L110.2 1084.8 L111.3 1085.1 L112.4 1085.3 L113.4 1084.9 L114.5 1085.0 L115.5 1083.8 L116.6 1083.4 L117.6 1084.4 L118.7 1084.4 L119.7 1084.3 L120.8 1084.6 L121.8 1084.9 L122.9 1084.0 L123.9 1084.0 L125.0 1084.4 L126.0 1082.8 L127.1 1084.4 L128.1 1083.3 L129.2 1084.2 L130.2 1078.8 L131.2 1079.1 L132.3 1083.9 L133.4 1079.1 L134.4 1078.2 L135.5 1081.6 L136.5 1077.6 L137.6 1074.4 L138.6 1073.9 L139.7 1069.7 L140.7 1067.9 L141.8 1072.9 L142.8 1078.0 L143.9 1080.3 L144.9 1067.8 L146.0 1073.7 L147.0 1066.6 L148.1 1068.7 L149.1 1070.6 L150.2 1060.6 L151.2 1055.9 L152.2 1066.5 L153.3 1072.9 L154.4 1067.9 L155.4 1064.5 L156.4 1063.8 L157.5 1056.6 L158.6 1066.1 L159.6 1065.4 L160.7 1060.0 L161.7 1066.0 L162.8 1056.0 L163.8 1075.4 L164.9 1069.9 L165.9 1059.8 L166.9 1057.2 L168.0 1061.4 L169.1 1063.7 L170.1 1046.2 L171.2 1040.7 L172.2 1050.2 L173.2 1067.9 L174.3 1018.5 L174.9 1002.5 L176.4 1059.2 L177.4 1062.4 L178.5 1065.5 L179.6 1039.4 L180.6 1018.4 L181.7 1017.8 L182.7 1035.7 L183.8 1057.0 L184.8 1071.4 L185.9 1042.9 L186.9 1035.9 L187.9 1036.8 L189.0 1044.1 L190.1 1057.7 L191.1 1037.7 L192.3 992.8 L193.2 1021.7 L194.2 1069.5 L195.3 1070.7 L196.4 1066.7 L197.4 1062.4 L198.5 1059.5 L199.5 1010.5 L200.4 980.6 L201.6 1027.7 L202.7 1010.5 L203.3 996.8 L204.8 1003.0 L205.8 1040.0 L206.9 1055.9 L207.9 1048.3 L209.0 1039.9 L210.0 1026.2 L211.1 1034.1 L212.1 1069.9 L213.2 1040.3 L214.2 1037.2 L215.2 1027.9 L216.3 1035.2 L217.6 1023.6 L218.4 1035.6 L219.5 1054.5 L220.5 1058.7 L221.6 1066.8 L222.6 1046.3 L223.7 1032.9 L224.7 1047.0 L225.8 1060.6 L226.8 1065.0 L227.9 1062.5 L228.9 1062.0 L230.0 1062.6 L231.0 1058.5 L232.1 1058.1 L233.1 1057.3 L234.2 1022.8 L235.0 1009.0 L236.2 1035.8 L237.3 1061.2 L238.4 1063.0 L239.4 1047.5 L240.5 1017.1 L241.0 1011.5 L242.6 1045.9 L243.6 1060.5 L244.7 1058.7 L245.7 1054.7 L246.8 1052.1 L247.8 1046.1 L248.9 1047.0 L249.9 1056.0 L251.0 1056.2 L252.0 1043.4 L253.1 1022.7 L253.7 1016.3 L255.2 1042.2 L256.2 1040.0 L257.2 1037.8 L258.3 1047.0 L259.4 1061.0 L260.4 1065.6 L261.5 1062.4 L262.5 1059.3 L263.6 1060.0 L264.6 1067.8 L265.6 1073.6 L266.7 1066.4 L267.8 1058.2 L268.8 1055.3 L269.9 1049.0 L270.9 1029.5 L272.0 1008.0 L273.0 1002.6 L274.1 1017.3 L275.1 1045.7 L276.1 1071.8 L277.2 1071.8 L278.2 1065.2 L279.3 1044.6 L280.4 1022.2 L281.4 1011.8 L282.5 1022.9 L283.5 1049.5 L284.6 1028.7 L285.6 997.2 L286.3 989.5 L287.7 1016.9 L288.8 1035.3 L289.8 1027.1 L290.9 1032.1 L291.9 1043.4 L293.0 1050.1 L294.0 1056.3 L295.1 1065.8 L296.1 1072.7 L297.1 1071.5 L298.2 1065.8 L299.2 1059.5 L300.3 1052.7 L301.4 1044.4 L302.4 1038.7 L303.5 1039.7 L304.5 1045.1 L305.6 1049.9 L306.6 1051.5 L307.6 1048.9 L308.7 1041.6 L309.8 1028.6 L310.8 1013.6 L311.9 1013.8 L313.1 1008.2 L314.0 1015.6 L315.0 1038.6 L316.1 1062.4 L317.1 1073.4 L318.1 1072.1 L319.2 1070.5 L320.2 1070.4 L321.3 1073.0 L322.4 1075.0 L323.4 1075.1 L324.5 1075.3 L325.5 1060.5 L326.6 1037.8 L327.6 1016.3 L328.5 1009.0 L329.7 1021.5 L330.8 1044.7 L331.8 1060.8 L332.9 1058.2 L333.9 1054.5 L335.0 1052.3 L336.0 1053.2 L337.1 1055.5 L338.1 1056.2 L339.1 1053.7 L340.2 1048.9 L341.2 1044.0 L342.3 1041.4 L343.4 1042.6 L344.4 1047.5 L345.5 1053.7 L346.5 1057.9 L347.6 1057.4 L348.6 1052.8 L349.6 1047.7 L350.7 1046.0 L351.8 1044.2 L352.8 1029.0 L353.7 1024.0 L354.9 1032.6 L356.0 1049.3 L357.0 1040.4 L358.1 1018.5 L359.4 1005.0 L360.1 1009.4 L361.2 1027.4 L362.2 1050.0 L363.3 1062.6 L364.4 1060.2 L365.4 1059.9 L366.5 1060.9 L367.5 1061.1 L368.6 1061.8 L369.6 1064.8 L370.6 1067.3 L371.7 1065.0 L372.8 1060.2 L373.8 1057.5 L374.9 1058.5 L375.9 1062.3 L377.0 1066.2 L378.0 1067.7 L379.1 1067.3 L380.1 1066.7 L381.1 1066.3 L382.2 1065.8 L383.2 1065.1 L384.3 1064.6 L385.4 1062.7 L386.4 1056.9 L387.5 1047.5 L388.5 1038.1 L389.6 1036.8 L390.6 1036.9 L391.6 1037.1 L392.7 1041.9 L393.8 1047.9 L394.8 1041.6 L395.9 1026.8 L397.0 1020.0 L398.0 1024.7 L399.0 1038.5 L400.1 1051.9 L401.1 1049.6 L402.1 1049.5 L403.2 1052.4 L404.2 1057.6 L405.3 1063.6 L406.4 1068.3 L407.4 1069.8 L408.5 1067.6 L409.5 1063.9 L410.6 1061.1 L411.6 1060.5 L412.6 1061.7 L413.7 1064.2 L414.8 1067.8 L415.8 1072.3 L416.9 1076.9 L417.9 1078.5 L419.0 1077.5 L420.0 1076.8 L421.1 1076.5 L422.1 1072.6 L423.1 1066.1 L424.2 1059.5 L425.2 1054.5 L426.3 1052.6 L427.4 1055.5 L430.1 1044.3 L430.1 1047.2 L430.3 1041.8 L430.4 1046.3 L430.6 1043.1 L430.8 1038.9 L430.8 1037.6 L431.0 1038.2 L431.0 1032.4 L431.0 1034.0 L431.1 1035.5 L431.4 1029.7 L431.4 1031.4 L431.5 1024.0 L431.5 1027.2 L431.6 1026.5 L431.7 1023.0 L431.8 1021.2 L432.1 1020.0 L432.2 1019.4 L432.4 1012.4 L432.4 1014.4 L432.4 1016.3 L432.5 1011.5 L432.5 1015.9 L432.9 1008.2 L433.0 1010.0 L433.0 1001.9 L433.0 1007.0 L433.3 997.1 L433.3 1005.7 L433.4 1004.1 L433.4 1000.6 L433.5 999.5 L433.7 996.4 L433.8 995.1 L433.9 992.0 L433.9 990.3 L433.9 993.3 L434.0 987.1 L434.2 984.7 L434.2 983.7 L434.4 981.4 L434.4 986.2 L434.6 979.6 L434.7 973.5 L434.8 978.6 L434.8 975.0 L435.0 976.8 L435.0 972.5 L435.6 970.5 L435.8 968.9 L436.1 967.6 L436.4 966.0 L436.9 964.1 L437.6 963.3 L437.9 961.5 L438.2 959.5 L440.0 964.4 L441.6 966.0 L442.2 968.3 L442.3 968.4 L443.0 971.3 L443.4 973.4 L443.7 973.5 L444.1 975.7 L444.3 977.4 L444.6 980.2 L444.7 978.0 L444.8 982.5 L445.1 984.2 L445.2 982.4 L445.5 985.8 L445.8 987.3 L446.1 989.9 L446.3 991.3 L446.5 991.7 L446.5 993.6 L446.5 989.8 L446.7 991.4 L446.7 989.9 L447.0 988.0 L447.3 981.5 L447.3 985.2 L447.4 983.7 L447.4 980.5 L447.4 983.8 L447.7 977.4 L448.0 978.6 L448.1 976.0 L448.1 974.1 L449.5 975.4 L450.6 977.3 L451.0 976.0 L451.3 974.5 L452.1 972.6 L452.5 971.3 L452.7 969.9 L453.5 967.8 L453.9 966.0 L454.0 967.7 L454.5 965.3 L454.6 964.4 L455.0 969.7 L455.0 967.6 L455.1 970.0 L455.1 971.3 L455.5 973.5 L455.8 978.1 L455.9 974.8 L456.0 976.2 L456.1 981.8 L456.2 978.7 L456.3 983.0 L456.6 986.1 L456.8 984.5 L457.0 991.9 L457.1 988.7 L457.1 986.6 L457.4 991.0 L457.4 994.2 L457.5 997.8 L457.6 993.1 L457.6 999.3 L457.8 995.7 L457.8 1003.0 L457.9 1004.3 L458.0 1001.0 L458.3 1011.0 L458.4 1005.7 L458.4 1008.4 L458.5 1006.9 L458.7 1012.1 L458.7 1015.5 L458.9 1016.1 L459.0 1014.0 L459.1 1021.2 L459.1 1017.8 L459.3 1019.0 L459.5 1024.4 L459.6 1022.2 L459.7 1031.4 L459.7 1031.2 L459.8 1026.6 L459.9 1028.5 L459.9 1027.3 L460.1 1037.6 L460.1 1035.4 L460.2 1032.9 L460.2 1036.1 L460.4 1040.0 L460.4 1042.3 L460.6 1041.9 L460.6 1043.8 L460.9 1045.1 L460.9 1052.7 L460.9 1047.8 L461.1 1049.0 L461.1 1055.0 L461.1 1051.2 L461.1 1053.7 L461.5 1057.4 L461.6 1059.4 L462.1 1060.0 L462.3 1062.6 L462.5 1064.1 L462.6 1064.6 L462.7 1066.7 L463.0 1064.4 L463.1 1064.5 L463.4 1061.6 L463.5 1059.9 L463.7 1058.5 L464.1 1058.3 L464.1 1056.9 L464.1 1054.6 L464.6 1051.6 L464.6 1053.8 L464.7 1050.2 L465.2 1048.8 L465.4 1046.5 L465.8 1045.4 L466.4 1044.5 L466.8 1043.0 L467.1 1040.1 L467.6 1039.1 L467.9 1041.3 L468.1 1042.6 L468.2 1043.1 L468.7 1045.4 L468.8 1048.4 L468.8 1048.0 L469.2 1050.4 L469.8 1052.2 L470.4 1054.4 L470.9 1054.8 L472.0 1056.1 L472.5 1058.5 L472.7 1057.6 L473.2 1054.4 L473.6 1053.2 L474.0 1052.8 L474.3 1050.0 L474.7 1048.4 L474.9 1047.2 L475.9 1048.4 L476.7 1050.7 L477.3 1052.0 L478.1 1053.4 L478.3 1055.4 L478.9 1057.2 L479.3 1057.8 L479.9 1060.4 L480.6 1061.8 L481.2 1059.4 L481.7 1057.9 L481.9 1056.5 L482.6 1056.1 L483.2 1054.3 L483.6 1052.2 L483.8 1050.4 L485.0 1049.0 L486.0 1046.9 L487.1 1045.6 L487.3 1047.3 L487.9 1049.1 L487.9 1050.8 L488.3 1051.2 L488.7 1053.7 L489.0 1050.5 L489.0 1051.9 L489.2 1049.0 L489.3 1045.6 L489.3 1047.5 L489.6 1043.3 L489.9 1040.3 L490.0 1043.0 L490.0 1039.1 L490.3 1036.9 L490.3 1035.8 L492.8 1034.2 L493.0 1035.1 L493.4 1037.0 L493.8 1038.5 L494.2 1040.7 L494.9 1042.6 L495.2 1043.9 L495.5 1042.5 L495.7 1040.9 L496.1 1039.0 L496.4 1036.9 L496.8 1036.0 L496.8 1034.2 L497.1 1035.9 L497.1 1037.7 L497.4 1038.5 L497.7 1040.7 L498.0 1044.2 L498.0 1041.3 L498.2 1046.2 L498.2 1045.8 L498.6 1047.1 L498.8 1049.9 L498.9 1051.5 L499.2 1053.0 L499.3 1054.3 L499.5 1055.9 L499.8 1056.4 L499.9 1059.0 L500.1 1060.2 L500.4 1059.4 L500.7 1056.3 L500.8 1055.0 L501.1 1054.4 L501.4 1052.4 L502.2 1050.5 L502.4 1048.1 L502.5 1047.2 L502.8 1050.9 L502.9 1047.8 L503.0 1052.0 L503.1 1052.6 L503.5 1055.6 L503.5 1054.6 L503.7 1057.7 L503.9 1059.8 L504.0 1062.5 L504.2 1060.5 L504.5 1063.9 L504.5 1066.9 L504.5 1064.5 L504.7 1067.8 L505.0 1069.9 L505.7 1071.4 L506.5 1073.3 L507.4 1075.0 L508.2 1076.4 L508.6 1075.4 L508.8 1071.9 L508.9 1072.9 L509.2 1069.9 L509.4 1068.7 L509.7 1066.9 L509.9 1064.2 L509.9 1065.4 L510.2 1062.9 L510.4 1061.3 L510.7 1060.5 L510.8 1055.8 L511.0 1057.5 L511.1 1055.8 L511.5 1053.7 L511.6 1051.3 L512.2 1048.4 L512.2 1050.7 L512.4 1046.9 L512.9 1046.0 L513.3 1045.7 L513.6 1044.0 L513.9 1042.6 L514.0 1039.9 L514.2 1038.9 L514.7 1037.4 L514.9 1036.7 L515.0 1033.9 L515.1 1033.5 L515.2 1031.6 L515.4 1029.4 L515.8 1028.4 L516.0 1026.4 L516.2 1024.8 L516.2 1025.5 L516.4 1023.2 L516.5 1020.9 L516.7 1017.1 L516.9 1018.6 L517.1 1016.3 L517.5 1014.0 L517.6 1012.5 L518.0 1011.9 L518.4 1009.2 L518.7 1009.1 L519.0 1006.5 L519.4 1005.3 L519.6 1003.3 L520.1 1002.4 L520.6 1001.0 L521.4 998.4 L522.0 997.6 L522.3 998.6 L522.7 1000.3 L522.9 1002.1 L522.9 1004.5 L523.2 1005.7 L523.2 1006.5 L523.6 1008.2 L523.7 1011.8 L523.8 1013.1 L523.9 1010.1 L524.0 1018.0 L524.1 1015.4 L524.1 1014.5 L524.1 1020.0 L524.2 1021.0 L524.4 1022.8 L524.9 1024.6 L525.4 1026.4 L525.9 1028.2 L526.4 1028.6 L526.9 1030.9 L527.6 1028.9 L528.5 1027.7 L528.7 1030.1 L528.8 1031.4 L529.0 1032.8 L529.3 1033.7 L529.9 1038.3 L529.9 1035.0 L530.2 1041.0 L530.3 1038.2 L530.5 1042.8 L530.9 1043.9 L531.5 1045.1 L531.6 1047.7 L532.3 1048.8 L532.6 1050.6 L532.8 1051.5 L533.4 1053.7 L533.5 1051.6 L533.6 1050.8 L533.8 1049.3 L533.8 1047.8 L534.0 1046.6 L534.3 1039.3 L534.3 1045.1 L534.4 1043.5 L534.4 1041.7 L534.5 1038.5 L534.7 1036.9 L534.8 1035.4 L534.9 1033.1 L535.1 1030.2 L535.3 1032.4 L535.3 1028.9 L535.6 1027.7 L535.7 1026.4 L535.8 1022.8 L535.9 1024.8 L536.0 1024.4 L536.2 1026.3 L536.5 1028.3 L536.7 1030.7 L536.7 1029.4 L537.2 1032.2 L537.4 1036.5 L537.4 1034.2 L537.7 1039.2 L537.9 1037.9 L538.0 1040.9 L538.1 1039.3 L538.3 1044.0 L538.4 1045.6 L538.5 1045.3 L538.5 1046.9 L538.8 1051.5 L538.8 1049.2 L538.9 1050.3 L539.1 1053.7 L540.3 1051.3 L541.5 1050.4 L542.4 1060.2 L542.8 1061.9 L543.2 1063.3 L543.3 1065.4 L543.4 1067.3 L543.8 1067.9 L544.1 1071.9 L544.3 1070.1 L544.6 1074.0 L544.9 1074.8 L545.7 1072.6 L546.3 1071.8 L546.7 1070.0 L547.5 1068.2 L548.1 1066.7 L548.5 1064.8 L548.6 1062.8 L548.8 1061.1 L549.5 1060.2 L549.8 1058.4 L550.0 1057.1 L550.5 1054.9 L550.6 1053.7 L551.1 1051.8 L551.4 1049.1 L551.5 1050.0 L551.8 1047.6 L552.2 1045.3 L552.6 1043.6 L553.0 1042.3 L553.8 1040.1 L554.8 1038.3 L555.4 1037.4 L557.9 1037.4 L558.5 1038.8 L559.1 1040.6 L559.4 1043.0 L560.0 1044.5 L560.2 1049.0 L560.3 1045.6 L560.3 1048.0 L560.3 1052.3 L560.4 1050.2 L560.5 1054.1 L560.7 1055.2 L560.9 1057.5 L561.0 1057.9 L561.0 1059.7 L561.1 1063.4 L561.2 1064.9 L561.3 1061.6 L561.6 1068.0 L561.7 1066.3 L561.9 1072.3 L562.0 1070.0 L562.4 1072.9 L562.6 1074.8 L562.7 1076.4 L562.9 1078.3 L563.4 1078.8 L563.8 1080.9 L564.4 1082.9 L564.5 1080.9 L565.1 1078.8 L565.3 1078.5 L565.9 1075.7 L566.0 1074.0 L566.4 1073.1 L566.9 1072.0 L567.2 1070.0 L567.6 1068.3 L568.0 1065.8 L568.3 1064.8 L568.3 1062.7 L568.4 1061.9 L569.0 1059.4 L569.3 1059.3 L569.4 1057.0 L569.5 1055.5 L569.9 1053.1 L570.0 1052.0 L570.3 1048.0 L570.3 1050.3 L570.6 1045.5 L570.7 1046.5 L570.9 1044.4 L571.0 1039.8 L571.0 1041.9 L571.5 1038.1 L571.6 1038.2 L571.7 1035.8 L572.5 1038.2 L573.1 1039.4 L574.2 1040.6 L574.9 1042.3 L575.5 1043.8 L576.0 1045.3 L576.4 1046.7 L576.9 1048.7 L577.3 1050.4 L577.4 1051.1 L577.5 1053.9 L578.1 1055.0 L578.1 1056.7 L578.2 1061.5 L578.2 1059.4 L578.3 1058.5 L578.5 1062.5 L578.8 1067.5 L578.8 1064.2 L578.9 1066.3 L579.3 1070.4 L579.4 1069.0 L579.4 1071.8 L579.5 1072.7 L579.8 1074.8 L580.0 1073.8 L580.2 1071.0 L580.5 1070.9 L580.8 1066.8 L580.8 1068.3 L580.8 1065.8 L581.0 1063.9 L581.2 1062.3 L581.7 1061.6 L582.0 1058.3 L582.0 1059.5 L582.2 1056.9 L582.6 1056.2 L582.9 1053.9 L582.9 1052.9 L583.4 1050.2 L583.6 1049.9 L584.0 1047.3 L584.3 1045.9 L584.5 1045.2 L584.6 1042.8 L584.7 1042.5 L585.2 1039.7 L585.5 1039.1 L586.1 1038.1 L586.5 1035.3 L587.5 1034.8 L587.9 1032.6 L588.1 1034.5 L588.3 1036.3 L588.7 1036.8 L588.9 1039.9 L589.5 1040.1 L589.6 1042.8 L590.2 1043.2 L590.3 1045.6 L590.8 1048.9 L590.9 1048.0 L591.5 1050.9 L591.9 1052.6 L592.3 1053.7 L592.4 1055.2 L592.8 1056.9 L593.3 1055.5 L593.8 1053.8 L594.2 1051.6 L594.3 1051.1 L594.9 1048.0 L595.2 1047.2 L596.1 1045.8 L596.5 1044.0 L596.9 1042.8 L597.6 1040.7 L597.8 1042.5 L597.9 1043.1 L598.4 1046.7 L598.4 1044.9 L598.8 1047.3 L598.9 1051.6 L599.0 1050.1 L599.3 1052.2 L599.4 1055.0 L599.6 1053.7 L599.7 1057.0 L600.1 1058.5 L600.3 1056.2 L600.4 1055.7 L600.6 1053.2 L600.6 1052.5 L600.7 1050.5 L601.0 1049.4 L601.3 1048.1 L601.4 1046.0 L601.7 1044.5 L601.8 1042.9 L602.0 1042.3 L602.2 1040.4 L602.2 1037.1 L602.3 1039.7 L602.5 1035.8 L604.4 1036.0 L606.6 1035.8 L607.2 1036.9 L608.1 1039.3 L609.2 1041.4 L609.8 1042.3 L611.4 1042.9 L612.9 1043.1 L614.7 1043.9 L615.4 1041.6 L615.5 1040.3 L616.3 1039.9 L616.8 1037.9 L617.2 1036.7 L617.9 1034.2 L618.2 1032.6 L618.4 1027.4 L618.5 1030.3 L618.5 1029.3 L618.9 1023.6 L618.9 1025.9 L619.1 1025.9 L619.3 1022.6 L619.4 1019.1 L619.5 1021.1 L619.5 1016.9 L619.8 1015.9 L619.8 1015.3 L620.0 1013.4 L620.4 1011.5 L621.2 1009.8 L621.6 1010.7 L621.7 1012.6 L621.8 1014.9 L621.9 1016.1 L622.3 1018.3 L622.7 1019.8 L622.8 1021.2 L623.1 1021.9 L623.6 1025.8 L623.6 1023.9 L623.8 1027.0 L624.1 1028.6 L624.6 1029.4 L624.7 1031.6 L625.1 1033.2 L625.3 1034.8 L625.7 1036.6 L626.1 1037.4 L626.4 1038.5 L626.7 1040.9 L627.1 1043.0 L627.5 1043.8 L628.3 1045.5 L628.5 1047.2 L629.4 1047.7 L630.7 1049.4 L631.8 1050.4 L634.2 1048.8 L634.6 1049.8 L635.1 1052.2 L635.8 1053.7 L636.5 1054.4 L637.2 1057.6 L637.5 1059.2 L638.2 1060.2 L638.5 1061.5 L638.7 1063.6 L638.7 1065.1 L638.9 1066.2 L639.3 1067.5 L639.5 1072.4 L639.7 1069.2 L639.9 1073.2 L641.8 1076.9 L643.3 1076.9 L644.0 1074.4 L644.6 1073.4 L645.2 1071.3 L646.0 1069.6 L646.6 1068.8 L647.4 1067.2 L648.2 1066.5 L648.9 1064.3 L649.5 1062.5 L650.0 1061.8 L650.7 1060.3 L651.4 1058.4 L652.2 1059.1 L653.1 1060.3 L653.8 1062.4 L654.6 1063.5 L655.5 1066.2 L656.2 1067.2 L657.1 1069.6 L658.0 1070.8 L658.9 1072.4 L659.5 1073.7 L660.6 1075.4 L661.6 1077.0 L662.7 1078.5 L663.6 1078.2 L664.8 1075.8 L665.9 1075.3 L666.8 1076.5 L667.3 1078.7 L668.4 1079.6 L669.1 1081.7 L670.2 1080.3 L670.9 1079.2 L672.4 1078.4 L673.1 1076.9 L674.3 1075.1 L675.3 1074.9 L676.4 1073.7 L677.4 1075.3 L678.7 1077.8 L679.6 1078.5 L680.8 1079.4 L681.9 1080.9 L682.8 1081.7 L683.3 1081.3 L684.0 1078.5 L685.0 1078.3 L685.5 1075.8 L686.3 1075.7 L686.8 1073.7 L688.0 1075.0 L688.6 1076.8 L689.7 1078.1 L690.9 1078.5 L692.3 1079.8 L693.4 1080.3 L694.9 1081.7 L696.0 1081.2 L696.7 1080.1 L698.0 1078.3 L698.9 1076.9 L699.7 1076.1 L700.0 1073.3 L700.7 1071.5 L701.4 1070.6 L702.1 1068.8 L702.7 1066.6 L703.9 1065.9 L704.5 1064.0 L705.8 1064.9 L707.0 1067.2" stroke-width="1.0" stroke-dasharray="13 4"/>
<path d="M92.4 1085.3 L93.6 1085.3 L94.7 1085.3 L95.9 1085.3 L97.0 1085.3 L98.2 1085.3 L99.3 1085.3 L100.5 1085.1 L101.6 1085.1 L102.8 1085.3 L103.9 1085.3 L105.1 1085.2 L106.2 1085.3 L107.4 1085.3 L108.5 1085.1 L109.7 1084.8 L110.8 1084.6 L112.0 1085.3 L113.1 1085.3 L114.2 1085.2 L115.4 1084.2 L116.6 1083.8 L117.7 1083.7 L118.9 1084.1 L120.0 1084.7 L121.2 1084.0 L122.3 1084.5 L123.5 1083.8 L124.6 1082.4 L125.8 1083.3 L126.9 1083.3 L128.1 1084.3 L129.2 1082.4 L130.3 1083.0 L131.5 1082.3 L132.7 1082.8 L133.8 1082.4 L134.9 1081.7 L136.1 1083.8 L137.2 1081.0 L138.4 1083.7 L139.6 1084.4 L140.7 1082.5 L141.8 1079.0 L143.0 1076.4 L144.2 1080.6 L145.3 1083.9 L146.4 1080.4 L147.6 1079.0 L148.8 1075.3 L149.9 1081.1 L151.1 1078.4 L152.2 1083.2 L153.3 1082.0 L154.5 1077.2 L155.7 1076.4 L156.8 1081.4 L157.9 1080.2 L159.1 1073.6 L160.2 1082.2 L161.4 1069.0 L162.6 1073.7 L163.7 1081.8 L164.8 1071.5 L166.0 1060.0 L167.2 1061.2 L168.3 1070.3 L169.4 1077.3 L170.6 1064.6 L171.8 1071.7 L172.9 1078.7 L174.1 1073.6 L175.2 1080.7 L176.3 1072.5 L177.5 1074.6 L178.7 1080.5 L179.8 1071.7 L180.9 1067.8 L182.1 1056.3 L183.2 1040.7 L184.4 1045.2 L185.6 1050.6 L186.7 1065.4 L187.8 1073.2 L189.0 1071.2 L190.1 1070.6 L191.3 1079.7 L192.4 1079.7 L193.6 1076.6 L194.8 1080.3 L195.9 1068.5 L197.1 1075.7 L198.2 1080.4 L199.3 1073.3 L200.5 1076.7 L201.6 1077.0 L202.8 1060.9 L203.9 1048.4 L205.1 1059.1 L206.2 1062.9 L207.4 1054.6 L208.6 1053.8 L209.7 1060.8 L210.8 1059.8 L212.0 1053.0 L213.1 1049.9 L214.3 1054.9 L215.4 1062.5 L216.6 1066.4 L217.8 1062.2 L218.9 1062.2 L220.1 1074.8 L221.2 1080.8 L222.3 1076.4 L223.5 1068.6 L224.7 1077.1 L225.8 1075.5 L226.9 1072.7 L228.1 1071.8 L229.2 1077.6 L230.4 1077.2 L231.5 1081.2 L232.7 1069.5 L233.8 1062.9 L235.0 1055.6 L236.2 1053.4 L237.3 1064.0 L238.4 1070.8 L239.6 1064.0 L240.8 1061.4 L241.9 1074.9 L243.0 1078.1 L244.2 1071.3 L245.3 1071.4 L246.5 1072.2 L247.7 1070.4 L248.8 1069.6 L249.9 1069.9 L251.1 1072.0 L252.2 1072.8 L253.4 1067.1 L254.5 1064.6 L255.7 1066.6 L256.9 1069.6 L258.0 1069.2 L259.1 1072.7 L260.3 1078.6 L261.4 1080.5 L262.6 1079.7 L263.8 1076.5 L264.9 1075.7 L266.0 1079.0 L267.2 1082.3 L268.4 1082.0 L269.5 1078.6 L270.6 1074.7 L271.8 1073.4 L272.9 1075.5 L274.1 1075.3 L275.2 1073.2 L276.4 1073.8 L277.5 1077.2 L278.7 1073.4 L279.9 1069.4 L281.0 1072.3 L282.1 1073.6 L283.3 1066.3 L284.4 1061.6 L285.6 1062.7 L286.8 1069.6 L287.9 1076.7 L289.0 1081.5 L290.2 1082.8 L291.4 1078.4 L292.5 1072.5 L293.6 1069.3 L294.8 1071.9 L295.9 1080.0 L297.1 1081.1 L298.2 1074.1 L299.4 1072.8 L300.5 1076.7 L301.7 1081.9 L302.9 1082.3 L304.0 1082.7 L305.1 1082.9 L306.3 1082.9 L307.4 1082.7 L308.6 1077.8 L309.8 1073.7 L310.9 1073.5 L312.0 1077.6 L313.2 1083.0 L314.4 1082.4 L315.5 1081.7 L316.6 1082.1 L317.8 1080.6 L318.9 1076.4 L320.1 1070.0 L321.2 1064.8 L322.4 1064.9 L323.5 1065.0 L324.7 1065.1 L325.9 1065.1 L327.0 1070.5 L328.1 1075.7 L329.3 1079.3 L330.4 1083.2 L331.6 1082.0 L332.8 1079.5 L333.9 1081.7 L335.0 1083.2 L336.2 1079.1 L337.4 1076.8 L338.5 1075.8 L339.6 1074.9 L340.8 1074.4 L341.9 1073.1 L343.1 1071.1 L344.2 1069.8 L345.4 1068.9 L346.5 1067.8 L347.7 1067.3 L348.9 1068.3 L350.0 1070.7 L351.1 1073.9 L352.3 1077.8 L353.4 1081.7 L354.6 1081.3 L355.8 1077.3 L356.9 1074.1 L358.0 1072.9 L359.2 1073.7 L360.4 1075.5 L361.5 1075.9 L362.6 1073.7 L363.8 1070.7 L364.9 1069.0 L366.1 1069.2 L367.2 1071.2 L368.4 1074.0 L369.5 1076.1 L370.7 1076.0 L371.9 1075.2 L373.0 1075.7 L374.1 1077.9 L375.3 1079.9 L376.4 1079.3 L377.6 1078.2 L378.8 1078.2 L379.9 1079.1 L381.0 1080.0 L382.2 1080.8 L383.4 1082.6 L384.5 1083.5 L385.6 1080.6 L386.8 1076.9 L387.9 1075.0 L389.1 1074.8 L390.2 1075.1 L391.4 1074.8 L392.5 1073.7 L393.7 1072.8 L394.9 1073.0 L396.0 1075.2 L397.1 1079.3 L398.3 1083.6 L399.4 1080.4 L400.6 1076.6 L401.8 1075.5 L402.9 1077.0 L404.0 1079.0 L405.2 1078.5 L406.4 1075.6 L407.5 1073.2 L408.6 1071.8 L409.8 1071.4 L410.9 1071.8 L412.1 1072.9 L413.2 1074.4 L414.4 1076.4 L415.5 1079.1 L416.7 1081.8 L417.9 1083.2 L419.0 1083.1 L420.1 1083.1 L421.3 1083.6 L422.4 1083.8 L423.6 1083.5 L424.8 1083.4 L425.9 1083.8 L427.0 1083.8 L428.2 1083.8 L429.4 1082.7 L430.5 1080.8 L431.6 1078.4 L432.8 1076.0 L433.9 1074.4 L435.1 1074.3 L436.2 1075.3 L437.4 1076.2 L438.5 1075.5 L440.0 1074.8 L441.6 1073.4 L443.2 1073.2 L444.5 1074.6 L445.7 1075.9 L446.5 1078.0 L447.7 1079.2 L448.5 1081.1 L449.7 1082.9 L450.0 1081.6 L450.1 1079.4 L450.7 1078.7 L450.8 1077.6 L451.1 1075.8 L451.4 1074.1 L452.0 1072.5 L452.1 1070.8 L452.4 1070.1 L452.7 1068.5 L453.0 1066.7 L453.6 1068.1 L453.9 1070.1 L454.2 1072.1 L455.1 1073.6 L455.4 1074.8 L456.4 1076.3 L457.2 1077.5 L458.7 1078.6 L459.5 1079.7 L461.2 1080.6 L462.7 1082.1 L464.4 1082.9 L465.6 1082.0 L466.8 1080.0 L467.8 1079.6 L469.2 1078.0 L470.6 1076.8 L471.8 1075.0 L472.8 1074.2 L474.1 1073.2 L475.8 1072.9 L477.2 1071.8 L479.0 1071.5 L480.8 1070.4 L482.3 1070.0 L483.8 1068.3 L484.9 1069.8 L485.6 1071.4 L486.9 1071.8 L487.8 1072.9 L488.7 1074.8 L490.6 1073.6 L491.8 1072.8 L493.6 1071.5 L494.5 1072.3 L495.5 1074.2 L496.3 1075.5 L497.7 1076.6 L498.5 1078.0 L499.9 1077.0 L501.9 1076.0 L503.3 1076.0 L505.0 1074.8 L506.1 1075.8 L507.6 1077.7 L508.8 1079.0 L509.8 1079.7 L511.3 1079.5 L512.9 1079.4 L514.6 1078.7 L516.3 1078.0 L518.0 1077.9 L519.8 1078.5 L521.3 1078.9 L522.8 1079.7 L523.8 1078.4 L525.2 1077.0 L526.6 1076.3 L527.7 1074.8 L528.5 1074.0 L529.6 1071.8 L530.5 1070.7 L531.3 1069.9 L532.6 1068.3 L532.7 1070.0 L533.2 1071.3 L533.9 1073.1 L534.0 1075.1 L534.2 1077.0 L534.8 1077.7 L535.2 1080.0 L535.6 1081.3 L535.8 1082.9 L537.7 1081.9 L539.1 1081.3 L540.2 1080.3 L541.2 1078.7 L542.2 1077.3 L543.2 1076.0 L543.9 1074.8 L545.6 1074.2 L547.2 1074.0 L549.0 1074.0 L550.4 1073.2 L552.2 1072.4 L553.6 1072.4 L555.5 1071.5 L556.9 1071.5 L558.6 1070.5 L560.0 1068.3 L561.3 1082.7 L562.6 1084.2 L563.9 1083.3 L565.2 1079.8 L566.5 1076.9 L567.8 1075.5 L569.1 1075.5 L570.4 1076.1 L571.7 1077.4 L573.0 1078.8 L574.3 1079.9 L575.6 1080.9 L576.9 1082.2 L578.2 1083.6 L579.5 1084.1 L580.8 1082.7 L582.1 1081.1 L583.4 1080.6 L584.7 1081.8 L586.0 1083.8 L587.3 1083.0 L588.6 1081.1 L589.9 1080.0 L591.2 1079.6 L592.5 1079.8 L593.8 1080.3 L595.1 1080.8 L596.4 1081.1 L597.7 1081.3 L599.0 1081.8 L600.3 1082.7 L601.6 1083.6 L602.9 1083.9 L604.2 1083.0 L605.5 1082.2 L606.8 1082.4 L608.1 1083.4 L609.4 1084.2 L610.7 1082.9 L612.0 1081.0 L613.3 1079.7 L614.6 1079.2 L615.9 1079.5 L617.2 1080.0 L618.5 1080.3 L619.8 1080.1 L621.1 1079.2 L622.4 1077.9 L623.7 1076.5 L625.0 1076.2 L626.3 1076.3 L627.6 1078.4 L628.9 1081.7 L630.2 1083.4 L631.5 1080.5 L632.8 1078.6 L634.1 1078.7 L635.4 1080.0 L636.7 1080.8 L638.0 1080.7 L639.3 1080.9 L640.6 1082.0 L641.9 1083.6 L643.2 1084.3 L644.5 1084.1 L645.8 1082.9 L647.1 1081.1 L648.4 1079.3 L649.7 1078.4 L651.0 1078.5 L652.3 1079.1 L653.6 1079.5 L654.9 1079.7 L656.2 1080.2 L657.5 1080.8 L658.8 1081.3 L660.1 1082.0 L661.4 1083.4 L662.7 1084.5 L664.0 1084.5 L665.3 1084.5 L666.6 1084.2 L667.9 1083.3 L669.2 1083.3 L670.5 1083.6 L671.8 1083.6 L673.1 1083.1 L674.4 1082.7 L675.7 1082.9 L677.0 1083.2 L678.3 1083.2 L679.6 1083.3 L680.9 1083.7 L682.2 1083.6 L683.5 1083.0 L684.8 1082.7 L686.1 1083.4 L687.4 1084.4 L688.7 1083.0 L690.0 1081.1 L691.3 1079.8 L692.6 1079.3 L693.9 1079.0 L695.2 1078.4 L696.5 1077.8 L697.8 1078.1 L699.1 1079.8 L700.4 1082.3 L701.7 1084.6 L703.0 1084.6 L704.3 1084.6 L705.6 1084.0 L706.9 1082.0" stroke-width="1.0" stroke-dasharray="7 2.4 2.4 2.4 2.4 2.4"/>
</g>
<g fill="#000" font-family="'Liberation Mono', monospace">
<text class="n" transform="translate(214.40 76.20) scale(0.9683 1)" font-size="11.10" xml:space="preserve">322<tspan class="z" font-size="10.63" dx="0.37">0</tspan><tspan dx="0.37"> Bristol ave. , Santa Ana    SCSN Sta SAN</tspan></text>
<text class="n" transform="translate(238.00 85.50) scale(0.9698 1)" font-size="11.10" xml:space="preserve">Rcrd of Sat Oct  8, 2<tspan class="z" font-size="10.63" dx="0.37">0</tspan><tspan dx="0.37">16 15:43:36.</tspan><tspan class="z" font-size="10.63" dx="0.37">0</tspan><tspan dx="0.37"> PDT</tspan></text>
<text class="s" transform="translate(265.50 94.60) scale(0.8907 1)" font-size="8.40" xml:space="preserve">Frequency Band Processed: 3.3 secs to 4<tspan class="z" font-size="8.05" dx="0.28">0</tspan><tspan dx="0.28">.</tspan><tspan class="z" font-size="8.05" dx="0.28">0</tspan><tspan dx="0.28"> Hz</tspan></text>
<text class="s" transform="translate(197.60 103.30) scale(0.8907 1)" font-size="8.40" xml:space="preserve">CISN/CSMIP Preliminary Strong Motion Processing - Subject to Revision</text>
<text class="n" transform="translate(330.60 118.60) scale(0.9473 1)" font-size="11.10" xml:space="preserve">ACCELERATION (g)</text>
<text class="n" transform="translate(30.60 199.26) rotate(-90) scale(0.9473 1)" font-size="11.10" xml:space="preserve">ACCELERATION</text>
<text class="s" transform="translate(48.20 177.74) rotate(-90) scale(0.8907 1)" font-size="8.40" xml:space="preserve">(g)</text>
<text class="n" transform="translate(54.50 126.30) scale(0.8862 1)" font-size="11.00" xml:space="preserve">.<tspan class="z" font-size="10.54" dx="0.37 0.74">00</tspan><tspan dx="0.37">1</tspan><tspan class="z" font-size="10.54" dx="0.37">0</tspan></text>
<text class="n" transform="translate(82.70 142.85) scale(0.8862 1)" font-size="11.00" xml:space="preserve"><tspan class="z" font-size="10.54" dx="0.37">0</tspan></text>
<text class="n" transform="translate(47.05 157.40) scale(0.8862 1)" font-size="11.00" xml:space="preserve">-.<tspan class="z" font-size="10.54" dx="0.37 0.74">00</tspan><tspan dx="0.37">1</tspan><tspan class="z" font-size="10.54" dx="0.37">0</tspan></text>
<text class="s" transform="translate(109.60 126.10) scale(0.8907 1)" font-size="8.40" xml:space="preserve">Chn 1: 9<tspan class="z" font-size="8.05" dx="0.28">0</tspan><tspan dx="0.28"> Deg</tspan></text>
<text class="s" transform="translate(592.00 131.90) scale(0.8907 1)" font-size="8.40" xml:space="preserve">Max =</text>
<text class="s" transform="translate(626.90 131.90) scale(0.8907 1)" font-size="8.40" xml:space="preserve">.<tspan class="z" font-size="8.05" dx="0.28 0.57">00</tspan><tspan dx="0.28">179</tspan></text>
<text class="s" transform="translate(670.80 131.90) scale(0.8907 1)" font-size="8.40" xml:space="preserve">g</text>
<text class="n" transform="translate(54.50 165.10) scale(0.8862 1)" font-size="11.00" xml:space="preserve">.<tspan class="z" font-size="10.54" dx="0.37 0.74">00</tspan><tspan dx="0.37">1</tspan><tspan class="z" font-size="10.54" dx="0.37">0</tspan></text>
<text class="n" transform="translate(82.70 181.50) scale(0.8862 1)" font-size="11.00" xml:space="preserve"><tspan class="z" font-size="10.54" dx="0.37">0</tspan></text>
<text class="n" transform="translate(47.05 195.90) scale(0.8862 1)" font-size="11.00" xml:space="preserve">-.<tspan class="z" font-size="10.54" dx="0.37 0.74">00</tspan><tspan dx="0.37">1</tspan><tspan class="z" font-size="10.54" dx="0.37">0</tspan></text>
<text class="s" transform="translate(109.60 164.90) scale(0.8907 1)" font-size="8.40" xml:space="preserve">Chn 2: 36<tspan class="z" font-size="8.05" dx="0.28">0</tspan><tspan dx="0.28"> Deg</tspan></text>
<text class="s" transform="translate(626.90 170.70) scale(0.8907 1)" font-size="8.40" xml:space="preserve">.<tspan class="z" font-size="8.05" dx="0.28 0.57">00</tspan><tspan dx="0.28">179</tspan></text>
<text class="s" transform="translate(670.80 170.70) scale(0.8907 1)" font-size="8.40" xml:space="preserve">g</text>
<text class="n" transform="translate(54.50 203.80) scale(0.8862 1)" font-size="11.00" xml:space="preserve">.<tspan class="z" font-size="10.54" dx="0.37 0.74">00</tspan><tspan dx="0.37">1</tspan><tspan class="z" font-size="10.54" dx="0.37">0</tspan></text>
<text class="n" transform="translate(82.70 219.70) scale(0.8862 1)" font-size="11.00" xml:space="preserve"><tspan class="z" font-size="10.54" dx="0.37">0</tspan></text>
<text class="n" transform="translate(47.05 233.60) scale(0.8862 1)" font-size="11.00" xml:space="preserve">-.<tspan class="z" font-size="10.54" dx="0.37 0.74">00</tspan><tspan dx="0.37">1</tspan><tspan class="z" font-size="10.54" dx="0.37">0</tspan></text>
<text class="s" transform="translate(109.60 203.60) scale(0.8907 1)" font-size="8.40" xml:space="preserve">Chn 3: Up</text>
<text class="s" transform="translate(626.90 209.40) scale(0.8907 1)" font-size="8.40" xml:space="preserve">.<tspan class="z" font-size="8.05" dx="0.28 0.57 0.57">000</tspan><tspan dx="0.28">6</tspan><tspan class="z" font-size="8.05" dx="0.28">0</tspan></text>
<text class="s" transform="translate(670.80 209.40) scale(0.8907 1)" font-size="8.40" xml:space="preserve">g</text>
<text class="n" transform="translate(326.10 279.40) scale(0.9473 1)" font-size="11.10" xml:space="preserve">VELOCITY (cm/sec)</text>
<text class="n" transform="translate(30.60 347.44) rotate(-90) scale(0.9473 1)" font-size="11.10" xml:space="preserve">VELOCITY</text>
<text class="s" transform="translate(48.20 349.76) rotate(-90) scale(0.8907 1)" font-size="8.40" xml:space="preserve">(cm/sec)</text>
<text class="n" transform="translate(68.10 287.10) scale(0.8862 1)" font-size="11.00" xml:space="preserve">.<tspan class="z" font-size="10.54" dx="0.37">0</tspan><tspan dx="0.37">4</tspan></text>
<text class="n" transform="translate(82.70 303.55) scale(0.8862 1)" font-size="11.00" xml:space="preserve"><tspan class="z" font-size="10.54" dx="0.37">0</tspan></text>
<text class="n" transform="translate(61.05 318.00) scale(0.8862 1)" font-size="11.00" xml:space="preserve">-.<tspan class="z" font-size="10.54" dx="0.37">0</tspan><tspan dx="0.37">4</tspan></text>
<text class="s" transform="translate(109.60 286.90) scale(0.8907 1)" font-size="8.40" xml:space="preserve">Chn 1: 9<tspan class="z" font-size="8.05" dx="0.28">0</tspan><tspan dx="0.28"> Deg</tspan></text>
<text class="s" transform="translate(603.85 292.40) scale(0.8907 1)" font-size="8.40" xml:space="preserve">-.<tspan class="z" font-size="8.05" dx="0.28">0</tspan><tspan dx="0.28">55</tspan></text>
<text class="s" transform="translate(643.00 292.40) scale(0.8907 1)" font-size="8.40" xml:space="preserve">cm/sec</text>
<text class="n" transform="translate(68.10 325.70) scale(0.8862 1)" font-size="11.00" xml:space="preserve">.<tspan class="z" font-size="10.54" dx="0.37">0</tspan><tspan dx="0.37">4</tspan></text>
<text class="n" transform="translate(82.70 342.10) scale(0.8862 1)" font-size="11.00" xml:space="preserve"><tspan class="z" font-size="10.54" dx="0.37">0</tspan></text>
<text class="n" transform="translate(61.05 356.50) scale(0.8862 1)" font-size="11.00" xml:space="preserve">-.<tspan class="z" font-size="10.54" dx="0.37">0</tspan><tspan dx="0.37">4</tspan></text>
<text class="s" transform="translate(109.60 325.50) scale(0.8907 1)" font-size="8.40" xml:space="preserve">Chn 2: 36<tspan class="z" font-size="8.05" dx="0.28">0</tspan><tspan dx="0.28"> Deg</tspan></text>
<text class="s" transform="translate(603.85 331.00) scale(0.8907 1)" font-size="8.40" xml:space="preserve">-.<tspan class="z" font-size="8.05" dx="0.28">0</tspan><tspan dx="0.28">58</tspan></text>
<text class="s" transform="translate(643.00 331.00) scale(0.8907 1)" font-size="8.40" xml:space="preserve">cm/sec</text>
<text class="n" transform="translate(68.10 364.30) scale(0.8862 1)" font-size="11.00" xml:space="preserve">.<tspan class="z" font-size="10.54" dx="0.37">0</tspan><tspan dx="0.37">4</tspan></text>
<text class="n" transform="translate(82.70 380.60) scale(0.8862 1)" font-size="11.00" xml:space="preserve"><tspan class="z" font-size="10.54" dx="0.37">0</tspan></text>
<text class="n" transform="translate(61.05 394.90) scale(0.8862 1)" font-size="11.00" xml:space="preserve">-.<tspan class="z" font-size="10.54" dx="0.37">0</tspan><tspan dx="0.37">4</tspan></text>
<text class="s" transform="translate(109.60 364.10) scale(0.8907 1)" font-size="8.40" xml:space="preserve">Chn 3: Up</text>
<text class="s" transform="translate(608.34 369.60) scale(0.8907 1)" font-size="8.40" xml:space="preserve">.<tspan class="z" font-size="8.05" dx="0.28">0</tspan><tspan dx="0.28">1</tspan><tspan class="z" font-size="8.05" dx="0.28">0</tspan></text>
<text class="s" transform="translate(643.00 369.60) scale(0.8907 1)" font-size="8.40" xml:space="preserve">cm/sec</text>
<text class="n" transform="translate(325.90 440.40) scale(0.9473 1)" font-size="11.10" xml:space="preserve">DISPLACEMENT (cm)</text>
<text class="n" transform="translate(30.60 521.06) rotate(-90) scale(0.9473 1)" font-size="11.10" xml:space="preserve">DISPLACEMENT</text>
<text class="s" transform="translate(48.20 501.78) rotate(-90) scale(0.8907 1)" font-size="8.40" xml:space="preserve">(cm)</text>
<text class="n" transform="translate(61.95 448.10) scale(0.8862 1)" font-size="11.00" xml:space="preserve">.<tspan class="z" font-size="10.54" dx="0.37 0.74">00</tspan><tspan dx="0.37">3</tspan></text>
<text class="n" transform="translate(82.70 464.50) scale(0.8862 1)" font-size="11.00" xml:space="preserve"><tspan class="z" font-size="10.54" dx="0.37">0</tspan></text>
<text class="n" transform="translate(54.30 478.90) scale(0.8862 1)" font-size="11.00" xml:space="preserve">-.<tspan class="z" font-size="10.54" dx="0.37 0.74">00</tspan><tspan dx="0.37">3</tspan></text>
<text class="s" transform="translate(109.60 447.90) scale(0.8907 1)" font-size="8.40" xml:space="preserve">Chn 1: 9<tspan class="z" font-size="8.05" dx="0.28">0</tspan><tspan dx="0.28"> Deg</tspan></text>
<text class="s" transform="translate(620.66 453.50) scale(0.8907 1)" font-size="8.40" xml:space="preserve">-.<tspan class="z" font-size="8.05" dx="0.28 0.57">00</tspan><tspan dx="0.28">46</tspan></text>
<text class="s" transform="translate(666.00 453.50) scale(0.8907 1)" font-size="8.40" xml:space="preserve">cm</text>
<text class="n" transform="translate(61.95 486.60) scale(0.8862 1)" font-size="11.00" xml:space="preserve">.<tspan class="z" font-size="10.54" dx="0.37 0.74">00</tspan><tspan dx="0.37">3</tspan></text>
<text class="n" transform="translate(82.70 502.70) scale(0.8862 1)" font-size="11.00" xml:space="preserve"><tspan class="z" font-size="10.54" dx="0.37">0</tspan></text>
<text class="n" transform="translate(54.30 516.80) scale(0.8862 1)" font-size="11.00" xml:space="preserve">-.<tspan class="z" font-size="10.54" dx="0.37 0.74">00</tspan><tspan dx="0.37">3</tspan></text>
<text class="s" transform="translate(109.60 486.40) scale(0.8907 1)" font-size="8.40" xml:space="preserve">Chn 2: 36<tspan class="z" font-size="8.05" dx="0.28">0</tspan><tspan dx="0.28"> Deg</tspan></text>
<text class="s" transform="translate(620.66 492.00) scale(0.8907 1)" font-size="8.40" xml:space="preserve">-.<tspan class="z" font-size="8.05" dx="0.28 0.57">00</tspan><tspan dx="0.28">33</tspan></text>
<text class="s" transform="translate(666.00 492.00) scale(0.8907 1)" font-size="8.40" xml:space="preserve">cm</text>
<text class="n" transform="translate(61.95 524.60) scale(0.8862 1)" font-size="11.00" xml:space="preserve">.<tspan class="z" font-size="10.54" dx="0.37 0.74">00</tspan><tspan dx="0.37">3</tspan></text>
<text class="n" transform="translate(82.70 541.00) scale(0.8862 1)" font-size="11.00" xml:space="preserve"><tspan class="z" font-size="10.54" dx="0.37">0</tspan></text>
<text class="n" transform="translate(54.30 555.40) scale(0.8862 1)" font-size="11.00" xml:space="preserve">-.<tspan class="z" font-size="10.54" dx="0.37 0.74">00</tspan><tspan dx="0.37">3</tspan></text>
<text class="s" transform="translate(109.60 524.40) scale(0.8907 1)" font-size="8.40" xml:space="preserve">Chn 3: Up</text>
<text class="s" transform="translate(620.66 530.00) scale(0.8907 1)" font-size="8.40" xml:space="preserve">-.<tspan class="z" font-size="8.05" dx="0.28 0.57">00</tspan><tspan dx="0.28">1</tspan><tspan class="z" font-size="8.05" dx="0.28">0</tspan></text>
<text class="s" transform="translate(666.00 530.00) scale(0.8907 1)" font-size="8.40" xml:space="preserve">cm</text>
<text class="n" transform="translate(88.35 562.30) scale(0.8862 1)" font-size="11.00" xml:space="preserve">28</text>
<text class="n" transform="translate(147.93 562.30) scale(0.8862 1)" font-size="11.00" xml:space="preserve">3<tspan class="z" font-size="10.54" dx="0.37">0</tspan></text>
<text class="n" transform="translate(207.51 562.30) scale(0.8862 1)" font-size="11.00" xml:space="preserve">32</text>
<text class="n" transform="translate(267.09 562.30) scale(0.8862 1)" font-size="11.00" xml:space="preserve">34</text>
<text class="n" transform="translate(326.67 562.30) scale(0.8862 1)" font-size="11.00" xml:space="preserve">36</text>
<text class="n" transform="translate(386.25 562.30) scale(0.8862 1)" font-size="11.00" xml:space="preserve">38</text>
<text class="n" transform="translate(445.83 562.30) scale(0.8862 1)" font-size="11.00" xml:space="preserve">4<tspan class="z" font-size="10.54" dx="0.37">0</tspan></text>
<text class="n" transform="translate(505.41 562.30) scale(0.8862 1)" font-size="11.00" xml:space="preserve">42</text>
<text class="n" transform="translate(564.99 562.30) scale(0.8862 1)" font-size="11.00" xml:space="preserve">44</text>
<text class="n" transform="translate(624.57 562.30) scale(0.8862 1)" font-size="11.00" xml:space="preserve">46</text>
<text class="n" transform="translate(684.15 562.30) scale(0.8862 1)" font-size="11.00" xml:space="preserve">48</text>
<text class="n" transform="translate(359.00 570.50) scale(0.8995 1)" font-size="10.30" xml:space="preserve">Time (sec)</text>
<text class="s" transform="translate(101.20 572.40) scale(0.8907 1)" font-size="8.40" xml:space="preserve">37713424.CI.SAN.--.HN 1<tspan class="z" font-size="8.05" dx="0.28">0</tspan><tspan dx="0.28">/12/16 14:27:56</tspan></text>
<text class="s" transform="translate(481.40 572.40) scale(0.8907 1)" font-size="8.40" xml:space="preserve">CISAN--<tspan class="z" font-size="8.05" dx="0.28">0</tspan><tspan dx="0.28">  S_L_C_  v++.14.68.86R PC89</tspan></text>
</g>
<g fill="#000" font-family="'Liberation Mono', monospace">
<text class="n" transform="translate(278.80 654.70) scale(0.9189 1)" font-size="14.00" xml:space="preserve">SPECTRAL ACCELERATION, Sa</text>
<text class="n" transform="translate(278.80 907.90) scale(0.9189 1)" font-size="14.00" xml:space="preserve">VELOCITY FOURIER SPECTRUM</text>
<text class="n" transform="translate(579.60 682.40) scale(0.9349 1)" font-size="11.80" xml:space="preserve">(5% damping)</text>
<text class="n" transform="translate(60.65 667.90) scale(0.9145 1)" font-size="12.30" xml:space="preserve">.<tspan class="z" font-size="11.78" dx="0.41">0</tspan><tspan dx="0.41">3</tspan></text>
<text class="n" transform="translate(60.65 722.90) scale(0.9145 1)" font-size="12.30" xml:space="preserve">.<tspan class="z" font-size="11.78" dx="0.41">0</tspan><tspan dx="0.41">2</tspan></text>
<text class="n" transform="translate(60.65 777.90) scale(0.9145 1)" font-size="12.30" xml:space="preserve">.<tspan class="z" font-size="11.78" dx="0.41">0</tspan><tspan dx="0.41">1</tspan></text>
<text class="n" transform="translate(76.60 833.60) scale(0.9145 1)" font-size="12.30" xml:space="preserve"><tspan class="z" font-size="11.78" dx="0.41">0</tspan></text>
<text class="n" transform="translate(52.00 922.60) scale(0.9145 1)" font-size="12.30" xml:space="preserve">.<tspan class="z" font-size="11.78" dx="0.41">0</tspan><tspan dx="0.41">4</tspan><tspan class="z" font-size="11.78" dx="0.41">0</tspan></text>
<text class="n" transform="translate(52.00 963.88) scale(0.9145 1)" font-size="12.30" xml:space="preserve">.<tspan class="z" font-size="11.78" dx="0.41">0</tspan><tspan dx="0.41">3</tspan><tspan class="z" font-size="11.78" dx="0.41">0</tspan></text>
<text class="n" transform="translate(52.00 1005.15) scale(0.9145 1)" font-size="12.30" xml:space="preserve">.<tspan class="z" font-size="11.78" dx="0.41">0</tspan><tspan dx="0.41">2</tspan><tspan class="z" font-size="11.78" dx="0.41">0</tspan></text>
<text class="n" transform="translate(52.00 1046.42) scale(0.9145 1)" font-size="12.30" xml:space="preserve">.<tspan class="z" font-size="11.78" dx="0.41">0</tspan><tspan dx="0.41">1</tspan><tspan class="z" font-size="11.78" dx="0.41">0</tspan></text>
<text class="n" transform="translate(77.00 1087.90) scale(0.9145 1)" font-size="12.30" xml:space="preserve"><tspan class="z" font-size="11.78" dx="0.41">0</tspan></text>
<text class="n" transform="translate(85.62 841.40) scale(0.9145 1)" font-size="12.30" xml:space="preserve"><tspan class="z" font-size="11.78" dx="0.41">0</tspan></text>
<text class="n" transform="translate(184.73 841.40) scale(0.9145 1)" font-size="12.30" xml:space="preserve">.5</text>
<text class="n" transform="translate(283.84 841.40) scale(0.9145 1)" font-size="12.30" xml:space="preserve">1.<tspan class="z" font-size="11.78" dx="0.41">0</tspan></text>
<text class="n" transform="translate(386.32 841.40) scale(0.9145 1)" font-size="12.30" xml:space="preserve">1.5</text>
<text class="n" transform="translate(488.81 841.40) scale(0.9145 1)" font-size="12.30" xml:space="preserve">2.<tspan class="z" font-size="11.78" dx="0.41">0</tspan></text>
<text class="n" transform="translate(591.29 841.40) scale(0.9145 1)" font-size="12.30" xml:space="preserve">2.5</text>
<text class="n" transform="translate(693.77 841.40) scale(0.9145 1)" font-size="12.30" xml:space="preserve">3.<tspan class="z" font-size="11.78" dx="0.41">0</tspan></text>
<text class="n" transform="translate(85.43 1095.90) scale(0.9145 1)" font-size="12.30" xml:space="preserve"><tspan class="z" font-size="11.78" dx="0.41">0</tspan></text>
<text class="n" transform="translate(158.94 1095.90) scale(0.9145 1)" font-size="12.30" xml:space="preserve">.5</text>
<text class="n" transform="translate(232.45 1095.90) scale(0.9145 1)" font-size="12.30" xml:space="preserve">1.<tspan class="z" font-size="11.78" dx="0.41">0</tspan></text>
<text class="n" transform="translate(309.34 1095.90) scale(0.9145 1)" font-size="12.30" xml:space="preserve">1.5</text>
<text class="n" transform="translate(386.23 1095.90) scale(0.9145 1)" font-size="12.30" xml:space="preserve">2.<tspan class="z" font-size="11.78" dx="0.41">0</tspan></text>
<text class="n" transform="translate(463.11 1095.90) scale(0.9145 1)" font-size="12.30" xml:space="preserve">2.5</text>
<text class="n" transform="translate(540.00 1095.90) scale(0.9145 1)" font-size="12.30" xml:space="preserve">3.<tspan class="z" font-size="11.78" dx="0.41">0</tspan></text>
<text class="n" transform="translate(616.89 1095.90) scale(0.9145 1)" font-size="12.30" xml:space="preserve">3.5</text>
<text class="n" transform="translate(693.77 1095.90) scale(0.9145 1)" font-size="12.30" xml:space="preserve">4.<tspan class="z" font-size="11.78" dx="0.41">0</tspan></text>
<text class="n" transform="translate(348.00 851.50) scale(0.9145 1)" font-size="12.30" xml:space="preserve">Period (sec)</text>
<text class="n" transform="translate(340.20 1108.00) scale(0.9354 1)" font-size="11.90" xml:space="preserve">Frequency (Hz)</text>
<text class="n" transform="translate(48.80 757.60) rotate(-90) scale(0.9145 1)" font-size="12.30" xml:space="preserve">Sa (g)</text>
<text class="n" transform="translate(49.40 1038.40) rotate(-90) scale(0.9354 1)" font-size="11.90" xml:space="preserve">V(f)   cm/sec - sec</text>
<text class="n" transform="translate(404.20 694.00) scale(0.8992 1)" font-size="10.10" xml:space="preserve">Chn 1: 9<tspan class="z" font-size="9.68" dx="0.34">0</tspan><tspan dx="0.34"> Deg</tspan></text>
<text class="n" transform="translate(404.20 701.85) scale(0.8992 1)" font-size="10.10" xml:space="preserve">Chn 2: 36<tspan class="z" font-size="9.68" dx="0.34">0</tspan><tspan dx="0.34"> Deg</tspan></text>
<text class="n" transform="translate(404.20 709.70) scale(0.8992 1)" font-size="10.10" xml:space="preserve">Chn 3: Up</text>
<text class="n" transform="translate(404.20 717.55) scale(0.8992 1)" font-size="10.10" xml:space="preserve">Ref: 1991 Base Shear (S2,I1,Zone4,Rw1&amp;4)</text>
<text class="n" transform="translate(404.50 941.30) scale(0.8992 1)" font-size="10.10" xml:space="preserve">Chn 1: 9<tspan class="z" font-size="9.68" dx="0.34">0</tspan><tspan dx="0.34"> Deg</tspan></text>
<text class="n" transform="translate(404.50 949.40) scale(0.8992 1)" font-size="10.10" xml:space="preserve">Chn 2: 36<tspan class="z" font-size="9.68" dx="0.34">0</tspan><tspan dx="0.34"> Deg</tspan></text>
<text class="n" transform="translate(404.50 957.50) scale(0.8992 1)" font-size="10.10" xml:space="preserve">Chn 3: Up</text>
<text class="f" transform="translate(95.60 916.90) scale(0.8992 1)" font-size="10.10" xml:space="preserve">fcLow</text>
<text class="f" transform="translate(95.60 916.90) scale(0.8992 1)" font-size="10.10" xml:space="preserve">fcHi</text>
</g>
<g stroke="#000" fill="none" stroke-width="1.0">
<line x1="336.30" y1="691.20" x2="393.80" y2="691.20" stroke-width="1.1" />
<line x1="336.30" y1="699.15" x2="393.80" y2="699.15" stroke-width="1.1" stroke-dasharray="18 5.3"/>
<line x1="336.30" y1="707.10" x2="393.80" y2="707.10" stroke-width="1.1" stroke-dasharray="9 2.9 3 2.9 3 2.6"/>
<line x1="336.30" y1="715.05" x2="393.80" y2="715.05" stroke-width="1.1" />
</g>
<g stroke="#000" fill="none" stroke-width="1.0">
<line x1="336.30" y1="939.40" x2="393.80" y2="939.40" stroke-width="1.1" />
<line x1="336.30" y1="947.48" x2="393.80" y2="947.48" stroke-width="1.1" stroke-dasharray="18 5.3"/>
<line x1="336.30" y1="955.56" x2="393.80" y2="955.56" stroke-width="1.1" stroke-dasharray="9 2.9 3 2.9 3 2.6"/>
</g>
</svg>
</body></html>
